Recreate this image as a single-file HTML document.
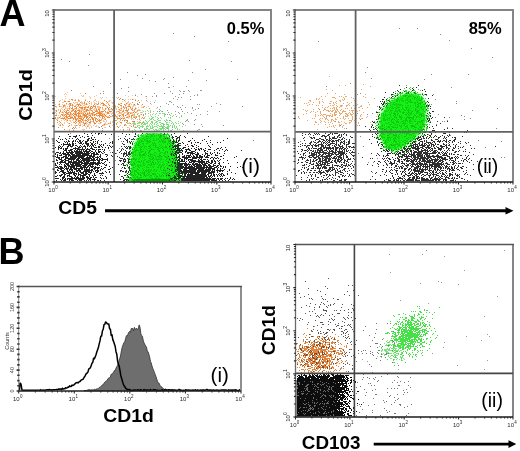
<!DOCTYPE html>
<html><head><meta charset="utf-8"><title>Figure</title><style>
html,body{margin:0;padding:0;background:#fff;}
body{width:520px;height:451px;overflow:hidden;position:relative;font-family:"Liberation Sans",sans-serif;}
svg{position:absolute;left:0;top:0;display:block;will-change:transform;}
</style></head><body>
<svg width="520" height="451" viewBox="0 0 520 451" font-family='"Liberation Sans",sans-serif'><defs>
<filter id="soft" x="0" y="0" width="100%" height="100%"><feGaussianBlur stdDeviation="0.4"/></filter>
<filter id="bl0" x="-30%" y="-30%" width="160%" height="160%"><feGaussianBlur stdDeviation="1.3"/></filter>
<filter id="bl1" x="-30%" y="-30%" width="160%" height="160%"><feGaussianBlur stdDeviation="3"/></filter>
<filter id="bl2" x="-30%" y="-30%" width="160%" height="160%"><feGaussianBlur stdDeviation="4"/></filter>
<clipPath id="cA1"><rect x="54" y="133" width="217" height="48.5"/></clipPath>
<clipPath id="cA2"><rect x="295" y="10" width="218" height="172"/></clipPath>
<clipPath id="cB2"><rect x="296" y="245" width="217" height="172"/></clipPath><clipPath id="cB2b"><rect x="296" y="374.5" width="217" height="42"/></clipPath>
</defs><g filter="url(#soft)"><path transform="translate(0 0.5)" stroke="#8a8a8a" stroke-width="1.0" fill="none" d="M130 146h1M143 140h1M117 93h1M89 122h1M109 126h1M85 93h1M132 132h1M190 99h1M107 154h1M102 130h1M152 127h1M146 107h1M134 121h1M88 65h1M128 91h1M161 135h1M69 61h1M109 150h1M71 147h1M119 148h1M72 128h1M142 78h1M137 162h1M121 168h1M105 116h1M127 120h1M135 95h1M61 157h1M108 108h1M85 123h1M93 101h1M177 106h1M93 86h1M128 162h1M169 120h1M103 153h1M124 125h1M134 104h1M132 115h1M74 108h1M133 125h1M191 113h1M60 116h1M168 83h1M135 100h1M101 174h1M220 104h1M164 93h1M76 135h1M133 167h1M155 81h1M121 118h1M160 106h1M127 72h1M160 147h1M194 124h1M99 127h1M139 102h1M109 138h1M135 108h1M76 120h1M103 91h1M121 88h1M170 165h1M181 109h1M70 133h1M94 123h1M159 111h1M109 143h1M125 115h1M186 120h1M161 125h1M115 160h1M113 145h1M118 136h1M198 108h1M110 83h1M116 153h1M145 153h1M124 120h1M121 141h1M79 148h1M129 149h1M110 152h1M182 111h1M159 170h1M128 87h1M160 150h1M114 139h1M177 151h1M156 169h1M71 90h1M145 74h1M116 124h1M89 150h1M137 75h1M231 61h1M92 132h1M101 126h1M139 117h1M152 126h1M122 99h1M120 79h1M189 60h1M183 93h1M76 125h1M194 36h1M188 80h1M228 41h1M223 125h1M124 152h1M206 80h1M237 79h1M242 106h1M89 54h1M61 59h1M192 72h1M100 93h1M173 33h1M253 140h1M135 112h1"/><path transform="translate(0 0.5)" stroke="#f5c49a" stroke-width="1.0" fill="none" d="M66 114h1M86 106h1M84 112h1M82 112h1M84 116h1M99 121h1M94 109h1M88 107h1M64 100h1M93 106h1M70 117h1M104 113h1M59 105h1M81 110h1M83 113h1M58 117h1M116 108h1M111 111h1M75 99h1M98 104h1M91 126h1M88 110h1M82 115h1M85 110h1M63 107h1M78 113h1M80 113h1M106 112h1M90 98h1M83 112h1M113 106h1M73 109h1M76 115h1M113 120h1M102 109h1M101 120h1M96 122h1M86 122h1M88 124h1M79 112h1M80 112h1M85 119h1M112 102h1M94 115h1M82 109h1M72 110h1M71 99h1M114 106h1M93 113h1M85 120h1M77 121h1M62 112h1M82 112h1M100 107h1M76 116h1M79 111h1M79 118h1M86 127h1M79 101h1M67 106h1M100 102h1M69 104h1M94 123h1M112 115h1M78 101h1M72 118h1M87 123h1M83 110h1M65 108h1M92 110h1M122 115h1M79 118h1M80 122h1M64 122h1M90 122h1M60 124h1M62 118h1M108 101h1M66 112h1M104 115h1M112 110h1M88 120h1M94 110h1M121 106h1M80 124h1M72 118h1M58 115h1M84 120h1M112 121h1M102 116h1M66 94h1M67 108h1M74 109h1M89 105h1M80 115h1M88 122h1M89 109h1M78 104h1M83 129h1M87 109h1M82 103h1M93 115h1M119 116h1M95 108h1M85 119h1M91 106h1M57 119h1M100 108h1M97 116h1M81 112h1M76 107h1M71 124h1M96 113h1M126 112h1M88 119h1M69 120h1M61 123h1M82 116h1M80 108h1M62 109h1M86 117h1M62 118h1M105 124h1M104 116h1M104 121h1M74 125h1M93 114h1M81 101h1M76 104h1M77 102h1M59 125h1M56 106h1M99 123h1M80 118h1M88 126h1M103 121h1M69 111h1M87 114h1M91 114h1M76 109h1M103 113h1M87 126h1M60 100h1M66 115h1M99 106h1M92 114h1M109 113h1M95 119h1M109 101h1M76 122h1M78 108h1M62 118h1M132 114h1M80 93h1M114 107h1M71 115h1M87 125h1M76 115h1M102 102h1M60 124h1M104 127h1M90 113h1M64 111h1M74 100h1M75 120h1M73 119h1M68 123h1M78 117h1M64 105h1M59 123h1M83 103h1M100 111h1M84 120h1M71 116h1M65 116h1M100 107h1M74 103h1M112 113h1M69 107h1M91 103h1M79 103h1M69 109h1M95 99h1M81 102h1M95 100h1M83 114h1M63 116h1M82 129h1M84 101h1M102 108h1M66 120h1M83 111h1M96 126h1M63 110h1M82 103h1M105 116h1M55 115h1M63 102h1M69 105h1M62 117h1M91 118h1M68 108h1M70 118h1M95 117h1M69 99h1M92 111h1M65 116h1M60 109h1M119 111h1M77 119h1M88 125h1M83 96h1M84 104h1M120 120h1M64 123h1M64 114h1M58 104h1M98 118h1M99 107h1M65 93h1M77 119h1M110 127h1M94 124h1M63 125h1M103 125h1M63 113h1M78 104h1M55 112h1M65 96h1M110 100h1M99 114h1M76 105h1M67 112h1M76 128h1M83 123h1M82 113h1M82 122h1M62 107h1M82 110h1M83 120h1M108 103h1M119 111h1M81 103h1M69 114h1M82 126h1M72 107h1M69 115h1M82 106h1M64 104h1M95 103h1M82 124h1M80 117h1M70 107h1M65 118h1M79 110h1M73 119h1M88 115h1M83 115h1M58 118h1M85 108h1M58 110h1M72 100h1M78 110h1M85 112h1M86 106h1M80 114h1M75 117h1M76 102h1M65 107h1M78 106h1M73 119h1M85 126h1M61 120h1M88 110h1M86 124h1M81 101h1M75 125h1M94 108h1M88 125h1M89 105h1M91 114h1M71 111h1M79 114h1M96 101h1M92 108h1M87 117h1M55 115h1M94 122h1M106 114h1M88 107h1M101 98h1M81 103h1M91 106h1M55 117h1M59 113h1M71 105h1M108 110h1M76 109h1M89 109h1M117 119h1M114 118h1M82 108h1M79 106h1M60 115h1M70 112h1M92 121h1M86 120h1M102 113h1M69 112h1M82 106h1M97 106h1M95 105h1M104 110h1M91 110h1M78 119h1M90 110h1M64 111h1M95 126h1M82 117h1M89 127h1M77 125h1M72 111h1M67 119h1M77 103h1M101 122h1M91 126h1M72 116h1M83 119h1M98 123h1M81 116h1M94 106h1M96 108h1M116 108h1M105 112h1M89 114h1M89 117h1M98 102h1M73 129h1M83 122h1M101 119h1M121 110h1M80 112h1M83 117h1M87 116h1M109 100h1M83 119h1M65 98h1M80 121h1M80 116h1M98 112h1M103 124h1M55 104h1M66 114h1M90 125h1M71 111h1M55 110h1M103 114h1M93 109h1M93 125h1M74 106h1M103 120h1M79 103h1M104 118h1M66 112h1M67 92h1M87 113h1M70 104h1M96 109h1M88 125h1M66 104h1M85 104h1M77 125h1M101 114h1M71 125h1M75 116h1M107 106h1M126 112h1M121 123h1M85 121h1M88 113h1M113 113h1M81 112h1M65 108h1M86 128h1M92 113h1M68 104h1M56 119h1M96 118h1M69 112h1M81 108h1M88 113h1M95 100h1M77 103h1M93 119h1M67 109h1M77 116h1M64 123h1M105 118h1M83 113h1M69 130h1M77 118h1M79 110h1M97 119h1M64 106h1M76 114h1M132 112h1M102 97h1M81 112h1M97 111h1M123 109h1M79 100h1M77 110h1M107 113h1M93 114h1M96 104h1M74 118h1M120 103h1M116 111h1M94 123h1M97 107h1M96 122h1M80 110h1M92 111h1M96 115h1M77 121h1M90 106h1M69 105h1M77 104h1M72 106h1M77 106h1M107 106h1M88 114h1M105 116h1M121 107h1M84 114h1M67 116h1M61 108h1M74 112h1M85 106h1M90 120h1M55 106h1M89 111h1M81 122h1M78 109h1M82 114h1M73 105h1M72 106h1M83 130h1M119 110h1M121 109h1M109 109h1M97 112h1M71 118h1M111 114h1M82 129h1M82 115h1M78 124h1M85 115h1M75 118h1M82 102h1M63 112h1M76 112h1M127 111h1M82 96h1M79 120h1M94 110h1M97 110h1M62 111h1M80 111h1M101 116h1M89 103h1M86 106h1M113 115h1M71 114h1M85 110h1M74 109h1M112 106h1M71 122h1M73 105h1M96 125h1M95 120h1M110 109h1M98 102h1M78 99h1M71 103h1M94 110h1M66 110h1M76 114h1M55 96h1M71 117h1M91 102h1M89 108h1M114 110h1M80 104h1M69 105h1M66 113h1M60 118h1M92 117h1M71 105h1M97 106h1M81 117h1M90 97h1M86 123h1M96 109h1M84 107h1M107 116h1M92 121h1M91 116h1M91 121h1M56 114h1M80 123h1M79 123h1M87 112h1M58 124h1M115 114h1M85 114h1M60 106h1M78 119h1M82 103h1M70 118h1M85 116h1M71 115h1M94 96h1M70 112h1M83 118h1M102 107h1M132 114h1M64 94h1M75 118h1M68 108h1M98 120h1M62 99h1M74 118h1M83 111h1M65 119h1M65 106h1M74 108h1M56 107h1M76 107h1M86 111h1M80 105h1M75 126h1M99 108h1M94 100h1M82 122h1M67 122h1M95 119h1M73 122h1M61 106h1M68 112h1M111 102h1M88 102h1M106 121h1M74 108h1M72 114h1M81 108h1M131 119h1M98 127h1M74 117h1M82 104h1M90 116h1M106 124h1M74 109h1M78 121h1M84 114h1M86 104h1M109 110h1M90 107h1M99 115h1M63 114h1M100 122h1M123 119h1M98 101h1M88 116h1M86 120h1M117 117h1M66 121h1M81 109h1M92 106h1M98 120h1M75 105h1M89 96h1M78 121h1M86 107h1M81 111h1M62 102h1M83 103h1M100 104h1M65 110h1M79 116h1M96 95h1M63 119h1M87 104h1M63 105h1M105 118h1M127 112h1M122 101h1M79 127h1M98 106h1M86 115h1M85 115h1M113 124h1M58 109h1M104 121h1M83 107h1M110 122h1M87 107h1M71 110h1M89 128h1M97 115h1M84 114h1M93 130h1M74 116h1M101 119h1M97 104h1M86 122h1M85 122h1M103 109h1M75 108h1M70 114h1M80 113h1M106 105h1M57 117h1M106 97h1M71 110h1M63 110h1M107 111h1M82 115h1M59 103h1M77 118h1M101 112h1M106 108h1M75 102h1M91 104h1M97 116h1M71 105h1M90 114h1M83 121h1M73 121h1M74 125h1M85 111h1M84 105h1M73 121h1M75 115h1M105 122h1M88 113h1M100 122h1M106 120h1M95 119h1M127 117h1M68 116h1M99 115h1M77 115h1M119 121h1M116 109h1M65 112h1M96 121h1M99 112h1M97 111h1M82 129h1M92 111h1M96 103h1M82 107h1M103 111h1M96 115h1M64 120h1M102 105h1M79 116h1M67 118h1M91 127h1M66 108h1M66 118h1M83 105h1M93 113h1M103 111h1M81 95h1M103 118h1M84 117h1M82 110h1M94 103h1M104 125h1M77 115h1M79 121h1M80 124h1M85 109h1M66 119h1M103 111h1M76 113h1M92 112h1M68 113h1M90 122h1M91 114h1M76 112h1M122 111h1M91 116h1M117 106h1M102 109h1M71 113h1M76 109h1M92 112h1M85 108h1M84 129h1M78 123h1M79 113h1M91 116h1M70 112h1M70 115h1M79 115h1M89 124h1M56 113h1M63 106h1M65 105h1M114 127h1M63 110h1M96 113h1M57 120h1M89 123h1M77 104h1M82 110h1M94 102h1M117 114h1M87 112h1M86 110h1M65 108h1M95 110h1M79 107h1M99 117h1M83 125h1M117 98h1M78 110h1M100 117h1M77 106h1M68 112h1M78 105h1M57 118h1M86 114h1M130 112h1M105 116h1M62 111h1M67 101h1M76 118h1M103 115h1M68 112h1M70 121h1M100 123h1M100 104h1M76 107h1M62 125h1M70 107h1M98 108h1M72 109h1M93 101h1M119 113h1M106 103h1M62 104h1M100 120h1M105 108h1M69 112h1M65 118h1M81 119h1M111 113h1M62 127h1M78 118h1M79 104h1M87 113h1M89 119h1M79 117h1M105 127h1M83 109h1M70 112h1M86 103h1M88 115h1M66 114h1M99 114h1M90 97h1M71 108h1M122 114h1M127 103h1M56 106h1M89 110h1M131 116h1M98 112h1M88 106h1M80 119h1M73 109h1M79 109h1M73 102h1M98 107h1M76 118h1M75 100h1M61 112h1M83 119h1M67 110h1M80 115h1M103 104h1M90 123h1M93 122h1M90 115h1M85 99h1M81 105h1M78 121h1M98 126h1M63 115h1M109 123h1M84 108h1M69 112h1M74 113h1M71 116h1M87 101h1M70 120h1M105 123h1M69 104h1M70 116h1M83 95h1M104 119h1M96 114h1M58 109h1M69 129h1M117 114h1M90 107h1M84 114h1M104 105h1M130 107h1M108 116h1M86 109h1M90 109h1M95 126h1M72 120h1M63 119h1M84 117h1M66 117h1M82 124h1M142 107h1M130 103h1M125 104h1M132 113h1M127 121h1M144 122h1M138 115h1M118 103h1M120 108h1M143 106h1M131 112h1M125 99h1M141 114h1M123 118h1M124 112h1M122 117h1M106 106h1M137 101h1M114 108h1M121 122h1M119 121h1M135 109h1M127 123h1M128 110h1M109 125h1M127 117h1M111 109h1M131 119h1M132 107h1M127 106h1M150 101h1M133 115h1M134 113h1M129 112h1M125 110h1M138 125h1M140 110h1M113 107h1M139 123h1M133 124h1M138 116h1M133 99h1M114 108h1M115 118h1M148 113h1M130 125h1M112 102h1M131 118h1M124 108h1M107 124h1M102 112h1M110 121h1M130 108h1M127 102h1M125 104h1M131 108h1M134 105h1M104 123h1M124 124h1M118 115h1M114 105h1M121 112h1M126 108h1M125 125h1M111 116h1M122 117h1M150 110h1M116 97h1M109 107h1M131 104h1M134 116h1M133 114h1M115 107h1M138 110h1M119 126h1M115 105h1M121 106h1M126 111h1M135 107h1M134 110h1M127 117h1M138 127h1M128 99h1M137 113h1M112 113h1M110 112h1M136 112h1M112 110h1M124 121h1M126 109h1M122 112h1M123 113h1M143 114h1M100 112h1M137 121h1M153 113h1M128 114h1M127 113h1M135 105h1M148 106h1M114 105h1M128 115h1M125 107h1M134 105h1M129 115h1M135 117h1M123 99h1M128 127h1M120 113h1M120 112h1M126 122h1M126 114h1M115 108h1M126 104h1M112 112h1M140 120h1M119 104h1M133 112h1M127 116h1M129 106h1M121 113h1M128 118h1M150 114h1M103 103h1M128 116h1M132 114h1M116 117h1M112 122h1M151 121h1M123 116h1M150 115h1M133 104h1M128 112h1M133 115h1M134 110h1M140 114h1M132 106h1M129 125h1M129 130h1M142 110h1M136 116h1M116 111h1M121 123h1M131 116h1M121 114h1M123 111h1M117 114h1M125 105h1M132 118h1M138 107h1M128 117h1M150 114h1M127 122h1M163 113h1M139 121h1M133 106h1M122 118h1M96 111h1M126 115h1M129 114h1M149 120h1M112 97h1M148 116h1M125 101h1M135 123h1M100 97h1M129 105h1M124 100h1M135 126h1M129 103h1M115 114h1M138 109h1M135 99h1M134 110h1M139 118h1M140 112h1M127 121h1M113 110h1M112 113h1M142 110h1M135 116h1M129 128h1M123 116h1M128 115h1M128 108h1M124 107h1M120 125h1M151 104h1M130 106h1M121 112h1M113 110h1M120 129h1M135 94h1M136 116h1M125 119h1M128 104h1M124 108h1M115 116h1M142 126h1M132 106h1M155 100h1M119 121h1M126 125h1M137 110h1M125 95h1M112 125h1M117 111h1M129 122h1M131 113h1M126 110h1M139 109h1M138 125h1M131 124h1M128 96h1M125 106h1M134 127h1M138 110h1M128 102h1M132 113h1M124 112h1M112 112h1M116 109h1M136 111h1M132 109h1M145 116h1M128 106h1M137 111h1M142 112h1M138 123h1M121 116h1M125 112h1M129 117h1M117 116h1M133 122h1M139 117h1M122 127h1M149 124h1M124 113h1M125 110h1M125 120h1M120 117h1M132 112h1M128 101h1M146 98h1M134 116h1M133 119h1M125 119h1M112 103h1M127 121h1M118 109h1M138 116h1M127 116h1M146 107h1M136 108h1M137 96h1M130 106h1M130 99h1M135 116h1M138 113h1M120 120h1M133 116h1M156 108h1M127 116h1M125 110h1M120 118h1M112 116h1M141 105h1M128 113h1M131 113h1M148 111h1M155 120h1M118 127h1M139 110h1M134 110h1M132 95h1M133 112h1M127 110h1M145 96h1M134 115h1M131 118h1M141 107h1M137 110h1M133 105h1M131 119h1M147 101h1M133 110h1M127 129h1M118 113h1M124 117h1M116 112h1M129 104h1M130 113h1M105 116h1M128 105h1M135 116h1M129 123h1M117 122h1M141 100h1"/><path transform="translate(0 0.5)" stroke="#e98a3e" stroke-width="1.0" fill="none" d="M67 117h1M56 111h1M102 114h1M94 104h1M95 114h1M69 108h1M64 111h1M85 113h1M85 115h1M69 103h1M86 103h1M94 112h1M87 117h1M66 116h1M79 122h1M86 117h1M79 113h1M76 107h1M72 107h1M96 110h1M83 115h1M86 115h1M67 114h1M73 113h1M86 118h1M66 115h1M62 115h1M78 116h1M104 110h1M87 107h1M108 117h1M81 116h1M78 112h1M60 111h1M74 128h1M108 109h1M89 112h1M96 115h1M95 106h1M83 114h1M80 125h1M86 120h1M95 118h1M91 117h1M92 114h1M86 120h1M70 112h1M79 111h1M67 114h1M101 119h1M80 118h1M124 100h1M78 121h1M64 129h1M83 122h1M105 111h1M81 108h1M94 115h1M85 107h1M77 118h1M137 110h1M85 120h1M74 122h1M75 100h1M90 115h1M90 109h1M97 104h1M86 109h1M59 112h1M93 120h1M78 104h1M79 120h1M58 127h1M74 117h1M71 117h1M83 113h1M59 106h1M84 117h1M86 116h1M64 118h1M73 130h1M69 118h1M99 116h1M78 105h1M55 106h1M76 111h1M98 109h1M73 118h1M86 111h1M69 125h1M116 123h1M99 119h1M103 111h1M61 118h1M65 119h1M102 107h1M80 116h1M79 118h1M89 115h1M62 124h1M97 121h1M84 108h1M92 114h1M72 108h1M92 117h1M72 108h1M100 120h1M103 116h1M99 120h1M92 113h1M94 104h1M98 112h1M79 122h1M85 116h1M79 118h1M60 125h1M74 116h1M95 123h1M108 104h1M73 119h1M68 112h1M108 113h1M68 114h1M119 116h1M84 124h1M68 101h1M100 114h1M112 109h1M59 121h1M110 111h1M79 116h1M109 111h1M77 118h1M57 120h1M92 111h1M99 114h1M119 104h1M113 115h1M95 119h1M79 110h1M75 121h1M78 100h1M69 101h1M79 104h1M87 114h1M83 113h1M127 113h1M96 118h1M75 110h1M93 105h1M63 105h1M73 127h1M108 112h1M94 123h1M64 117h1M82 108h1M100 114h1M92 119h1M90 121h1M69 108h1M73 118h1M85 115h1M99 121h1M69 123h1M64 111h1M103 104h1M68 116h1M102 125h1M88 118h1M98 115h1M113 129h1M95 107h1M97 119h1M68 110h1M72 114h1M94 114h1M110 123h1M107 107h1M123 110h1M89 103h1M87 117h1M101 111h1M84 116h1M82 107h1M66 111h1M100 120h1M65 112h1M92 118h1M59 117h1M102 111h1M66 103h1M98 120h1M56 115h1M76 120h1M104 100h1M70 103h1M85 100h1M75 108h1M89 117h1M91 113h1M65 114h1M93 118h1M70 112h1M66 116h1M84 114h1M72 99h1M122 111h1M57 122h1M96 111h1M100 113h1M93 121h1M75 112h1M90 107h1M103 93h1M77 110h1M65 101h1M87 119h1M68 118h1M89 101h1M87 119h1M60 116h1M113 108h1M102 118h1M98 103h1M63 106h1M77 104h1M74 106h1M76 119h1M64 105h1M91 106h1M87 107h1M90 115h1M75 111h1M105 119h1M87 109h1M73 110h1M83 114h1M100 107h1M78 115h1M79 125h1M72 110h1M95 114h1M76 122h1M73 109h1M71 108h1M93 106h1M74 116h1M55 117h1M94 112h1M72 114h1M90 122h1M90 119h1M104 104h1M101 113h1M74 114h1M81 118h1M62 112h1M112 109h1M91 110h1M107 102h1M78 113h1M110 116h1M85 107h1M86 110h1M84 107h1M94 106h1M93 118h1M56 110h1M102 116h1M75 106h1M76 114h1M113 102h1M99 110h1M78 110h1M86 114h1M93 112h1M82 119h1M62 114h1M70 117h1M62 118h1M87 113h1M97 111h1M101 115h1M71 111h1M87 116h1M93 120h1M75 119h1M81 111h1M120 105h1M87 113h1M99 112h1M76 120h1M84 111h1M83 118h1M104 110h1M119 112h1M104 124h1M95 123h1M84 117h1M73 115h1M81 107h1M94 117h1M70 114h1M99 115h1M67 110h1M66 112h1M55 115h1M60 122h1M103 116h1M80 102h1M87 107h1M103 103h1M105 108h1M75 117h1M106 116h1M90 109h1M84 115h1M91 108h1M59 104h1M70 104h1M82 108h1M94 122h1M77 104h1M81 121h1M100 122h1M107 112h1M97 113h1M105 109h1M77 113h1M78 117h1M89 113h1M78 120h1M75 121h1M112 115h1M80 115h1M67 113h1M92 115h1M115 106h1M85 116h1M104 114h1M76 108h1M75 127h1M72 107h1M81 108h1M115 115h1M64 101h1M111 108h1M66 103h1M80 107h1M98 112h1M94 115h1M88 120h1M55 118h1M90 121h1M66 117h1M127 110h1M80 120h1M87 110h1M64 109h1M75 123h1M62 118h1M100 115h1M79 118h1M93 119h1M72 104h1M75 113h1M105 105h1M67 114h1M90 122h1M64 117h1M76 108h1M99 113h1M70 105h1M98 113h1M72 117h1M109 115h1M106 101h1M75 111h1M80 116h1M69 115h1M87 121h1M103 105h1M59 117h1M99 109h1M61 114h1M69 116h1M119 109h1M84 114h1M88 106h1M72 104h1M102 117h1M84 103h1M121 108h1M77 113h1M84 123h1M95 120h1M70 118h1M84 102h1M100 112h1M87 116h1M90 116h1M78 116h1M89 112h1M84 125h1M108 123h1M96 113h1M79 107h1M96 110h1M96 121h1M68 126h1M64 115h1M99 111h1M65 116h1M76 115h1M87 126h1M104 117h1M83 113h1M82 120h1M74 111h1M111 111h1M102 128h1M82 108h1M60 110h1M70 113h1M93 106h1M71 99h1M99 120h1M90 108h1M88 110h1M95 111h1M92 107h1M69 106h1M78 114h1M123 129h1M63 118h1M75 118h1M102 103h1M81 113h1M70 105h1M61 118h1M93 112h1M101 113h1M107 113h1M84 109h1M101 103h1M66 117h1M86 104h1M72 105h1M86 111h1M96 109h1M102 115h1M67 120h1M105 115h1M75 114h1M66 113h1M81 119h1M59 101h1M84 116h1M88 107h1M80 105h1M143 114h1M124 108h1M102 107h1M134 111h1M122 120h1M123 111h1M141 112h1M123 110h1M137 104h1M125 124h1M118 97h1M131 109h1M119 118h1M138 104h1M135 118h1M126 122h1M132 108h1M131 115h1M123 106h1M134 117h1M123 114h1M132 115h1M116 123h1M127 117h1M130 123h1M118 118h1M121 105h1M120 115h1M133 117h1M118 104h1M130 123h1M141 114h1M129 116h1M109 107h1M127 114h1M136 116h1M123 111h1M137 114h1M132 99h1M130 123h1M123 106h1M120 98h1M123 107h1M126 108h1M131 117h1M130 107h1M123 116h1M126 107h1M129 129h1M109 117h1M118 127h1M118 107h1M124 118h1M123 107h1M123 118h1M117 118h1M132 102h1M128 106h1M109 105h1M126 103h1M114 108h1M143 107h1M121 103h1M122 114h1M126 117h1M124 104h1M125 110h1M141 114h1M128 112h1M134 109h1M137 119h1M116 120h1M143 118h1M133 112h1M135 127h1M117 126h1M134 111h1M130 113h1M120 122h1M149 108h1M131 116h1M123 114h1M128 109h1M135 112h1M137 103h1M132 110h1M138 100h1M140 130h1M113 124h1M121 122h1M116 116h1M127 121h1M140 122h1M132 121h1M115 120h1M123 107h1M136 117h1M120 110h1M125 105h1M129 106h1M107 117h1M133 121h1M129 104h1M131 126h1M116 124h1M118 111h1M120 110h1M128 113h1M126 120h1M127 111h1M144 106h1M139 116h1M119 99h1M119 115h1M143 122h1M123 116h1M139 119h1M142 117h1M120 119h1M123 115h1"/><path transform="translate(0 0.5)" stroke="#7ee07e" stroke-width="1.0" fill="none" d="M146 123h1M154 126h1M178 123h1M162 123h1M147 126h1M154 130h1M175 122h1M161 111h1M168 127h1M160 128h1M156 122h1M158 118h1M178 123h1M154 124h1M178 121h1M173 115h1M157 123h1M168 130h1M155 122h1M146 126h1M153 111h1M145 124h1M163 125h1M157 117h1M164 113h1M167 128h1M116 120h1M161 129h1M133 123h1M159 130h1M145 123h1M158 115h1M174 125h1M134 123h1M159 130h1M155 122h1M132 123h1M198 129h1M144 128h1M152 126h1M152 126h1M143 126h1M164 124h1M150 123h1M139 125h1M146 127h1M151 118h1M168 112h1M163 128h1M152 114h1M157 127h1M159 126h1M163 128h1M166 122h1M144 117h1M159 120h1M159 126h1M150 111h1M164 126h1M170 125h1M171 130h1M154 123h1M159 126h1M187 120h1M142 122h1M159 113h1M168 126h1M165 127h1M159 128h1M166 119h1M154 120h1M156 126h1M151 119h1M142 126h1M166 127h1M179 129h1M179 125h1M173 123h1M144 129h1M176 123h1M147 126h1M156 121h1M181 115h1M143 121h1M167 122h1M160 126h1M145 114h1M162 126h1M150 110h1M170 118h1M172 122h1M139 110h1M150 112h1M152 127h1M141 126h1M142 125h1M158 120h1M135 124h1M150 119h1M141 130h1M144 123h1M174 127h1M135 130h1M139 127h1M161 118h1M153 127h1M151 118h1M164 120h1M128 123h1M141 126h1M170 130h1M154 126h1M134 115h1M163 130h1M162 128h1M163 123h1M153 119h1M163 128h1M168 128h1M136 127h1M149 129h1M146 121h1M145 129h1M167 120h1M147 122h1M142 123h1M157 121h1M151 128h1M166 123h1M183 130h1M152 128h1M149 125h1M134 122h1M160 122h1M168 124h1M153 117h1M172 129h1M157 125h1M176 126h1M161 128h1M148 121h1M137 125h1M134 114h1M160 110h1M168 112h1M156 113h1M153 129h1M169 122h1M132 130h1M166 120h1M158 129h1M151 122h1M151 116h1M179 117h1M180 122h1M142 125h1M148 121h1M168 127h1M141 124h1M147 123h1M133 117h1M181 116h1M170 120h1M162 128h1M165 129h1M147 125h1M172 116h1M150 126h1M145 111h1M173 124h1M164 128h1M127 123h1M164 116h1M139 122h1M171 123h1M160 120h1M162 123h1M158 125h1M141 123h1M168 117h1M137 126h1M150 128h1M146 128h1M152 117h1M168 125h1M148 113h1M166 119h1M134 124h1M141 123h1M152 122h1M149 118h1M160 113h1M166 127h1M166 128h1M139 125h1M157 130h1M150 126h1M155 129h1M166 128h1M151 124h1M175 128h1M143 111h1M163 125h1M137 123h1M166 124h1M141 112h1M145 120h1M151 124h1M159 122h1M155 114h1M152 123h1M184 113h1M157 119h1M144 124h1M169 126h1M167 126h1M172 125h1M144 129h1M170 117h1M171 121h1M157 121h1M160 124h1M117 122h1M149 120h1M133 126h1M150 123h1M160 124h1M164 124h1M134 129h1M168 104h1M139 128h1M174 126h1M164 114h1M123 130h1M155 122h1M162 113h1M152 121h1M144 118h1M152 118h1M152 125h1M155 116h1M160 129h1M155 126h1M163 125h1M150 127h1M171 113h1M161 123h1M182 126h1M177 128h1M168 129h1M148 126h1M138 122h1M164 115h1M160 122h1M163 126h1M156 124h1M161 126h1M163 129h1M167 128h1M156 130h1M167 127h1M133 126h1M146 129h1M175 114h1M160 117h1M140 126h1M167 126h1M137 119h1M163 127h1M162 127h1M142 126h1M176 127h1M158 115h1M141 123h1M174 127h1M148 129h1M185 125h1M161 125h1M172 126h1M127 127h1M170 115h1M156 129h1M143 124h1M161 118h1M142 127h1M151 121h1M141 118h1M177 129h1M139 115h1M147 110h1"/><path transform="translate(0 0.5)" stroke="#9a9a9a" stroke-width="1.0" fill="none" d="M167 114h1M162 127h1M170 91h1M165 114h1M182 123h1M171 102h1M164 78h1M166 103h1M188 90h1M195 119h1M194 95h1M110 111h1M156 96h1M169 101h1M180 91h1M143 115h1M182 105h1M163 124h1M179 94h1M169 114h1M186 86h1M167 128h1M147 128h1M163 79h1M173 86h1M154 93h1M201 124h1M154 102h1M211 106h1M194 120h1M157 111h1M178 112h1M199 104h1M172 127h1M152 96h1M216 103h1M146 96h1M187 119h1M176 116h1M173 77h1M168 112h1M169 87h1M197 95h1M188 121h1M156 95h1M207 114h1M150 103h1M180 107h1M200 90h1M183 91h1M197 94h1M175 111h1M195 109h1M183 124h1M219 111h1M162 111h1M200 114h1M185 107h1M179 113h1M165 121h1M185 121h1M146 100h1M149 80h1M190 96h1M145 113h1M205 69h1M170 101h1M181 116h1M177 99h1M184 91h1M173 104h1M197 130h1M199 129h1M201 90h1M172 93h1M142 104h1M189 91h1M193 110h1M168 87h1M192 108h1M202 126h1M178 112h1M197 104h1M141 94h1M167 124h1M168 104h1M187 112h1M159 109h1M167 110h1M157 107h1M175 96h1M177 99h1M196 115h1M192 107h1M179 90h1M181 97h1M178 97h1M178 107h1M207 111h1M126 110h1M173 98h1"/><path transform="translate(0 0.5)" stroke="#222" stroke-width="1.0" fill="none" d="M80 156h1M60 162h1M79 160h1M56 160h1M66 154h1M63 156h1M89 164h1M62 167h1M84 168h1M73 172h1M62 174h1M57 141h1M87 155h1M86 159h1M91 154h1M106 172h1M84 169h1M84 160h1M78 162h1M81 175h1M75 157h1M67 157h1M109 171h1M83 176h1M86 165h1M82 169h1M66 155h1M77 150h1M73 161h1M79 165h1M74 171h1M72 162h1M90 158h1M64 173h1M86 160h1M71 172h1M86 180h1M81 169h1M83 171h1M65 166h1M68 164h1M67 164h1M82 162h1M90 173h1M95 143h1M72 158h1M81 168h1M56 152h1M67 153h1M70 166h1M57 170h1M87 166h1M68 153h1M55 164h1M82 176h1M75 137h1M89 165h1M68 141h1M102 169h1M57 166h1M60 166h1M77 171h1M68 165h1M100 154h1M56 165h1M69 174h1M83 160h1M87 161h1M94 147h1M84 174h1M111 155h1M72 153h1M82 156h1M91 151h1M74 158h1M75 175h1M72 170h1M70 176h1M63 177h1M71 151h1M57 166h1M84 177h1M56 178h1M109 145h1M103 145h1M95 166h1M76 157h1M70 150h1M97 165h1M81 152h1M87 136h1M68 161h1M94 162h1M67 168h1M80 171h1M69 158h1M86 153h1M72 143h1M72 156h1M90 172h1M78 168h1M97 180h1M87 141h1M86 170h1M56 172h1M60 148h1M91 143h1M63 162h1M70 169h1M87 148h1M74 157h1M86 152h1M66 148h1M83 146h1M94 162h1M83 157h1M80 180h1M66 150h1M99 159h1M106 165h1M70 144h1M101 162h1M78 159h1M60 171h1M80 149h1M84 154h1M87 158h1M94 178h1M66 144h1M86 164h1M89 153h1M75 164h1M65 168h1M65 162h1M90 164h1M90 164h1M67 154h1M59 158h1M97 142h1M56 157h1M81 152h1M67 158h1M80 165h1M76 166h1M99 173h1M111 134h1M76 165h1M93 160h1M94 160h1M71 146h1M66 167h1M102 173h1M73 172h1M78 160h1M74 168h1M77 171h1M70 178h1M89 174h1M97 162h1M73 162h1M59 162h1M79 163h1M57 155h1M69 169h1M96 153h1M112 152h1M84 164h1M63 154h1M90 158h1M69 169h1M101 160h1M89 159h1M59 166h1M55 163h1M91 153h1M78 178h1M70 156h1M85 171h1M70 179h1M90 162h1M69 152h1M64 172h1M59 157h1M82 148h1M67 175h1M88 171h1M75 151h1M94 174h1M73 163h1M69 178h1M63 154h1M89 158h1M61 162h1M64 161h1M84 169h1M86 161h1M69 144h1M80 152h1M56 176h1M74 173h1M92 159h1M102 159h1M76 159h1M75 161h1M85 142h1M95 170h1M86 153h1M68 162h1M84 133h1M93 163h1M68 175h1M59 136h1M86 177h1M84 166h1M93 152h1M80 143h1M69 173h1M72 163h1M64 167h1M65 158h1M71 152h1M72 170h1M95 150h1M61 170h1M78 142h1M70 150h1M100 145h1M83 175h1M73 141h1M91 148h1M80 168h1M72 163h1M101 178h1M89 178h1M104 167h1M95 168h1M90 140h1M81 151h1M63 157h1M89 159h1M80 145h1M89 150h1M79 151h1M69 172h1M64 165h1M89 157h1M97 157h1M75 164h1M85 153h1M99 158h1M67 142h1M74 168h1M63 171h1M96 164h1M83 166h1M72 165h1M55 178h1M76 163h1M93 146h1M75 149h1M73 168h1M88 172h1M61 169h1M80 170h1M88 163h1M68 144h1M67 153h1M82 141h1M77 156h1M76 145h1M82 162h1M82 159h1M66 139h1M69 169h1M85 169h1M95 145h1M98 162h1M67 168h1M95 157h1M90 170h1M79 163h1M86 172h1M91 162h1M105 159h1M64 166h1M88 169h1M77 163h1M76 155h1M96 152h1M91 156h1M64 154h1M75 163h1M82 162h1M59 159h1M91 160h1M78 162h1M81 178h1M84 174h1M105 154h1M80 165h1M74 157h1M104 159h1M72 158h1M72 153h1M59 145h1M95 133h1M83 163h1M86 173h1M81 150h1M77 166h1M68 156h1M68 163h1M85 151h1M81 158h1M102 159h1M68 134h1M72 163h1M64 159h1M99 133h1M61 167h1M90 160h1M100 163h1M77 164h1M89 156h1M74 155h1M55 156h1M82 179h1M79 180h1M68 155h1M93 156h1M84 164h1M72 167h1M72 153h1M58 149h1M76 178h1M109 172h1M69 143h1M85 141h1M71 151h1M91 163h1M85 166h1M76 156h1M72 163h1M96 167h1M76 160h1M88 155h1M72 167h1M85 148h1M84 161h1M71 146h1M74 171h1M83 165h1M71 149h1M84 163h1M76 174h1M77 159h1M71 179h1M67 143h1M85 158h1M72 144h1M87 159h1M95 133h1M81 142h1M57 154h1M69 162h1M92 164h1M75 165h1M68 173h1M78 168h1M86 168h1M83 149h1M88 158h1M67 179h1M75 178h1M76 169h1M79 168h1M76 156h1M60 179h1M99 156h1M102 159h1M103 178h1M91 137h1M72 164h1M93 141h1M76 153h1M88 159h1M66 156h1M71 162h1M86 151h1M105 159h1M79 147h1M112 156h1M61 168h1M79 146h1M66 168h1M77 155h1M72 157h1M78 174h1M93 161h1M93 139h1M83 166h1M81 163h1M81 156h1M87 144h1M79 161h1M86 157h1M61 180h1M91 155h1M104 180h1M82 176h1M59 153h1M99 151h1M75 175h1M76 162h1M88 157h1M85 146h1M97 156h1M88 149h1M81 143h1M63 180h1M82 179h1M89 159h1M65 162h1M71 166h1M86 176h1M76 156h1M83 173h1M72 180h1M80 137h1M60 169h1M89 159h1M78 162h1M83 174h1M89 161h1M72 145h1M91 138h1M97 160h1M85 147h1M98 163h1M70 146h1M92 156h1M83 143h1M65 156h1M78 155h1M72 167h1M71 176h1M81 158h1M95 150h1M75 178h1M81 164h1M58 167h1M81 167h1M96 177h1M91 172h1M86 168h1M72 169h1M65 150h1M78 153h1M60 159h1M62 161h1M93 160h1M66 164h1M105 161h1M59 155h1M86 142h1M63 170h1M82 167h1M64 150h1M80 166h1M77 165h1M73 161h1M87 139h1M101 146h1M71 153h1M92 179h1M81 150h1M79 156h1M111 147h1M70 164h1M76 168h1M84 153h1M105 171h1M98 171h1M73 136h1M86 158h1M103 173h1M82 153h1M82 157h1M87 171h1M58 157h1M68 146h1M84 152h1M87 145h1M66 167h1M75 140h1M78 172h1M77 141h1M89 161h1M81 143h1M82 157h1M59 172h1M64 173h1M84 175h1M56 159h1M83 161h1M70 163h1M68 167h1M89 156h1M70 173h1M67 164h1M70 173h1M80 166h1M79 155h1M76 145h1M93 157h1M74 158h1M98 146h1M64 179h1M78 159h1M60 175h1M63 172h1M92 157h1M91 177h1M86 169h1M74 150h1M81 155h1M81 163h1M88 139h1M70 162h1M77 153h1M82 152h1M80 168h1M68 178h1M104 164h1M72 167h1M90 160h1M82 152h1M97 163h1M109 162h1M76 170h1M61 158h1M81 180h1M112 141h1M86 167h1M61 166h1M72 163h1M98 147h1M59 147h1M76 157h1M75 161h1M110 146h1M75 148h1M98 167h1M69 172h1M67 154h1M94 152h1M88 152h1M88 166h1M88 159h1M70 172h1M82 178h1M83 174h1M72 144h1M71 159h1M69 155h1M75 156h1M60 146h1M78 156h1M58 148h1M80 164h1M78 161h1M64 144h1M91 140h1M107 155h1M98 168h1M59 166h1M97 159h1M78 154h1M70 152h1M79 156h1M99 146h1M87 155h1M73 152h1M69 179h1M73 168h1M87 158h1M106 159h1M64 159h1M79 162h1M73 155h1M68 160h1M85 172h1M87 170h1M59 164h1M64 175h1M96 163h1M84 149h1M87 140h1M72 152h1M74 159h1M86 165h1M72 172h1M63 153h1M79 151h1M92 169h1M64 174h1M94 155h1M89 164h1M67 176h1M79 164h1M78 159h1M88 136h1M89 175h1M60 167h1M60 161h1M94 155h1M81 146h1M85 159h1M84 159h1M101 173h1M62 146h1M95 177h1M67 160h1M89 174h1M98 149h1M59 164h1M85 174h1M75 161h1M75 143h1M80 156h1M64 166h1M65 144h1M88 143h1M91 163h1M71 149h1M58 168h1M112 146h1M95 139h1M84 151h1M64 177h1M71 150h1M82 160h1M65 163h1M102 149h1M81 173h1M85 162h1M64 165h1M66 141h1M68 140h1M75 158h1M75 157h1M84 168h1M82 177h1M100 157h1M76 157h1M65 165h1M79 178h1M100 151h1M71 167h1M80 157h1M74 156h1M85 169h1M83 151h1M67 148h1M76 168h1M92 160h1M95 157h1M92 159h1M91 166h1M74 156h1M74 169h1M92 165h1M62 177h1M78 175h1M74 158h1M69 161h1M62 153h1M87 178h1M69 158h1M74 166h1M75 176h1M69 144h1M99 151h1M72 156h1M82 149h1M60 146h1M72 154h1M74 175h1M75 168h1M71 161h1M81 160h1M101 141h1M77 168h1M77 165h1M73 148h1M102 158h1M87 154h1M89 149h1M69 152h1M77 149h1M82 165h1M81 164h1M67 164h1M68 158h1M86 155h1M83 178h1M80 174h1M97 164h1M70 161h1M82 154h1M58 158h1M91 147h1M63 144h1M61 159h1M75 141h1M70 173h1M86 142h1M82 163h1M103 163h1M61 161h1M56 165h1M75 169h1M84 170h1M84 180h1M94 160h1M58 170h1M67 142h1M77 159h1M91 146h1M86 176h1M73 180h1M65 166h1M92 145h1M93 159h1M77 162h1M102 173h1M62 171h1M69 176h1M72 155h1M67 154h1M71 177h1M78 157h1M73 144h1M88 145h1M78 161h1M79 171h1M100 177h1M84 158h1M81 155h1M79 179h1M80 155h1M87 177h1M68 163h1M95 163h1M101 158h1M95 164h1M72 155h1M56 152h1M73 159h1M81 153h1M91 164h1M76 161h1M75 157h1M101 158h1M70 158h1M94 180h1M92 160h1M60 153h1M83 157h1M71 168h1M66 158h1M57 157h1M85 162h1M74 165h1M83 165h1M64 141h1M75 148h1M57 169h1M55 173h1M85 175h1M81 162h1M66 173h1M78 160h1M88 159h1M105 143h1M66 151h1M88 153h1M109 171h1M80 179h1M100 155h1M100 163h1M79 151h1M90 152h1M94 144h1M96 157h1M96 159h1M79 158h1M68 158h1M73 166h1M79 150h1M85 170h1M72 141h1M80 161h1M92 165h1M84 151h1M112 142h1M110 168h1M63 152h1M71 169h1M60 169h1M63 160h1M87 160h1M65 172h1M64 165h1M75 149h1M90 162h1M74 167h1M74 163h1M92 162h1M86 158h1M86 159h1M93 149h1M65 144h1M82 173h1M70 153h1M94 163h1M91 143h1M64 162h1M98 151h1M62 179h1M96 149h1M82 149h1M67 171h1M63 173h1M75 136h1M79 163h1M69 170h1M87 146h1M59 168h1M79 154h1M79 149h1M83 155h1M61 144h1M70 155h1M76 152h1M92 170h1M72 159h1M100 175h1M100 157h1M95 164h1M98 161h1M84 162h1M71 158h1M88 159h1M93 179h1M82 152h1M76 154h1M57 156h1M89 167h1M84 165h1M60 171h1M80 145h1M89 163h1M78 158h1M90 157h1M90 162h1M58 138h1M75 163h1M86 162h1M92 144h1M99 159h1M78 156h1M89 167h1M97 158h1M103 151h1M66 150h1M74 156h1M64 175h1M91 169h1M60 152h1M96 172h1M92 159h1M86 152h1M69 150h1M90 142h1M59 175h1M76 139h1M78 166h1M92 143h1M83 160h1M83 158h1M73 155h1M79 135h1M77 159h1M89 160h1M76 150h1M94 159h1M55 171h1M96 152h1M77 163h1M95 147h1M80 165h1M91 167h1M100 180h1M71 170h1M80 165h1M77 176h1M82 149h1M56 172h1M77 154h1M75 153h1M68 173h1M76 163h1M57 175h1M99 144h1M85 163h1M106 154h1M67 157h1M62 139h1M83 171h1M55 163h1M82 149h1M69 145h1M74 150h1M83 176h1M80 159h1M106 156h1M88 166h1M61 160h1M93 163h1M60 169h1M80 164h1M61 170h1M67 147h1M98 161h1M71 156h1M70 162h1M71 160h1M75 153h1M100 156h1M62 171h1M61 154h1M87 146h1M56 167h1M74 171h1M95 157h1M79 162h1M72 151h1M69 158h1M66 173h1M70 169h1M81 162h1M97 157h1M93 142h1M71 164h1M68 166h1M89 172h1M73 165h1M74 171h1M63 148h1M65 174h1M84 170h1M55 176h1M66 168h1M69 166h1M80 177h1M59 153h1M94 168h1M74 173h1M75 152h1M74 148h1M69 165h1M65 162h1M95 167h1M82 168h1M77 152h1M93 164h1M68 173h1M88 157h1M79 157h1M66 148h1M89 170h1M57 178h1M88 145h1M66 169h1M84 171h1M98 154h1M87 156h1M70 149h1M78 152h1M73 163h1M62 168h1M63 162h1M79 170h1M86 163h1M77 177h1M86 174h1M80 153h1M64 180h1M93 166h1M61 162h1M88 180h1M101 133h1M82 169h1M83 158h1M81 150h1M67 178h1M74 166h1M58 146h1M80 153h1M86 170h1M69 180h1M65 138h1M71 164h1M78 157h1M79 141h1M77 159h1M79 143h1M60 155h1M87 167h1M98 170h1M58 168h1M69 165h1M82 172h1M92 148h1M87 157h1M96 170h1M77 153h1M84 156h1M84 174h1M72 178h1M95 154h1M87 152h1M92 167h1M73 164h1M93 153h1M63 168h1M84 167h1M64 179h1M89 176h1M72 170h1M81 172h1M55 178h1M100 173h1M87 153h1M78 165h1M84 162h1M83 155h1M98 164h1M81 164h1M57 160h1M74 156h1M96 170h1M86 143h1M72 170h1M87 161h1M80 164h1M87 134h1M56 180h1M65 142h1M88 151h1M75 168h1M83 154h1M106 156h1M74 136h1M81 156h1M70 163h1M69 169h1M77 158h1M57 163h1M97 153h1M77 153h1M94 179h1M80 151h1M80 175h1M88 162h1M88 178h1M61 154h1M95 167h1M64 165h1M81 158h1M79 152h1M102 160h1M73 157h1M87 170h1M79 160h1M84 145h1M66 157h1M65 160h1M83 151h1M56 176h1M66 166h1M87 171h1M69 152h1M65 157h1M62 172h1M80 145h1M73 165h1M80 162h1M75 155h1M104 162h1M72 149h1M80 147h1M78 147h1M80 177h1M55 153h1M94 137h1M78 172h1M77 152h1M85 160h1M77 171h1M97 165h1M72 180h1M61 160h1M80 168h1M65 150h1M84 163h1M63 178h1M76 167h1M75 163h1M78 139h1M71 157h1M67 146h1M77 170h1M70 153h1M80 165h1M74 150h1M77 148h1M98 163h1M82 179h1M87 163h1M84 151h1M71 168h1M59 172h1M89 171h1M93 139h1M86 163h1M84 137h1M84 178h1M78 162h1M82 156h1M78 169h1M83 167h1M65 148h1M69 179h1M86 158h1M73 141h1M80 178h1M105 167h1M88 151h1M88 172h1M69 179h1M62 170h1M75 179h1M78 152h1M67 173h1M80 172h1M88 144h1M87 143h1M64 153h1M78 166h1M69 159h1M84 160h1M101 160h1M101 162h1M82 168h1M94 167h1M101 160h1M79 164h1M82 156h1M90 170h1M78 155h1M71 180h1M68 161h1M78 164h1M70 152h1M89 157h1M74 163h1M99 161h1M95 154h1M61 148h1M93 162h1M73 163h1M97 167h1M85 175h1M78 158h1M88 138h1M71 159h1M83 140h1M84 146h1M76 173h1M84 168h1M65 154h1M86 154h1M62 160h1M87 141h1M85 167h1M88 157h1M71 178h1M75 173h1M81 153h1M68 173h1M98 150h1M72 170h1M92 156h1M66 152h1M83 159h1M73 167h1M91 166h1M75 179h1M67 171h1M62 157h1M65 138h1M89 157h1M89 146h1M73 148h1M66 163h1M82 158h1M87 179h1M71 165h1M76 167h1M90 180h1M89 155h1M78 161h1M68 150h1M66 164h1M71 173h1M88 177h1M87 161h1M83 153h1M98 152h1M75 145h1M74 163h1M74 177h1M105 134h1M83 177h1M85 143h1M80 165h1M111 147h1M95 170h1M90 170h1M67 163h1M86 171h1M74 162h1M80 168h1M82 178h1M73 174h1M88 154h1M101 152h1M93 158h1M82 159h1M94 154h1M94 169h1M77 162h1M73 165h1M88 161h1M68 168h1M90 148h1M65 179h1M67 165h1M79 166h1M59 168h1M79 174h1M87 170h1M61 164h1M92 159h1M72 142h1M87 164h1M82 158h1M73 158h1M72 180h1M56 140h1M70 162h1M69 175h1M102 172h1M93 176h1M61 147h1M90 150h1M82 168h1M74 158h1M86 180h1M90 164h1M72 164h1M76 166h1M82 158h1M66 163h1M82 154h1M78 161h1M70 156h1M68 164h1M84 145h1M91 144h1M84 167h1M68 164h1M90 150h1M82 159h1M87 149h1M95 179h1M67 144h1M78 179h1M71 152h1M68 166h1M107 158h1M92 157h1M55 172h1M85 171h1M72 158h1M95 151h1M81 179h1M77 178h1M81 163h1M85 158h1M80 165h1M76 162h1M78 175h1M86 150h1M64 162h1M79 153h1M78 177h1M73 178h1M89 160h1M62 168h1M75 178h1M68 158h1M87 151h1M73 173h1M80 167h1M85 159h1M58 178h1M86 164h1M69 141h1M76 166h1M78 161h1M90 180h1M89 161h1M103 159h1M82 167h1M73 164h1M73 145h1M88 163h1M101 158h1M84 178h1M72 179h1M83 149h1M83 150h1M80 152h1M69 154h1M72 162h1M94 174h1M82 147h1M80 140h1M106 177h1M82 144h1M63 143h1M90 163h1M69 174h1M87 173h1M80 164h1M64 169h1M89 165h1M61 155h1M98 180h1M80 162h1M66 149h1M55 156h1M101 144h1M99 162h1M62 174h1M102 147h1M82 175h1M77 180h1M78 166h1M76 148h1M99 152h1M82 158h1M55 147h1M108 147h1M91 159h1M65 160h1M75 169h1M67 148h1M80 180h1M85 174h1M83 172h1M71 154h1M69 178h1M91 158h1M78 178h1M110 174h1M69 151h1M90 156h1M80 178h1M69 173h1M98 160h1M81 164h1M67 164h1M75 153h1M93 159h1M63 154h1M98 157h1M89 167h1M76 151h1M98 170h1M103 163h1M88 170h1M82 172h1M105 176h1M100 169h1M67 170h1M77 160h1M77 168h1M74 151h1M59 159h1M92 170h1M81 161h1M81 167h1M99 149h1M72 177h1M79 155h1M83 166h1M74 161h1M78 172h1M90 157h1M79 150h1M98 140h1M69 158h1M82 148h1M60 168h1M78 178h1M70 136h1M98 147h1M90 165h1M86 176h1M105 165h1M99 165h1M89 167h1M70 168h1M60 179h1M79 169h1M75 147h1M71 156h1M76 164h1M57 152h1M100 159h1M64 156h1M70 153h1M87 170h1M57 157h1M92 149h1M92 153h1M75 162h1M65 178h1M73 165h1M98 167h1M80 137h1M69 166h1M67 152h1M87 146h1M100 149h1M62 178h1M72 143h1M55 154h1M89 175h1M82 169h1M110 142h1M78 160h1M74 156h1M70 159h1M91 170h1M57 155h1M90 158h1M83 178h1M73 140h1M67 157h1M94 167h1M105 147h1M73 154h1M87 146h1M103 163h1M71 154h1M76 171h1M63 173h1M77 162h1M78 157h1M74 165h1M69 162h1M58 147h1M61 174h1M66 164h1M88 171h1M72 146h1M68 172h1M89 179h1M87 169h1M69 145h1M71 162h1M89 161h1M85 164h1M68 159h1M83 167h1M79 156h1M95 164h1M68 154h1M92 163h1M85 173h1M66 156h1M94 169h1M92 151h1M61 157h1M107 159h1M64 176h1M67 153h1M75 176h1M90 145h1M88 160h1M78 172h1M98 170h1M85 150h1M99 147h1M82 147h1M73 155h1M65 161h1M81 178h1M81 179h1M62 171h1M63 145h1M76 165h1M77 162h1M93 177h1M80 141h1M79 165h1M84 163h1M65 153h1M79 180h1M94 147h1M95 162h1M86 162h1M76 136h1M68 145h1M98 150h1M87 171h1M74 172h1M67 164h1M97 164h1M82 155h1M69 175h1M76 177h1M97 170h1M61 171h1M78 149h1M62 162h1M55 147h1M82 172h1M102 159h1M80 152h1M74 156h1M82 167h1M94 155h1M59 164h1M106 178h1M83 154h1M102 173h1M83 179h1M101 133h1M71 150h1M87 159h1M102 175h1M94 156h1M73 166h1M92 153h1M70 168h1M59 147h1M87 171h1M92 139h1M61 180h1M92 163h1M89 151h1M73 178h1M94 175h1M92 156h1M87 169h1M55 167h1M58 142h1M94 168h1M91 159h1M87 176h1M76 177h1M85 154h1M72 154h1M75 164h1M67 169h1M83 156h1M73 160h1M93 168h1M90 166h1M68 175h1M106 164h1M63 151h1M86 141h1M95 171h1M98 157h1M94 158h1M97 143h1M100 157h1M70 157h1M78 151h1M73 178h1M99 167h1M70 159h1M97 163h1M88 170h1M58 152h1M65 159h1M73 157h1M81 178h1M94 162h1M77 138h1M93 171h1M57 178h1M75 178h1M86 161h1M74 173h1M65 155h1M86 158h1M108 147h1M78 149h1M69 136h1M67 175h1M108 148h1M79 166h1M88 165h1M97 154h1M95 162h1M66 160h1M93 155h1M92 162h1M87 162h1M94 149h1M71 146h1M78 151h1M72 163h1M90 178h1M70 179h1M85 165h1M64 172h1M78 163h1M74 174h1M78 163h1M81 166h1M77 158h1M76 161h1M96 147h1M70 161h1M76 154h1M68 173h1M94 179h1M66 157h1M97 168h1M103 168h1M97 141h1M88 158h1M62 160h1M98 134h1M97 169h1M92 166h1M91 164h1M81 149h1M72 153h1M95 154h1M98 167h1M65 149h1M93 179h1M83 166h1M92 135h1M84 180h1M96 163h1M94 155h1M92 162h1M60 139h1M92 163h1M63 149h1M90 177h1M60 176h1M93 157h1M104 150h1M72 172h1M93 160h1M86 164h1M89 169h1M60 148h1M89 171h1M82 136h1M90 179h1M80 142h1M96 154h1M84 153h1M90 170h1M100 170h1M82 165h1M94 168h1M83 167h1M87 160h1M72 138h1M91 133h1M98 133h1M79 160h1M91 158h1M86 159h1M64 164h1M85 158h1M99 149h1M73 143h1M83 176h1M71 172h1M107 145h1M79 158h1M80 166h1M71 180h1M84 154h1M72 163h1M67 175h1M79 140h1M68 152h1M99 160h1M63 152h1M79 179h1M70 171h1M60 163h1M104 149h1M101 168h1M60 155h1M81 156h1M112 143h1M60 171h1M99 173h1M82 168h1M72 171h1M80 154h1M66 155h1M82 175h1M101 166h1M75 151h1M82 167h1M97 171h1M108 169h1M72 162h1M84 155h1M72 166h1M71 178h1M74 163h1M71 153h1M55 165h1M70 164h1M82 157h1M97 172h1M72 162h1M78 173h1M89 178h1M91 158h1M78 151h1M79 166h1M107 160h1M75 162h1M73 154h1M57 167h1M86 162h1M76 135h1M107 158h1M75 165h1M92 175h1M93 154h1M103 151h1M61 175h1M102 153h1M80 162h1M79 166h1M76 170h1M74 161h1M75 147h1M87 156h1M81 155h1M67 179h1M79 171h1M85 155h1M75 158h1M104 152h1M69 138h1M78 170h1M72 170h1M77 164h1M90 156h1M88 163h1M70 168h1M78 148h1M81 157h1M74 154h1M79 169h1M70 164h1M70 145h1M81 153h1M65 180h1M86 149h1M77 163h1M67 153h1M71 176h1M73 160h1M78 155h1M82 147h1M77 158h1M68 171h1M100 169h1M93 145h1M82 179h1M93 158h1M85 148h1M76 162h1M81 153h1M94 153h1M95 160h1M74 155h1M88 140h1M112 167h1M86 154h1M95 175h1M98 167h1M89 168h1M102 163h1M83 176h1M87 157h1M71 149h1M81 156h1M99 163h1M73 156h1M80 176h1M69 169h1M80 162h1M74 156h1M88 174h1M78 153h1M72 156h1M76 169h1M78 168h1M73 180h1M93 158h1M89 138h1M82 168h1M63 176h1M87 159h1M62 179h1M82 178h1M81 153h1M72 155h1M68 146h1M70 167h1M109 169h1M76 168h1M77 146h1M93 152h1M86 144h1M95 141h1M63 145h1M65 142h1M79 166h1M76 168h1M82 160h1M94 153h1M63 160h1M84 167h1M79 157h1M89 161h1M82 157h1M72 154h1M68 161h1M94 173h1M59 142h1M74 166h1M103 144h1M74 178h1M88 171h1M77 151h1M90 155h1M80 147h1M73 160h1M99 165h1M76 179h1M61 144h1M75 175h1M87 154h1M64 164h1M91 171h1M91 167h1M109 166h1M71 158h1M89 160h1M57 162h1"/><path transform="translate(0 0.5)" stroke="#222" stroke-width="1.0" fill="none" d="M184 178h1M196 179h1M194 175h1M197 179h1M201 168h1M175 171h1M174 157h1M173 172h1M171 164h1M190 175h1M196 155h1M230 166h1M200 174h1M192 177h1M213 159h1M180 170h1M197 180h1M206 178h1M204 175h1M198 149h1M186 166h1M172 178h1M189 176h1M182 178h1M202 179h1M189 175h1M200 179h1M167 158h1M206 180h1M178 171h1M167 168h1M170 178h1M182 179h1M209 178h1M202 168h1M173 176h1M193 180h1M190 164h1M167 172h1M176 171h1M160 171h1M178 167h1M151 163h1M179 177h1M177 176h1M179 178h1M179 173h1M209 168h1M186 161h1M195 174h1M203 171h1M205 179h1M202 179h1M183 178h1M175 166h1M180 161h1M184 172h1M192 166h1M190 179h1M208 175h1M190 170h1M219 173h1M207 178h1M184 165h1M205 178h1M147 162h1M213 172h1M198 168h1M198 176h1M166 175h1M230 178h1M188 180h1M189 168h1M209 162h1M189 166h1M178 170h1M202 172h1M176 167h1M203 179h1M194 178h1M209 171h1M173 169h1M211 171h1M196 173h1M222 173h1M182 159h1M220 170h1M202 157h1M204 174h1M180 180h1M200 164h1M202 175h1M179 168h1M174 167h1M180 178h1M214 178h1M194 178h1M206 170h1M196 177h1M193 172h1M195 178h1M185 166h1M210 173h1M194 170h1M195 161h1M170 179h1M196 178h1M181 167h1M184 161h1M207 167h1M175 166h1M188 168h1M201 160h1M209 166h1M184 174h1M196 177h1M196 156h1M174 174h1M159 165h1M162 164h1M201 171h1M193 167h1M171 180h1M182 180h1M185 171h1M186 168h1M191 180h1M225 180h1M180 177h1M194 172h1M180 178h1M182 179h1M178 169h1M188 178h1M183 172h1M197 180h1M195 169h1M178 174h1M221 170h1M174 174h1M197 178h1M225 166h1M181 171h1M212 178h1M213 169h1M197 180h1M163 161h1M213 178h1M193 168h1M183 180h1M211 180h1M180 178h1M208 161h1M183 171h1M200 174h1M175 179h1M185 178h1M177 180h1M181 178h1M194 165h1M189 180h1M194 158h1M211 175h1M190 164h1M163 158h1M187 180h1M193 173h1M207 179h1M207 159h1M206 163h1M188 173h1M201 168h1M169 174h1M211 168h1M198 170h1M199 163h1M186 180h1M192 171h1M181 163h1M200 180h1M171 178h1M206 175h1M200 176h1M223 170h1M191 172h1M190 154h1M194 160h1M192 163h1M190 176h1M175 178h1M175 172h1M183 171h1M187 178h1M173 170h1M174 179h1M187 177h1M203 162h1M189 176h1M202 175h1M206 163h1M203 164h1M185 162h1M185 180h1M163 179h1M181 180h1M199 179h1M175 161h1M212 180h1M213 179h1M186 179h1M206 165h1M170 178h1M175 172h1M186 179h1M192 168h1M189 174h1M178 168h1M222 178h1M196 173h1M196 179h1M202 180h1M194 177h1M188 173h1M183 171h1M166 174h1M214 180h1M177 175h1M166 176h1M179 173h1M167 173h1M222 168h1M197 157h1M213 179h1M214 179h1M200 165h1M200 179h1M180 163h1M190 179h1M182 176h1M192 176h1M181 180h1M211 179h1M203 174h1M190 164h1M166 163h1M202 175h1M205 178h1M190 178h1M172 173h1M198 177h1M208 180h1M162 180h1M200 167h1M164 180h1M193 176h1M218 167h1M193 164h1M199 180h1M187 177h1M191 172h1M227 174h1M212 178h1M187 174h1M186 178h1M192 171h1M225 167h1M195 173h1M209 165h1M186 170h1M172 178h1M212 179h1M190 179h1M180 175h1M181 165h1M181 165h1M182 177h1M168 175h1M210 168h1M197 170h1M206 179h1M186 179h1M197 174h1M194 176h1M209 180h1M204 177h1M197 176h1M182 159h1M173 158h1M179 156h1M182 153h1M183 173h1M173 177h1M217 166h1M196 178h1M161 178h1M175 173h1M171 160h1M195 178h1M208 179h1M176 168h1M201 180h1M187 174h1M209 166h1M212 170h1M196 157h1M202 170h1M191 159h1M186 179h1M174 176h1M196 161h1M190 179h1M186 158h1M190 175h1M189 178h1M176 174h1M183 163h1M209 173h1M188 172h1M213 174h1M174 180h1M171 180h1M193 179h1M203 168h1M182 167h1M201 174h1M206 177h1M208 155h1M190 168h1M191 179h1M166 162h1M192 167h1M196 167h1M213 178h1M172 173h1M179 171h1M176 160h1M205 179h1M153 174h1M175 168h1M223 174h1M201 179h1M171 160h1M191 160h1M204 164h1M200 166h1M188 146h1M179 168h1M204 180h1M191 171h1M204 178h1M198 148h1M184 172h1M213 179h1M184 179h1M198 169h1M182 166h1M188 177h1M188 163h1M181 170h1M195 158h1M211 174h1M220 174h1M213 178h1M189 177h1M214 168h1M198 173h1M219 162h1M172 174h1M214 172h1M182 177h1M209 179h1M184 155h1M205 176h1M187 180h1M163 163h1M177 180h1M188 167h1M192 180h1M158 180h1M173 178h1M180 176h1M188 179h1M195 164h1M179 166h1M169 156h1M196 178h1M186 167h1M205 180h1M184 179h1M201 161h1M178 180h1M196 176h1M193 175h1M198 178h1M177 173h1M190 174h1M179 178h1M189 165h1M201 163h1M237 167h1M192 179h1M202 171h1M193 178h1M209 146h1M198 167h1M207 169h1M197 176h1M228 180h1M212 172h1M166 164h1M196 178h1M193 179h1M158 150h1M179 179h1M185 176h1M180 166h1M193 169h1M164 176h1M203 174h1M203 171h1M197 163h1M187 176h1M192 168h1M185 174h1M209 168h1M199 175h1M222 180h1M186 176h1M213 179h1M183 161h1M189 178h1M176 176h1M199 168h1M191 172h1M201 148h1M214 174h1M191 170h1M197 153h1M205 178h1M191 168h1M183 176h1M197 171h1M199 178h1M203 174h1M204 171h1M182 178h1M198 180h1M210 153h1M185 174h1M197 168h1M182 163h1M194 178h1M218 179h1M194 164h1M177 163h1M197 178h1M195 168h1M208 171h1M171 156h1M178 172h1M190 180h1M168 169h1M209 172h1M161 180h1M179 179h1M169 180h1M182 179h1M204 180h1M201 158h1M206 166h1M201 159h1M161 178h1M196 175h1M164 172h1M184 167h1M186 164h1M183 148h1M199 180h1M179 173h1M218 174h1M201 161h1M209 173h1M203 177h1M205 173h1M191 179h1M221 166h1M176 176h1M199 178h1M192 178h1M188 177h1M196 172h1M180 165h1M205 178h1M203 170h1M193 165h1M203 180h1M176 159h1M164 168h1M183 180h1M188 180h1M229 170h1M188 174h1M207 178h1M204 173h1M223 166h1M193 177h1M201 175h1M189 174h1M179 179h1M177 176h1M180 169h1M213 175h1M196 180h1M189 167h1M192 171h1M183 166h1M191 177h1M191 162h1M201 177h1M205 180h1M167 166h1M195 166h1M212 160h1M176 174h1M188 163h1M194 168h1M208 170h1M201 167h1M188 180h1M199 179h1M207 154h1M198 166h1M220 176h1M198 164h1M176 169h1M180 175h1M190 178h1M189 179h1M201 171h1M197 175h1M217 170h1M204 172h1M214 163h1M180 158h1M185 170h1M202 180h1M193 180h1M201 157h1M195 172h1M182 168h1M217 176h1M209 164h1M168 180h1M182 172h1M192 179h1M202 179h1M191 156h1M171 171h1M204 180h1M189 174h1M210 179h1M196 177h1M207 169h1M204 176h1M205 179h1M184 179h1M207 178h1M195 163h1M173 179h1M186 161h1M187 172h1M199 172h1M202 179h1M175 176h1M203 179h1M191 168h1M176 180h1M204 177h1M180 173h1M174 163h1M203 179h1M205 176h1M182 180h1M208 173h1M207 171h1M184 177h1M222 178h1M191 180h1M195 180h1M156 168h1M201 180h1M183 147h1M198 178h1M166 166h1M209 179h1M214 165h1M220 178h1M148 165h1M201 163h1M197 178h1M147 178h1M181 167h1M191 178h1M213 171h1M179 178h1M195 164h1M191 165h1M197 174h1M186 164h1M205 178h1M207 154h1M172 175h1M209 168h1M181 165h1M188 175h1M209 171h1M194 169h1M201 180h1M204 176h1M201 177h1M184 180h1M178 173h1M202 178h1M204 170h1M198 179h1M189 178h1M205 169h1M192 160h1M172 162h1M196 165h1M200 178h1M204 172h1M179 171h1M181 178h1M197 180h1M186 178h1M191 168h1M206 178h1M198 180h1M220 165h1M197 175h1M218 165h1M208 171h1M230 177h1M193 158h1M191 166h1M212 166h1M185 174h1M186 167h1M196 177h1M198 166h1M172 169h1M196 179h1M188 176h1M192 175h1M195 173h1M190 179h1M209 180h1M200 170h1M190 167h1M194 164h1M208 180h1M205 165h1M212 162h1M191 176h1M195 179h1M223 162h1M192 172h1M218 161h1M206 167h1M187 179h1M172 175h1M202 171h1M182 174h1M182 176h1M167 173h1M211 163h1M195 163h1M193 179h1M199 167h1M197 179h1M194 167h1M201 180h1M189 180h1M155 172h1M204 178h1M199 165h1M193 171h1M217 166h1M172 167h1M150 170h1M215 165h1M199 171h1M169 178h1M187 158h1M202 162h1M175 165h1M201 169h1M225 178h1M214 180h1M193 178h1M198 175h1M179 180h1M195 163h1M188 163h1M178 173h1M173 175h1M222 171h1M194 166h1M178 162h1M187 171h1M215 167h1M217 169h1M184 164h1M196 178h1M206 178h1M188 180h1M176 169h1M179 174h1M193 171h1M182 174h1M174 171h1M190 172h1M207 156h1M203 171h1M190 180h1M221 156h1M181 170h1M192 179h1M173 180h1M205 173h1M191 178h1M168 178h1M181 179h1M220 169h1M204 168h1M195 180h1M206 175h1M169 169h1M181 171h1M173 176h1M181 172h1M187 171h1M201 171h1M208 160h1M208 178h1M233 178h1M186 178h1M193 172h1M201 175h1M181 179h1M189 178h1M199 157h1M180 177h1M200 165h1M211 173h1M176 168h1M159 178h1M194 178h1M177 173h1M195 180h1M186 173h1M197 167h1M210 172h1M205 170h1M188 174h1M175 179h1M156 172h1M160 173h1M181 180h1M194 176h1M183 179h1M184 175h1M169 162h1M168 163h1M167 159h1M202 179h1M163 177h1M203 169h1M179 165h1M200 177h1M196 172h1M203 176h1M210 166h1M180 164h1M178 180h1M186 165h1M180 173h1M202 180h1M190 157h1M192 180h1M198 174h1M185 172h1M208 176h1M164 163h1M195 154h1M199 178h1M180 171h1M181 179h1M205 178h1M187 176h1M163 178h1M171 180h1M207 180h1M178 178h1M211 179h1M212 171h1M189 170h1M200 174h1M179 177h1M186 178h1M181 179h1M200 179h1M172 174h1M190 179h1M192 176h1M199 177h1M160 178h1M165 171h1M178 164h1M188 175h1M194 171h1M194 166h1M221 175h1M201 172h1M200 168h1M184 158h1M203 172h1M202 180h1M201 178h1M190 179h1M201 173h1M214 179h1M179 168h1M159 169h1M204 178h1M202 161h1M188 174h1M185 176h1M232 179h1M184 167h1M173 177h1M184 168h1M199 169h1M182 150h1M185 165h1M196 178h1M185 178h1M193 175h1M191 180h1M175 178h1M192 163h1M174 172h1M205 173h1M177 179h1M188 166h1M164 177h1M185 178h1M173 166h1M213 174h1M189 156h1M199 174h1M165 154h1M173 170h1M189 179h1M171 177h1M208 174h1M185 175h1M193 179h1M196 178h1M189 180h1M203 170h1M181 170h1M197 164h1M209 172h1M194 167h1M193 180h1M186 179h1M192 173h1M201 169h1M188 148h1M166 168h1M194 176h1M189 179h1M198 146h1M192 152h1M214 175h1M173 164h1M177 172h1M201 169h1M176 179h1M196 157h1M191 168h1M162 179h1M201 175h1M211 166h1M194 178h1M170 176h1M203 166h1M176 180h1M189 180h1M197 172h1M180 179h1M166 163h1M189 180h1M190 172h1M178 165h1M180 168h1M202 178h1M190 169h1M184 170h1M182 168h1M194 167h1M192 179h1M188 180h1M171 180h1M186 178h1M182 180h1M192 170h1M208 169h1M205 163h1M200 179h1M193 171h1M186 167h1M196 168h1M184 175h1M186 169h1M179 174h1M190 175h1M190 180h1M218 163h1M199 176h1M185 167h1M202 170h1M184 180h1M206 179h1M202 170h1M233 178h1M175 173h1M190 179h1M189 169h1M195 178h1M201 172h1M177 174h1M180 172h1M195 168h1M205 175h1M175 179h1M168 168h1M208 170h1M203 177h1M207 167h1M177 178h1M188 180h1M194 153h1M197 168h1M189 164h1M190 178h1M206 178h1M185 163h1M183 167h1M185 173h1M184 170h1M193 180h1M188 180h1M185 179h1M212 179h1M195 180h1M186 173h1M209 170h1M183 167h1M191 178h1M190 178h1M183 179h1M185 171h1M192 170h1M170 176h1M185 180h1M195 177h1M195 176h1M195 166h1M225 178h1M201 178h1M189 165h1M189 180h1M191 165h1M197 180h1M187 172h1M213 175h1M175 167h1M200 169h1M198 180h1M175 172h1M200 171h1M199 179h1M182 180h1M224 175h1M201 176h1M186 179h1M184 172h1M180 177h1M195 177h1M192 161h1M171 156h1M176 175h1M181 179h1M185 175h1M186 169h1M181 168h1M200 180h1M204 171h1M192 159h1M160 180h1M189 176h1M199 177h1M190 180h1M195 178h1M192 179h1M170 172h1M155 155h1M200 176h1M183 172h1M197 180h1M187 180h1M189 178h1M210 179h1M174 173h1M191 173h1M175 166h1M192 171h1M198 175h1M200 178h1M193 167h1M171 179h1M194 178h1M204 162h1M205 171h1M221 174h1M199 179h1M176 178h1M184 180h1M192 173h1M206 166h1M175 173h1M204 173h1M200 176h1M179 166h1M200 178h1M180 167h1M191 180h1M187 176h1M194 164h1M174 174h1M198 174h1M160 172h1M185 179h1M183 169h1M213 180h1M199 180h1M184 165h1M178 152h1M191 179h1M182 176h1M223 174h1M151 165h1M192 161h1M156 157h1M206 179h1M179 179h1M214 169h1M183 180h1M206 157h1M194 180h1M208 180h1M191 166h1M149 170h1M181 164h1M169 174h1M204 178h1M199 178h1M191 177h1M197 180h1M194 158h1M183 180h1M219 173h1M194 162h1M188 170h1M170 168h1M182 174h1M191 176h1M188 153h1M184 179h1M190 178h1M175 164h1M191 178h1M169 179h1M179 178h1M180 178h1M203 161h1M198 180h1M192 164h1M175 178h1M185 165h1M202 163h1M209 180h1M170 179h1M185 174h1M192 175h1M196 179h1M191 178h1M200 167h1M170 169h1M213 168h1M175 173h1M192 174h1M198 162h1M208 176h1M204 162h1M203 171h1M209 171h1M189 171h1M202 179h1M213 178h1M180 179h1M171 180h1M177 171h1M211 180h1M209 173h1M186 176h1M195 176h1M198 162h1M206 168h1M164 172h1M183 177h1M187 172h1M196 166h1M192 163h1M187 174h1M195 163h1M154 163h1M235 173h1M203 175h1M204 166h1M182 157h1M197 176h1M221 178h1M217 170h1M192 170h1M173 153h1M194 180h1M187 164h1M203 180h1M173 168h1M189 172h1M195 172h1M185 157h1M206 178h1M175 159h1M174 174h1M186 166h1M203 171h1M187 179h1M183 157h1M203 172h1M194 178h1M184 175h1M193 177h1M188 167h1M200 159h1M193 162h1M180 170h1M184 180h1M185 174h1M197 180h1M197 174h1M179 175h1M189 175h1M196 158h1M207 179h1M195 164h1M219 170h1M192 179h1M202 162h1M187 175h1M177 176h1M193 175h1M198 174h1M196 168h1M193 178h1M186 155h1M179 164h1M187 178h1M198 178h1M205 167h1M144 165h1M200 171h1M207 179h1M209 178h1M197 164h1M201 176h1M185 168h1M190 179h1M199 176h1M175 178h1M180 175h1M194 180h1M172 177h1M192 176h1M170 164h1M194 170h1M192 177h1M183 169h1M178 179h1M184 173h1M159 167h1M186 178h1M193 169h1M209 177h1M184 173h1M189 167h1M211 179h1M216 174h1M184 178h1M206 170h1M208 161h1M199 162h1M177 169h1M178 172h1M200 174h1M225 178h1M189 162h1M214 176h1M218 163h1M173 167h1M183 180h1M213 180h1M205 170h1M199 178h1M191 178h1M200 180h1M182 178h1M227 171h1M175 172h1M165 166h1M193 179h1M212 162h1M184 169h1M190 178h1M177 169h1M190 177h1M177 179h1M177 165h1M170 178h1M183 167h1M218 165h1M190 176h1M194 178h1M223 167h1M182 167h1M177 170h1M199 167h1M173 175h1M196 167h1M208 171h1M176 177h1M184 170h1M216 179h1M176 167h1M181 167h1M195 178h1M187 180h1M179 174h1M214 180h1M183 177h1M196 169h1M185 180h1M188 176h1M171 180h1M205 157h1M185 180h1M210 175h1M174 167h1M184 170h1M198 170h1M193 162h1M182 168h1M189 179h1M172 160h1M192 170h1M153 152h1M194 168h1M211 177h1M204 173h1M203 174h1M185 163h1M198 179h1M185 165h1M190 178h1M190 175h1M143 170h1M205 179h1M198 170h1M203 180h1M177 174h1M201 174h1M198 178h1M159 177h1M166 173h1M192 172h1M182 175h1M191 174h1M182 171h1M213 164h1M164 150h1M172 173h1M177 171h1M171 179h1M183 178h1M191 180h1M172 179h1M196 173h1M210 166h1M207 178h1M220 168h1M208 171h1M191 178h1M217 178h1M201 179h1M218 161h1M188 174h1M161 180h1M174 162h1M194 175h1M199 177h1M188 153h1M206 180h1M175 167h1M181 172h1M206 179h1M192 157h1M193 178h1M212 169h1M207 174h1M180 166h1M194 179h1M167 163h1M191 177h1M197 178h1M166 173h1M214 171h1M220 171h1M199 180h1M205 178h1M213 173h1M189 164h1M206 175h1M197 178h1M169 173h1M178 180h1M183 156h1M207 178h1M193 172h1M206 163h1M185 158h1M173 179h1M221 179h1M231 172h1M197 173h1M189 175h1M209 170h1M176 178h1M189 179h1M171 172h1M198 159h1M195 178h1M186 169h1M182 164h1M170 180h1M180 178h1M209 155h1M186 159h1M210 170h1M179 162h1M190 172h1M185 179h1M188 180h1M203 173h1M162 178h1M202 180h1M202 172h1M192 160h1M193 179h1M188 172h1M202 178h1M192 180h1M179 166h1M194 180h1M205 174h1M197 176h1M192 170h1M194 180h1M184 178h1M185 169h1M164 179h1M189 170h1M206 162h1M186 171h1M178 179h1M204 179h1M194 178h1M194 168h1M198 171h1M202 174h1M191 179h1M180 173h1M217 165h1M192 160h1M180 178h1M194 180h1M209 168h1M171 179h1M210 173h1M190 178h1M220 179h1M201 169h1M190 167h1M210 158h1M210 176h1M187 178h1M195 179h1M184 179h1M205 175h1M171 178h1M189 164h1M161 177h1M200 178h1M160 173h1M176 180h1M195 178h1M187 179h1M185 180h1M178 172h1M185 179h1M166 178h1M196 174h1M203 173h1M202 164h1M191 172h1M209 172h1M198 176h1M205 170h1M197 179h1M192 173h1M181 159h1M154 169h1M201 166h1M190 162h1M220 171h1M163 178h1M204 164h1M178 156h1M192 172h1M179 179h1M197 168h1M191 176h1M204 170h1M194 180h1M198 178h1M210 172h1M199 180h1M190 164h1M209 176h1M190 162h1M197 175h1M187 168h1M182 176h1M149 164h1M202 176h1M175 175h1M202 169h1M217 166h1M173 163h1M204 170h1M190 177h1M198 172h1M175 175h1M192 180h1M194 171h1M212 176h1M222 180h1M196 178h1M186 177h1M223 174h1M190 179h1M191 173h1M193 170h1M198 179h1M202 179h1M183 179h1M190 174h1M218 179h1M215 178h1M198 174h1M196 180h1M188 179h1M206 175h1M184 178h1M193 170h1M185 180h1M183 179h1M192 180h1M192 176h1M183 172h1M191 159h1M193 173h1M185 180h1M182 160h1M190 160h1M202 180h1M208 179h1M194 157h1M188 173h1M191 177h1M219 160h1M205 178h1M178 162h1M191 178h1M184 176h1M187 167h1M168 159h1M192 171h1M172 173h1M183 173h1M213 168h1M206 172h1M179 178h1M177 166h1M179 172h1M165 178h1M178 174h1M188 180h1M177 178h1M203 171h1M191 176h1M184 147h1M217 171h1M202 180h1M193 164h1M218 178h1M211 157h1M182 178h1M196 169h1M186 164h1M171 169h1M219 171h1M213 165h1M174 161h1M199 169h1M168 180h1M207 177h1M191 178h1M188 168h1M210 170h1M192 171h1M188 175h1M205 178h1M187 178h1M204 180h1M192 175h1M204 179h1M201 167h1M203 162h1M177 180h1M219 175h1M189 175h1M217 178h1M183 171h1M188 173h1M188 177h1M208 180h1M186 178h1M198 175h1M169 176h1M185 152h1M195 180h1M190 159h1M165 173h1M199 178h1M178 171h1M220 159h1M189 179h1M224 169h1M201 172h1M198 172h1M185 180h1M190 180h1M198 172h1M164 180h1M206 165h1M175 180h1M188 168h1M152 180h1M198 168h1M203 170h1M196 180h1M196 163h1M186 163h1M194 179h1M209 171h1M186 170h1M199 172h1M202 180h1M188 164h1M195 171h1M195 175h1M185 165h1M227 173h1M186 178h1M217 165h1M207 180h1M162 163h1M195 172h1M207 177h1M204 180h1M179 158h1M196 176h1M174 178h1M177 168h1M188 178h1M195 175h1M215 161h1M197 177h1M207 166h1M174 174h1M175 160h1M185 180h1M217 152h1M172 172h1M169 180h1M191 178h1M209 170h1M168 171h1M188 170h1M172 179h1M213 173h1M202 173h1M196 167h1M191 169h1M188 179h1M194 168h1M182 166h1M179 169h1M176 170h1M192 175h1M180 169h1M204 172h1M161 167h1M200 179h1M199 174h1M209 171h1M188 176h1M170 173h1M178 159h1M208 172h1M187 178h1M186 178h1M183 179h1M191 167h1M188 160h1M169 167h1M183 178h1M206 165h1M213 166h1M190 180h1M184 171h1M211 172h1M189 177h1M174 174h1M190 171h1M202 176h1M214 167h1M185 173h1M200 179h1M187 164h1M208 172h1M195 163h1M195 180h1M177 179h1M187 179h1M187 178h1M139 178h1M204 180h1M191 166h1M189 178h1M186 165h1M192 180h1M195 176h1M173 179h1M193 162h1M193 178h1M192 179h1M170 159h1M190 168h1M173 169h1M197 168h1M211 180h1M204 179h1M187 164h1M184 180h1M183 171h1M197 179h1M182 151h1M184 170h1M155 179h1M179 167h1M180 180h1M184 169h1M209 180h1M172 179h1M172 170h1M200 167h1M177 172h1M189 179h1M194 173h1M192 167h1M180 179h1M205 159h1M213 171h1M177 178h1M188 164h1M205 173h1M189 170h1M177 160h1M185 178h1M204 163h1M177 167h1M195 180h1M197 163h1M182 179h1M200 180h1M201 178h1M206 178h1M205 171h1M170 161h1M205 175h1M200 177h1M206 169h1M179 165h1M205 179h1M197 164h1M175 177h1M210 169h1M180 158h1M177 178h1M197 179h1M183 178h1M197 161h1M188 172h1M196 176h1M203 167h1M191 178h1M204 155h1M204 180h1M179 156h1M204 159h1M201 162h1M194 178h1M208 167h1M216 167h1M203 165h1M170 160h1M198 165h1M190 164h1M188 170h1M197 170h1M187 152h1M215 167h1M196 179h1M192 169h1M203 172h1M203 167h1M209 167h1M201 172h1M191 161h1M194 171h1M160 158h1M170 176h1M207 159h1M187 179h1M218 179h1M218 158h1M174 179h1M196 169h1M234 179h1M180 168h1M197 170h1M188 170h1M188 179h1M188 155h1M191 180h1M203 173h1M180 168h1M199 170h1M181 179h1M199 180h1M196 180h1M180 167h1M194 156h1M181 168h1M179 171h1M209 169h1M165 179h1M200 180h1M202 176h1M183 157h1M208 178h1M205 167h1M173 173h1M199 180h1M199 176h1M181 172h1M200 175h1M203 179h1M181 178h1M163 179h1M198 146h1M181 166h1M167 167h1M186 180h1M157 175h1M187 180h1M214 160h1M150 171h1M198 178h1M178 172h1M186 169h1M178 175h1M201 179h1M192 154h1M180 179h1M173 175h1M186 165h1M209 178h1M174 173h1M198 179h1M197 165h1M163 180h1M208 164h1M191 175h1M224 179h1M217 172h1M188 178h1M190 167h1M177 179h1M172 168h1M203 166h1M188 171h1M186 172h1M189 165h1M202 180h1M206 171h1M192 178h1M189 159h1M193 161h1M222 170h1M161 164h1M175 171h1M199 178h1M194 178h1M210 178h1M211 180h1M221 166h1M180 177h1M201 168h1M188 177h1M206 163h1M195 178h1M205 176h1M181 170h1M194 160h1M184 175h1M188 168h1M185 175h1M177 166h1M208 168h1M196 178h1M208 179h1M177 161h1M163 171h1M182 176h1M190 171h1M203 169h1M207 180h1M210 165h1M214 176h1M203 168h1M194 172h1M181 152h1M202 179h1M185 171h1M180 164h1M201 180h1M195 170h1M204 167h1M181 165h1M209 180h1M197 173h1M189 170h1M181 161h1M176 164h1M172 176h1M212 172h1M171 154h1M201 165h1M188 175h1M183 179h1M185 166h1M190 153h1M205 179h1M200 168h1M192 161h1M172 178h1M166 170h1M219 164h1M177 161h1M169 171h1M208 173h1M170 157h1M203 178h1M206 161h1M196 178h1M206 176h1M171 171h1M174 176h1M189 167h1M192 172h1M191 179h1M199 167h1M181 180h1M160 165h1M198 172h1M188 179h1M204 162h1M222 176h1M193 153h1M200 162h1M179 169h1M205 178h1M197 179h1M196 164h1M205 171h1M175 174h1M200 159h1M199 176h1M215 180h1M165 178h1M191 167h1M224 169h1M186 164h1M185 168h1M218 170h1M229 179h1M194 173h1M181 164h1M183 180h1M186 179h1M179 167h1M180 170h1M194 172h1M192 158h1M199 174h1M192 179h1M174 178h1M203 174h1M195 170h1M183 171h1M188 178h1M197 180h1M193 165h1M190 174h1M203 178h1M207 155h1M187 178h1M191 171h1M175 180h1M189 172h1M199 170h1M205 172h1M194 175h1M190 180h1M181 170h1M195 163h1M176 166h1M194 164h1M192 179h1M178 164h1M197 180h1M189 174h1M201 172h1M185 180h1M220 156h1M236 156h1M207 143h1M208 157h1M221 166h1M182 154h1M189 165h1M200 168h1M202 168h1M167 139h1M204 177h1M172 170h1M210 169h1M211 160h1M161 159h1M205 153h1M200 164h1M187 170h1M212 153h1M229 169h1M205 154h1M180 166h1M174 158h1M179 170h1M181 180h1M215 162h1M202 154h1M197 154h1M211 167h1M198 154h1M198 171h1M184 163h1M187 170h1M198 153h1M179 148h1M224 151h1M199 164h1M189 150h1M213 168h1M180 135h1M214 152h1M199 158h1M227 138h1M188 152h1M191 142h1M184 159h1M177 157h1M201 168h1M180 150h1M202 140h1M187 153h1M214 161h1M157 161h1M204 162h1M198 174h1M197 155h1M187 157h1M225 150h1M191 153h1M204 172h1M193 164h1M199 174h1M208 136h1M179 155h1M190 171h1M175 161h1M204 166h1M184 170h1M185 163h1M208 145h1M197 164h1M204 151h1M204 156h1M199 166h1M179 161h1M201 160h1M192 180h1M193 163h1M202 170h1M188 163h1M180 179h1M216 155h1M227 174h1M192 180h1M215 155h1M203 172h1M187 144h1M184 163h1M193 168h1M190 150h1M192 138h1M195 160h1M179 156h1M211 162h1M179 163h1M180 170h1M212 178h1M209 165h1M220 142h1M199 168h1M187 164h1M215 161h1M196 178h1M195 163h1M184 156h1M204 165h1M159 141h1M206 171h1M165 160h1M211 180h1M172 168h1M208 164h1M237 162h1M193 146h1M179 159h1M228 163h1M190 171h1M179 165h1M217 168h1M152 168h1M173 154h1M176 163h1M186 157h1M165 145h1M210 142h1M214 170h1M196 177h1M191 177h1M172 150h1M205 178h1M186 178h1M207 151h1M213 166h1M198 180h1M163 161h1M182 174h1M219 153h1M202 156h1M220 170h1M161 158h1M195 161h1M194 161h1M171 148h1M187 178h1M213 158h1M206 156h1M189 155h1M202 161h1M216 149h1M180 170h1M202 156h1M214 169h1M186 150h1M218 148h1M196 149h1M215 163h1M212 144h1M201 170h1M193 156h1M187 171h1M200 155h1M201 170h1M220 148h1M196 147h1M203 167h1M224 153h1M202 172h1M205 152h1M223 166h1M199 150h1M204 139h1M209 177h1M195 157h1M179 171h1M174 162h1M194 140h1M215 165h1M213 173h1M223 175h1M212 179h1M187 164h1M174 159h1M189 161h1M193 146h1M185 169h1M212 168h1M185 164h1M207 151h1M210 167h1M169 153h1M190 175h1M217 153h1M211 154h1M199 156h1M180 148h1M186 149h1M199 156h1M205 178h1M196 164h1M201 163h1M210 149h1M169 162h1M181 160h1M198 161h1M217 142h1M215 158h1M185 137h1M198 157h1M185 149h1M191 152h1M200 156h1M191 170h1M188 174h1M179 160h1M172 147h1M194 177h1M200 143h1M207 153h1M184 157h1M186 151h1M217 175h1M204 164h1M211 172h1M188 156h1M186 170h1M179 158h1M213 158h1M179 163h1M170 164h1M185 166h1M217 157h1M198 142h1M201 156h1M196 156h1M195 150h1M175 169h1M195 178h1M217 155h1M172 141h1M206 165h1M178 165h1M177 165h1M201 178h1M214 150h1M219 163h1M218 161h1M193 151h1M210 163h1M188 174h1M189 149h1M201 165h1M195 171h1M211 167h1M168 140h1M215 163h1M188 155h1M221 174h1M215 158h1M179 180h1M196 145h1M208 165h1M185 149h1M185 179h1M192 178h1M209 149h1M212 168h1M190 159h1M210 140h1M221 147h1M212 161h1M186 166h1M184 155h1M202 163h1M210 163h1M204 163h1M191 145h1M182 161h1M217 166h1M195 142h1M227 178h1M179 177h1M192 161h1M187 178h1M227 150h1M217 148h1M189 152h1M167 151h1M216 180h1M199 160h1M179 159h1M173 164h1M204 178h1M194 162h1M200 155h1M204 163h1M191 175h1M193 157h1M208 176h1M196 163h1M193 157h1M208 165h1M166 178h1M217 157h1M204 176h1M185 166h1M195 161h1M217 160h1M206 169h1M169 167h1M181 164h1M200 167h1M226 149h1M210 152h1M194 148h1M207 155h1M198 157h1M193 155h1M204 166h1M164 148h1M214 157h1M206 170h1M190 180h1M184 160h1M178 174h1M202 176h1M200 148h1M200 162h1M225 147h1M163 155h1M186 164h1M185 145h1M213 166h1M194 158h1M183 157h1M201 166h1M204 150h1M223 140h1M202 160h1M191 151h1M190 157h1M185 147h1M205 148h1M210 147h1M194 144h1M195 150h1M219 150h1M199 160h1M205 180h1M180 152h1M188 141h1M164 166h1M176 145h1M203 149h1M217 155h1M193 160h1M179 160h1M199 162h1M216 158h1M195 172h1M212 169h1M197 153h1M178 157h1M183 143h1M193 167h1M234 157h1M207 180h1M194 151h1M202 177h1M201 149h1M190 140h1M196 149h1M193 163h1M209 171h1M222 149h1M219 171h1M192 153h1M206 153h1M186 156h1M180 179h1M199 161h1M207 163h1M197 142h1M211 161h1M211 163h1M210 178h1M195 149h1M176 151h1M226 149h1M190 152h1M209 167h1M205 150h1M192 174h1M227 160h1M208 149h1M197 152h1M191 143h1M182 142h1M177 173h1M207 170h1M191 148h1M190 154h1M206 178h1M192 151h1M208 162h1M187 165h1M189 157h1M212 157h1M187 155h1M207 161h1M206 141h1M198 160h1M171 161h1M177 144h1M180 164h1M177 148h1M184 136h1M178 160h1M190 166h1M196 154h1M171 142h1M207 157h1M209 170h1M188 159h1M210 142h1M173 165h1M189 157h1M195 157h1M199 160h1M216 166h1M192 158h1M182 148h1M201 158h1M200 161h1M205 173h1M192 145h1M200 157h1M188 149h1M206 162h1M187 153h1M216 170h1M185 151h1M198 146h1M206 141h1M192 146h1M212 144h1M188 157h1M214 161h1M173 158h1M176 163h1M199 149h1M220 166h1M223 158h1M184 164h1M197 166h1M190 155h1M164 174h1M209 168h1M192 154h1M219 180h1M202 179h1M189 141h1M187 133h1M195 152h1M205 164h1M190 170h1M242 167h1M201 159h1M180 170h1M199 167h1M215 154h1M204 161h1M192 172h1M187 152h1M185 152h1M179 149h1M189 176h1M202 167h1M189 169h1M223 155h1M203 159h1M190 173h1M197 156h1M221 173h1M171 159h1M201 159h1M240 166h1M213 169h1M183 180h1M199 155h1M194 179h1M241 150h1M187 149h1"/><path transform="translate(0 0.5)" stroke="#333" stroke-width="1.0" fill="none" d="M123 163h1M127 165h1M135 161h1M129 159h1M122 163h1M124 161h1M120 161h1M126 179h1M126 172h1M126 171h1M128 152h1M132 153h1M130 173h1M121 146h1M131 172h1M122 143h1M128 179h1M127 175h1M135 153h1M126 154h1M126 134h1M125 159h1M131 174h1M128 167h1M125 156h1M131 180h1M137 166h1M135 165h1M134 156h1M124 167h1M126 180h1M127 165h1M118 139h1M135 162h1M120 179h1M129 174h1M121 153h1M127 164h1M131 141h1M129 168h1M122 148h1M123 153h1M131 152h1M126 151h1M127 180h1M131 178h1M128 161h1M133 179h1M135 156h1M130 154h1M123 149h1M131 179h1M136 162h1M123 160h1M123 154h1M126 148h1M125 171h1M117 150h1M115 153h1M120 138h1M124 146h1M129 153h1M124 153h1M127 140h1M133 152h1M141 158h1M122 167h1M132 156h1M127 142h1M128 156h1M131 165h1M130 159h1M120 160h1M121 160h1M128 168h1M130 142h1M137 152h1M130 164h1M125 160h1M124 146h1M123 156h1M120 151h1M120 160h1M124 138h1M127 139h1M123 141h1M127 158h1M125 179h1M125 172h1M124 175h1M128 159h1M127 179h1M128 160h1M127 173h1M124 144h1M123 144h1M127 177h1M122 171h1M130 162h1M128 156h1M119 157h1M123 164h1M130 148h1M129 169h1M127 147h1M121 176h1M123 155h1M127 148h1M128 156h1M126 148h1M122 158h1M125 136h1M124 153h1M121 160h1M121 164h1M123 154h1M119 174h1M129 138h1M130 156h1M131 153h1M123 159h1M123 156h1M128 177h1M124 159h1M125 147h1M125 179h1M119 160h1M133 157h1M120 170h1M119 152h1M130 156h1M121 170h1M132 144h1M128 153h1M128 171h1M125 179h1M120 158h1M121 158h1M127 173h1M126 140h1M121 150h1M121 149h1M122 133h1M129 154h1M131 171h1M125 168h1M133 175h1M134 157h1M122 176h1M129 148h1M132 143h1M118 164h1M131 159h1M129 167h1M131 159h1M127 175h1M132 168h1M124 162h1M124 154h1M130 168h1M130 151h1M120 171h1M132 174h1M132 171h1M132 143h1M123 165h1M133 164h1M129 170h1M131 139h1M126 152h1M124 158h1M123 177h1M124 152h1M131 171h1M123 161h1M124 180h1M128 163h1M125 139h1M117 156h1M123 163h1M125 175h1M134 168h1M130 156h1M122 143h1M121 160h1M124 158h1M128 176h1M123 171h1M129 141h1M128 154h1M132 163h1M126 153h1"/><path transform="translate(0 0.5)" stroke="#2a2a2a" stroke-width="1.0" fill="none" d="M134 139h1M182 171h1M155 179h1M130 179h1M158 179h1M124 159h1M177 179h1M179 179h1M177 180h1M175 141h1M125 165h1M186 179h1M180 179h1M169 180h1M135 134h1M166 180h1M181 150h1M135 179h1M140 180h1M182 173h1M171 180h1M164 133h1M133 180h1M167 180h1M126 180h1M125 161h1M179 157h1M132 180h1M143 179h1M161 179h1M135 133h1M148 179h1M165 180h1M178 179h1M176 180h1M164 133h1M126 177h1M124 165h1M130 150h1M180 143h1M130 179h1M129 166h1M183 170h1M178 169h1M130 147h1M128 172h1M181 175h1M129 180h1M145 179h1M128 179h1M157 179h1M180 169h1M157 179h1M134 136h1M178 177h1M129 179h1M183 170h1M131 180h1M184 179h1M138 135h1M175 141h1M180 180h1M130 146h1M181 179h1M132 149h1M169 136h1M178 160h1M129 179h1M140 180h1M182 157h1M139 180h1M174 146h1M124 179h1M181 176h1M129 151h1M179 177h1M179 169h1M137 179h1M125 179h1M125 153h1M130 177h1M179 164h1M176 180h1M182 175h1M124 180h1M126 180h1M130 156h1M175 151h1M174 180h1M128 179h1M129 180h1M135 180h1M155 180h1M130 174h1M134 180h1M129 152h1M128 180h1M174 133h1M172 137h1M128 162h1M176 145h1M126 170h1M133 180h1M127 155h1M178 137h1M129 162h1M164 134h1M135 180h1M138 138h1M128 158h1M133 138h1M123 180h1M175 179h1M184 175h1M178 180h1M181 180h1M127 179h1M133 179h1M130 143h1M177 162h1M130 179h1M134 179h1M128 146h1M127 166h1M179 180h1M134 180h1M129 162h1M132 139h1M177 157h1M137 180h1M125 179h1M174 145h1M177 161h1M171 134h1M180 179h1M126 155h1M141 179h1M130 151h1M127 141h1M130 180h1M179 139h1M168 134h1M183 179h1M175 148h1M177 138h1M139 180h1M130 179h1M177 142h1M144 180h1M132 179h1M123 178h1M129 174h1M132 180h1M177 148h1M172 137h1M179 179h1M183 180h1M176 180h1M176 179h1M161 179h1M166 180h1M146 179h1M128 179h1M125 150h1M178 179h1M137 135h1M129 154h1M178 172h1M173 144h1M165 180h1M130 171h1M124 168h1M177 180h1M176 179h1M177 180h1M176 155h1M177 150h1M180 145h1M154 179h1M129 180h1M131 162h1M180 179h1M174 180h1M130 177h1M178 180h1M126 180h1M124 165h1M178 178h1M129 180h1M130 177h1M129 134h1M174 145h1M175 180h1M171 179h1M132 143h1M175 148h1M161 180h1M129 178h1M176 180h1M181 173h1M178 156h1M142 133h1M183 180h1M135 179h1M166 134h1M178 171h1M154 180h1M177 179h1M144 179h1M138 135h1M181 149h1M179 159h1M126 146h1M162 180h1M137 179h1M163 180h1M131 155h1M179 180h1M129 138h1M163 134h1M135 136h1M136 179h1M176 152h1M175 180h1M157 179h1M179 180h1M138 136h1M128 180h1M157 179h1M176 180h1M178 169h1M177 162h1M177 180h1M129 147h1M142 180h1M133 180h1M177 162h1M176 180h1M179 150h1M130 173h1M119 160h1M130 170h1M167 179h1M157 179h1M175 179h1M129 179h1M180 180h1M189 165h1M126 179h1M130 180h1M182 156h1M176 141h1M160 180h1M178 179h1M132 179h1M171 135h1M131 180h1M143 179h1M123 180h1M179 180h1M171 180h1M172 179h1M141 180h1"/><path transform="translate(0 0.5)" stroke="#22e022" stroke-width="1.0" fill="none" d="M154 180h1M173 180h1M162 180h1M133 147h1M133 153h1M173 180h1M135 163h1M174 156h1M173 180h1M133 180h1M176 179h1M137 139h1M180 180h1M133 180h1M168 180h1M156 134h1M165 179h1M146 179h1M142 140h1M180 180h1M130 162h1M171 180h1M170 180h1M178 171h1M180 180h1M153 180h1M134 180h1M164 180h1M176 179h1M149 179h1M134 151h1M172 165h1M127 154h1M170 175h1M133 179h1M127 162h1M175 168h1M172 179h1M166 137h1M135 142h1M134 161h1M139 143h1M137 179h1M173 180h1M152 179h1M182 177h1M160 135h1M150 179h1M173 154h1M129 157h1M143 136h1M131 169h1M168 146h1M156 134h1M173 179h1M140 135h1M171 135h1M164 143h1M143 139h1M133 179h1M175 179h1M156 180h1M146 180h1M156 138h1M167 134h1M174 170h1M169 151h1M174 167h1M155 180h1M172 179h1M167 141h1M137 180h1M172 149h1M177 168h1M162 179h1M146 179h1M142 139h1M183 173h1M141 138h1M131 161h1M130 174h1M179 179h1M175 180h1M143 135h1M152 179h1M172 144h1M157 179h1M132 180h1M165 134h1M172 149h1M173 156h1M169 176h1M170 141h1M174 143h1M171 153h1M134 179h1M176 180h1M165 137h1M148 179h1M132 179h1M173 150h1M166 179h1M147 180h1M135 180h1M166 135h1M177 161h1M169 179h1M147 179h1M161 180h1M134 152h1M129 179h1M166 142h1M151 180h1M132 167h1M132 153h1M173 180h1M174 180h1M163 179h1M178 180h1M133 180h1M131 158h1M133 174h1M134 143h1M138 156h1M174 140h1M176 176h1M174 179h1M180 178h1M132 160h1M174 179h1M131 174h1M148 179h1M132 179h1M133 179h1M132 152h1M178 177h1M131 171h1M143 180h1M131 160h1M131 179h1M176 176h1M129 179h1M129 161h1M173 143h1M129 177h1M147 179h1M179 177h1M171 180h1M178 160h1M131 162h1M172 154h1M173 180h1M170 179h1M175 146h1M176 179h1M127 176h1M139 142h1M135 165h1M137 139h1M175 180h1M131 161h1M129 164h1M134 175h1M141 180h1M131 179h1M167 179h1M159 135h1M127 164h1M150 180h1M142 135h1M139 180h1M135 170h1M177 169h1M176 157h1M130 180h1M151 179h1M152 134h1M176 165h1M174 142h1M134 152h1M171 171h1M144 179h1M177 180h1M154 135h1M175 155h1M131 155h1M142 179h1M130 179h1M177 173h1M153 133h1M176 167h1M173 179h1M130 153h1M130 180h1M135 144h1M176 165h1M167 138h1M136 146h1M175 179h1M138 180h1M137 180h1M148 136h1M173 179h1M156 180h1M176 180h1M141 134h1M180 172h1M132 180h1M138 179h1M175 149h1M175 179h1M151 134h1M133 180h1M140 179h1M177 178h1M132 180h1M182 165h1M171 180h1M173 179h1M131 163h1M136 143h1M176 157h1M176 160h1M175 144h1M174 179h1M133 180h1M160 179h1M132 148h1M153 180h1M132 180h1M174 149h1M151 179h1M174 146h1M134 149h1M151 179h1M138 134h1M138 141h1M131 180h1M170 140h1M130 151h1M139 137h1M167 137h1M135 156h1M149 134h1M126 174h1M130 180h1M135 180h1M134 179h1M168 137h1M136 179h1M131 158h1M132 180h1M135 153h1M173 179h1M170 178h1M138 180h1M151 179h1M175 141h1M170 144h1M131 175h1M137 141h1M139 180h1M175 180h1M178 165h1M175 158h1M178 179h1M168 180h1M171 137h1M136 139h1M133 175h1M159 179h1M165 180h1M177 152h1M136 163h1M127 166h1M133 149h1M142 138h1M148 180h1M173 179h1M176 155h1M167 179h1M129 179h1M137 180h1M175 156h1M145 180h1M134 179h1M155 136h1M175 144h1M172 179h1M166 134h1M136 179h1M177 179h1M144 136h1M167 133h1M156 179h1M138 135h1M137 142h1M132 160h1M175 149h1M134 162h1M175 166h1M175 177h1M136 142h1M139 138h1M137 135h1M130 172h1M174 179h1M132 142h1M174 180h1M170 142h1M179 180h1M147 139h1M161 179h1M174 180h1M179 176h1M132 179h1M134 180h1M133 180h1M177 173h1M174 172h1M129 178h1M140 135h1M176 163h1M139 179h1M130 178h1M151 135h1M134 179h1M133 151h1M129 180h1M131 179h1M174 179h1M130 180h1M131 179h1M130 159h1M144 180h1M142 180h1M180 180h1M126 172h1M158 136h1M174 179h1M129 180h1M167 180h1M130 162h1M132 180h1M138 146h1M129 142h1M174 180h1M132 180h1M177 179h1M174 162h1M178 180h1M167 180h1M174 180h1M174 180h1M129 161h1M155 179h1M174 167h1M167 139h1M143 179h1M153 180h1M169 179h1M147 133h1M174 179h1M174 169h1M168 134h1M178 160h1M176 173h1M171 179h1M133 172h1M137 138h1M171 179h1M133 164h1M178 180h1M131 180h1M172 179h1M161 136h1M166 138h1M132 179h1M168 179h1M128 179h1M172 179h1M174 175h1M144 180h1M131 147h1M128 174h1M132 179h1M174 174h1M130 163h1M177 171h1M165 179h1M160 133h1M175 180h1M155 135h1M131 180h1M133 141h1M138 180h1M169 140h1M129 180h1M176 168h1M158 134h1M182 175h1M155 139h1M133 154h1M173 152h1M132 151h1M129 146h1M133 149h1M159 179h1M130 175h1M173 146h1M171 180h1M127 180h1M160 135h1M173 147h1M168 179h1M150 180h1M148 180h1M173 180h1M176 179h1M174 155h1M179 163h1M175 175h1M136 180h1M146 179h1M131 179h1M130 164h1M134 176h1M134 158h1M133 166h1M131 164h1M175 151h1M147 180h1M167 180h1M172 142h1M131 173h1M180 179h1M129 158h1M147 134h1M150 180h1M174 148h1M166 180h1M166 134h1M144 180h1M172 143h1M169 137h1M146 138h1M148 134h1M177 179h1M132 179h1M175 145h1M175 176h1M168 180h1M168 138h1M171 146h1M141 139h1M133 159h1M152 179h1M132 180h1M152 180h1M133 180h1M130 150h1M132 174h1M177 171h1M170 139h1M130 156h1M173 179h1M150 180h1M177 180h1M166 180h1M137 180h1M173 179h1M164 179h1M177 169h1M127 177h1M175 179h1M175 142h1M126 177h1M179 159h1M138 140h1M139 142h1M167 134h1M172 179h1M131 164h1M166 136h1M175 177h1M130 168h1M161 180h1M163 180h1M176 169h1M178 151h1M180 151h1M175 179h1M141 135h1M128 168h1M171 180h1M161 136h1M172 180h1M160 137h1M171 180h1M177 158h1M146 133h1M131 175h1M130 179h1M128 158h1M179 180h1M173 146h1M173 137h1M176 153h1M133 139h1M133 151h1M135 180h1M174 149h1M156 179h1M134 148h1M126 164h1M164 138h1M177 153h1M140 179h1M130 172h1M135 179h1M140 180h1M176 158h1M137 143h1M155 135h1M168 179h1M172 141h1M158 180h1M155 180h1M130 161h1M134 148h1M137 179h1M176 152h1M169 135h1M130 180h1M175 179h1M156 180h1M151 180h1M134 145h1M129 155h1M174 167h1M133 158h1M129 179h1M131 168h1M159 137h1M175 141h1M134 180h1M135 154h1M161 133h1M176 179h1M132 177h1M139 140h1M168 135h1"/><path d="M177.0 172.0 L177.0 173.3 L177.0 174.7 L177.0 176.1 L176.9 177.4 L176.9 178.8 L176.9 180.0 L176.8 181.3 L176.8 182.4 L176.7 183.4 L176.7 184.3 L176.6 185.1 L176.5 185.9 L176.5 186.7 L176.4 187.4 L176.3 188.1 L176.2 188.9 L176.1 189.6 L176.0 190.3 L175.9 191.0 L175.7 191.6 L175.6 192.3 L175.5 192.9 L175.3 193.6 L175.2 194.2 L175.0 194.8 L174.9 195.4 L174.7 196.0 L174.5 196.5 L174.3 197.1 L174.2 197.6 L174.0 198.2 L173.8 198.7 L173.6 199.2 L173.4 199.7 L173.1 200.2 L172.9 200.7 L172.7 201.1 L172.4 201.6 L172.2 202.0 L172.0 202.4 L171.7 202.9 L171.4 203.3 L171.2 203.7 L170.9 204.1 L170.6 204.4 L170.3 204.8 L170.0 205.2 L169.7 205.5 L169.4 205.9 L169.1 206.2 L168.8 206.5 L168.5 206.8 L168.1 207.1 L167.8 207.4 L167.4 207.7 L167.1 207.9 L166.7 208.2 L166.3 208.4 L166.0 208.6 L165.6 208.9 L165.2 209.1 L164.8 209.3 L164.4 209.5 L163.9 209.6 L163.5 209.8 L163.1 209.9 L162.7 210.1 L162.2 210.2 L161.7 210.4 L161.2 210.5 L160.7 210.6 L160.1 210.7 L159.5 210.7 L158.7 210.8 L158.0 210.9 L157.2 210.9 L156.4 211.0 L155.6 211.0 L154.8 211.0 L154.0 211.0 L153.2 211.0 L152.4 211.0 L151.6 211.0 L150.8 210.9 L150.0 210.9 L149.3 210.8 L148.5 210.7 L147.9 210.7 L147.3 210.6 L146.8 210.5 L146.3 210.4 L145.8 210.2 L145.3 210.1 L144.9 209.9 L144.5 209.8 L144.1 209.6 L143.6 209.5 L143.2 209.3 L142.8 209.1 L142.4 208.9 L142.0 208.6 L141.7 208.4 L141.3 208.2 L140.9 207.9 L140.6 207.7 L140.2 207.4 L139.9 207.1 L139.5 206.8 L139.2 206.5 L138.9 206.2 L138.6 205.9 L138.3 205.5 L138.0 205.2 L137.7 204.8 L137.4 204.4 L137.1 204.1 L136.8 203.7 L136.6 203.3 L136.3 202.9 L136.0 202.4 L135.8 202.0 L135.6 201.6 L135.3 201.1 L135.1 200.7 L134.9 200.2 L134.6 199.7 L134.4 199.2 L134.2 198.7 L134.0 198.2 L133.8 197.6 L133.7 197.1 L133.5 196.5 L133.3 196.0 L133.1 195.4 L133.0 194.8 L132.8 194.2 L132.7 193.6 L132.5 192.9 L132.4 192.3 L132.3 191.6 L132.1 191.0 L132.0 190.3 L131.9 189.6 L131.8 188.9 L131.7 188.1 L131.6 187.4 L131.5 186.7 L131.5 185.9 L131.4 185.1 L131.3 184.3 L131.3 183.4 L131.2 182.4 L131.2 181.3 L131.1 180.0 L131.1 178.8 L131.1 177.4 L131.0 176.1 L131.0 174.7 L131.0 173.3 L131.0 172.0 L131.0 170.7 L131.0 169.3 L131.0 167.9 L131.1 166.6 L131.1 165.2 L131.1 164.0 L131.2 162.7 L131.2 161.6 L131.3 160.6 L131.3 159.7 L131.4 158.9 L131.5 158.1 L131.5 157.3 L131.6 156.6 L131.7 155.9 L131.8 155.1 L131.9 154.4 L132.0 153.7 L132.1 153.0 L132.3 152.4 L132.4 151.7 L132.5 151.1 L132.7 150.4 L132.8 149.8 L133.0 149.2 L133.1 148.6 L133.3 148.0 L133.5 147.5 L133.7 146.9 L133.8 146.4 L134.0 145.8 L134.2 145.3 L134.4 144.8 L134.6 144.3 L134.9 143.8 L135.1 143.3 L135.3 142.9 L135.6 142.4 L135.8 142.0 L136.0 141.6 L136.3 141.1 L136.6 140.7 L136.8 140.3 L137.1 139.9 L137.4 139.6 L137.7 139.2 L138.0 138.8 L138.3 138.5 L138.6 138.1 L138.9 137.8 L139.2 137.5 L139.5 137.2 L139.9 136.9 L140.2 136.6 L140.6 136.3 L140.9 136.1 L141.3 135.8 L141.7 135.6 L142.0 135.4 L142.4 135.1 L142.8 134.9 L143.2 134.7 L143.6 134.5 L144.1 134.4 L144.5 134.2 L144.9 134.1 L145.3 133.9 L145.8 133.8 L146.3 133.6 L146.8 133.5 L147.3 133.4 L147.9 133.3 L148.5 133.3 L149.3 133.2 L150.0 133.1 L150.8 133.1 L151.6 133.0 L152.4 133.0 L153.2 133.0 L154.0 133.0 L154.8 133.0 L155.6 133.0 L156.4 133.0 L157.2 133.1 L158.0 133.1 L158.7 133.2 L159.5 133.3 L160.1 133.3 L160.7 133.4 L161.2 133.5 L161.7 133.6 L162.2 133.8 L162.7 133.9 L163.1 134.1 L163.5 134.2 L163.9 134.4 L164.4 134.5 L164.8 134.7 L165.2 134.9 L165.6 135.1 L166.0 135.4 L166.3 135.6 L166.7 135.8 L167.1 136.1 L167.4 136.3 L167.8 136.6 L168.1 136.9 L168.5 137.2 L168.8 137.5 L169.1 137.8 L169.4 138.1 L169.7 138.5 L170.0 138.8 L170.3 139.2 L170.6 139.6 L170.9 139.9 L171.2 140.3 L171.4 140.7 L171.7 141.1 L172.0 141.6 L172.2 142.0 L172.4 142.4 L172.7 142.9 L172.9 143.3 L173.1 143.8 L173.4 144.3 L173.6 144.8 L173.8 145.3 L174.0 145.8 L174.2 146.4 L174.3 146.9 L174.5 147.5 L174.7 148.0 L174.9 148.6 L175.0 149.2 L175.2 149.8 L175.3 150.4 L175.5 151.1 L175.6 151.7 L175.7 152.4 L175.9 153.0 L176.0 153.7 L176.1 154.4 L176.2 155.1 L176.3 155.9 L176.4 156.6 L176.5 157.3 L176.5 158.1 L176.6 158.9 L176.7 159.7 L176.7 160.6 L176.8 161.6 L176.8 162.7 L176.9 164.0 L176.9 165.2 L176.9 166.6 L177.0 167.9 L177.0 169.3 L177.0 170.7Z" fill="#12f012" filter="url(#bl0)" clip-path="url(#cA1)"/><path transform="translate(0 0.5)" stroke="#049a04" stroke-width="1.0" stroke-opacity="0.35" fill="none" d="M171 179h1M131 164h1M168 142h1M139 179h1M145 164h1M157 179h1M172 172h1M156 176h1M156 180h1M166 157h1M163 149h1M170 176h1M145 140h1M174 179h1M175 176h1M164 180h1M148 152h1M167 152h1M141 180h1M153 171h1M145 180h1M138 174h1M157 149h1M147 138h1M168 180h1M172 169h1M148 179h1M164 164h1M133 167h1M143 160h1M160 167h1M159 146h1M172 161h1M159 176h1M156 179h1M143 180h1M132 165h1M159 179h1M138 179h1M162 148h1M151 148h1M135 146h1M149 146h1M173 162h1M151 180h1M144 171h1M173 180h1M145 179h1M137 180h1M173 146h1M173 179h1M166 180h1M166 180h1M152 173h1M170 141h1M149 151h1M153 170h1M138 159h1M155 163h1M163 153h1M143 169h1M137 179h1M152 179h1M135 145h1M150 180h1M159 150h1M133 153h1M167 179h1M136 176h1M161 180h1M174 153h1M163 159h1M152 156h1M140 157h1M157 180h1M150 147h1M148 162h1M170 177h1M156 180h1M168 176h1M132 179h1M174 171h1M141 180h1M154 136h1M134 164h1M140 149h1M153 160h1M165 156h1M166 180h1M152 180h1M142 180h1M158 167h1M148 146h1M138 150h1M166 175h1M167 152h1M138 167h1M165 156h1M168 141h1M149 179h1M162 141h1M146 180h1M167 179h1M156 180h1M140 166h1M163 179h1M163 138h1M151 179h1M163 136h1M169 171h1M161 139h1M132 164h1M171 158h1M138 180h1M148 179h1M147 161h1M166 179h1M134 151h1M170 141h1M138 145h1M163 155h1M136 147h1M149 173h1M161 179h1M149 179h1M156 180h1M168 139h1M140 180h1M150 165h1M157 147h1M146 139h1M133 156h1M147 167h1M143 134h1M140 164h1M138 145h1M135 179h1M169 180h1M151 149h1M164 142h1M166 180h1M170 179h1M158 180h1M169 143h1M137 176h1M139 180h1M160 167h1M148 152h1M139 142h1M148 155h1M149 161h1M171 179h1M150 139h1M172 179h1M140 142h1M171 153h1M168 168h1M166 159h1M167 179h1M167 179h1M172 179h1M151 156h1M153 174h1M142 179h1M173 165h1M159 174h1M168 180h1M170 151h1M159 159h1M156 180h1M140 139h1M157 179h1M159 178h1M131 178h1M175 164h1M168 179h1M159 179h1M169 179h1M156 159h1M156 179h1M141 179h1M158 150h1M172 152h1M141 180h1M142 180h1M160 179h1M168 180h1M145 179h1M156 180h1M167 174h1M164 167h1M154 179h1M159 144h1M142 179h1M149 179h1M147 180h1M175 180h1M174 180h1M150 145h1M175 154h1M160 180h1M140 174h1M153 179h1M135 180h1M155 173h1M174 166h1M150 180h1M148 162h1M134 179h1M153 140h1M162 179h1M173 180h1M146 179h1M142 172h1M174 180h1M135 150h1M147 134h1M153 179h1M158 150h1M171 154h1M165 151h1M167 164h1M140 146h1M168 179h1M167 137h1M145 155h1M140 149h1M143 174h1M169 139h1M163 175h1M153 145h1M135 179h1M172 163h1M131 161h1M140 179h1M172 145h1M154 173h1M146 180h1M154 170h1M159 180h1M156 139h1M138 180h1M143 141h1M152 179h1M157 159h1M167 153h1M140 174h1M169 180h1M158 180h1M148 155h1M139 179h1M167 167h1M154 169h1M131 180h1M153 138h1M151 149h1M166 176h1M135 160h1M149 172h1M173 146h1M164 180h1M160 166h1M149 151h1M142 136h1M135 178h1M144 165h1M147 180h1M151 179h1M150 141h1M160 168h1M138 166h1M147 165h1M173 174h1M139 167h1M136 180h1M134 179h1M137 164h1M135 151h1M138 177h1M149 180h1M163 180h1M168 180h1M157 180h1M135 179h1M168 179h1M161 180h1M165 180h1M140 180h1M167 155h1M145 146h1M150 150h1M135 147h1M160 155h1M161 147h1M140 151h1M154 164h1M144 179h1M137 178h1M132 172h1M155 171h1M150 179h1M140 179h1M173 179h1M144 160h1M141 179h1M162 179h1M175 171h1M150 147h1M165 170h1M133 158h1M169 138h1M155 179h1M160 180h1M152 178h1M148 179h1M138 165h1M139 158h1M169 158h1M146 167h1M168 174h1M166 179h1M163 179h1M152 135h1M134 167h1M168 180h1M132 161h1M148 136h1M165 173h1M157 147h1M159 180h1M166 138h1M155 143h1M148 148h1M136 179h1M169 180h1M167 161h1M160 179h1M172 154h1M132 158h1M135 175h1M158 179h1M173 162h1M160 155h1M135 159h1M156 180h1M159 157h1M166 146h1M166 163h1M154 179h1M165 170h1M147 179h1M152 179h1M155 178h1M147 180h1M144 165h1M160 141h1M141 141h1M176 171h1M147 179h1M158 139h1M162 180h1M157 167h1M150 180h1M151 175h1M162 180h1M153 179h1M143 143h1M155 145h1M148 180h1M168 158h1M152 178h1M151 175h1M163 149h1M155 156h1M150 141h1M134 173h1M152 180h1M170 152h1M135 174h1M153 158h1M162 140h1M159 178h1M153 158h1M140 179h1M147 143h1M147 175h1M166 179h1M137 155h1M161 139h1M156 175h1M137 165h1M136 170h1M161 179h1M138 180h1M170 153h1M138 178h1M159 179h1M141 151h1M145 148h1M145 176h1M132 164h1M150 155h1M170 180h1M153 180h1M139 152h1M154 142h1M174 168h1M152 174h1M153 180h1M166 180h1M134 174h1M145 179h1M149 176h1M156 177h1M166 180h1M149 160h1M167 180h1M151 165h1M146 170h1M151 176h1M162 146h1M171 169h1M151 144h1M148 172h1M136 149h1M135 160h1M152 154h1M168 172h1M158 177h1M172 180h1M176 173h1M154 180h1M139 180h1M141 160h1M156 140h1M140 180h1M166 151h1M155 178h1M170 142h1M162 180h1M159 153h1M162 141h1M172 142h1M149 165h1M163 170h1M147 180h1M161 140h1M155 146h1M165 157h1M156 138h1M153 139h1M135 159h1M133 162h1M170 179h1M151 180h1M151 179h1M165 147h1M145 137h1M159 137h1M172 175h1M139 179h1M147 180h1M150 180h1M155 157h1M170 178h1M148 180h1M148 179h1M165 152h1M146 179h1M141 161h1M165 171h1M149 177h1M140 177h1M153 179h1M150 180h1M144 175h1M157 180h1M138 179h1M143 176h1M156 178h1M149 180h1M149 151h1M161 180h1M134 163h1M165 179h1M172 166h1M171 179h1M133 165h1M145 152h1M135 145h1M135 179h1M133 180h1M173 159h1M158 179h1M145 170h1M142 171h1M160 179h1M153 166h1M145 180h1M152 159h1M148 146h1M163 179h1M156 180h1M150 163h1M156 180h1M170 145h1M142 180h1M146 162h1M157 179h1M159 175h1M167 170h1M172 143h1M169 177h1M139 179h1M166 179h1M158 162h1M149 146h1M133 169h1M158 135h1M150 177h1M163 180h1M137 180h1M163 161h1M137 179h1M137 180h1M161 179h1M163 180h1M174 167h1M137 180h1M135 179h1M152 161h1M143 180h1M143 143h1M144 147h1M164 180h1M149 180h1M153 164h1M138 143h1M160 179h1M146 138h1M156 180h1M142 173h1M134 179h1M138 161h1M172 179h1M138 179h1M168 166h1M157 176h1M166 180h1M158 179h1M154 180h1M147 170h1M148 180h1M171 165h1M144 167h1M138 180h1M176 179h1M144 180h1M135 178h1M143 172h1M168 180h1M167 158h1M171 180h1M172 180h1M146 180h1M141 179h1M174 150h1M173 161h1M154 174h1M145 151h1M140 180h1M160 169h1M159 136h1M139 158h1M139 179h1M150 180h1M172 172h1M168 180h1M143 179h1M134 171h1M159 154h1M164 179h1M173 146h1M160 145h1M142 180h1M155 152h1M163 180h1M140 154h1M172 169h1M137 161h1M144 153h1M166 179h1M157 149h1M143 179h1M146 171h1M154 154h1M168 180h1M175 152h1M162 179h1M137 177h1M171 179h1M163 170h1M168 180h1M162 180h1M153 140h1M174 179h1M152 179h1M169 159h1M164 141h1M165 142h1M147 179h1M164 154h1M132 152h1M141 177h1M141 179h1M167 148h1M166 137h1M168 165h1M173 159h1M137 141h1M153 180h1M148 160h1M148 179h1M161 157h1M147 150h1M173 159h1M137 180h1M139 162h1M171 180h1M142 168h1M147 180h1M151 163h1M164 179h1M172 172h1M161 179h1M141 180h1M170 166h1M145 180h1M134 158h1M132 179h1M169 149h1M155 180h1M142 179h1M134 148h1M167 174h1M165 180h1M149 158h1M140 180h1M147 141h1M161 176h1M159 165h1M170 179h1M158 179h1M157 180h1M160 147h1M156 158h1M175 159h1M141 140h1M162 179h1M159 179h1M162 134h1M148 180h1M172 143h1M135 154h1M166 179h1M154 169h1M169 179h1M139 179h1M146 146h1M154 169h1M145 180h1M169 147h1M173 180h1M153 179h1M167 172h1M145 134h1M152 133h1M154 159h1M150 179h1M139 165h1M172 179h1M160 180h1M147 162h1M145 179h1M136 179h1M152 178h1M146 154h1M172 180h1M136 180h1M140 162h1M160 156h1M143 145h1M146 135h1M174 168h1M141 179h1M138 174h1M146 179h1M148 155h1M153 180h1M164 139h1M137 150h1M139 145h1M173 154h1M162 180h1M135 170h1M158 179h1M169 179h1M142 166h1M153 157h1M167 138h1M143 170h1M163 179h1M149 179h1M158 180h1M159 174h1M161 156h1M167 157h1M134 180h1M155 180h1M154 179h1M151 135h1M171 179h1M133 162h1M160 155h1M169 179h1M167 180h1M164 179h1M140 179h1M140 150h1M150 167h1M166 179h1M133 175h1M148 167h1M158 159h1M173 179h1M135 166h1M149 150h1M169 143h1M139 179h1M163 176h1M148 174h1M168 140h1M150 161h1M170 180h1M158 139h1M161 180h1M140 165h1M138 179h1M149 142h1M144 175h1M152 180h1M139 161h1M161 166h1M155 179h1M139 153h1M134 162h1M157 178h1M175 179h1M150 180h1M172 154h1M135 171h1M136 159h1M136 150h1M153 180h1M169 179h1M164 179h1M155 180h1M133 167h1M160 180h1M159 164h1M168 174h1M156 180h1M146 136h1M144 173h1M153 173h1M143 180h1M175 170h1M161 180h1M149 179h1M149 174h1M155 179h1M145 179h1M164 136h1M159 180h1M153 163h1M151 178h1M157 180h1M164 142h1M137 168h1M138 179h1M149 180h1M154 179h1M150 179h1M166 177h1M161 179h1M161 159h1M155 177h1M175 180h1M152 157h1M147 136h1M176 162h1M145 175h1M149 140h1M165 147h1M150 146h1M141 136h1M154 136h1M148 164h1M157 163h1M142 180h1M146 140h1M148 153h1M159 179h1M169 160h1M170 180h1M156 170h1M170 179h1M161 135h1M146 174h1M153 180h1M146 180h1M167 179h1M157 161h1M155 180h1M146 180h1M164 180h1M143 180h1M145 176h1M146 149h1M145 180h1M150 134h1M160 135h1M143 179h1M159 155h1M163 169h1M154 133h1M146 180h1M162 146h1M149 138h1M137 172h1M142 179h1M136 180h1M153 155h1M142 179h1M154 180h1M164 136h1M144 180h1M148 180h1M159 156h1M155 179h1M146 136h1M137 166h1M170 176h1M152 166h1M167 152h1M143 138h1M133 164h1M171 148h1M157 180h1M136 180h1M161 167h1M155 175h1M146 180h1M157 180h1M140 179h1M151 180h1M151 135h1M176 163h1M151 164h1M133 175h1M161 165h1M154 145h1M142 179h1M154 164h1M144 139h1M163 179h1M165 141h1M163 175h1M156 176h1M148 156h1M137 144h1M163 147h1M136 180h1M142 179h1M158 138h1M155 146h1M151 179h1M134 172h1M154 179h1M162 148h1M146 179h1M143 179h1M150 161h1M143 180h1M148 180h1M157 176h1M132 170h1M144 179h1M141 141h1M168 174h1M148 164h1M151 154h1M144 173h1M174 170h1M170 165h1M142 143h1M150 179h1M165 179h1M145 152h1M139 178h1M137 179h1M169 176h1M149 145h1M146 161h1M150 175h1M163 169h1M141 180h1M139 179h1M136 179h1M172 180h1M151 169h1M163 180h1M171 145h1M133 177h1M140 146h1M149 142h1M166 174h1M151 178h1M144 180h1M134 180h1M150 180h1M139 170h1M175 166h1M171 180h1M149 179h1M134 151h1M148 142h1M175 157h1M160 164h1M153 179h1M149 179h1M140 179h1M150 180h1M174 151h1M170 180h1M146 180h1M158 162h1M142 146h1M148 179h1M133 159h1M170 139h1M140 155h1M146 179h1M141 180h1M162 162h1M176 160h1M173 180h1M133 150h1M152 180h1M145 179h1M154 155h1M148 167h1M158 148h1M134 179h1M159 179h1M146 179h1M170 180h1M158 162h1M140 172h1M157 169h1M148 170h1M157 176h1M137 180h1M142 155h1M141 175h1M150 158h1M148 179h1M149 179h1M149 133h1M148 137h1M168 156h1M152 180h1M158 179h1M157 179h1M156 133h1M171 148h1M132 169h1M149 179h1M176 170h1M140 175h1M154 140h1M147 179h1M158 165h1M166 175h1M160 158h1M141 149h1M160 152h1M164 167h1M136 144h1M159 180h1M132 153h1M149 180h1M146 179h1M161 180h1M162 178h1M160 160h1M161 135h1M163 180h1M156 179h1M175 157h1M158 178h1M155 180h1M166 146h1M142 140h1M174 166h1M159 151h1M146 179h1M143 179h1M147 142h1M176 159h1M146 179h1M136 171h1M138 180h1M146 133h1M146 179h1M138 142h1M139 147h1M170 179h1M174 180h1M149 179h1M170 170h1M144 180h1M170 180h1M166 179h1M132 159h1M165 172h1M150 136h1M158 180h1M138 145h1M146 180h1M151 170h1M148 180h1M170 145h1M158 149h1M153 167h1M133 179h1M163 135h1M143 165h1M145 152h1M142 151h1M149 152h1M171 180h1M156 179h1M167 148h1M174 149h1M163 180h1M141 173h1M169 179h1M139 154h1M141 147h1M171 180h1M166 161h1M152 180h1M145 172h1M158 159h1M174 179h1M161 179h1M150 180h1M171 179h1M137 180h1M166 165h1M155 179h1M159 171h1M153 180h1M149 156h1M140 180h1M161 180h1M152 162h1M173 180h1M134 180h1M162 164h1M168 161h1M160 137h1M152 161h1M135 159h1M134 158h1M151 164h1M172 152h1M139 180h1M162 172h1M166 179h1M168 141h1M163 180h1M159 151h1M162 156h1M153 180h1M155 179h1M171 180h1M168 175h1M135 152h1M146 143h1M143 154h1M132 175h1M150 180h1M141 180h1M144 174h1M144 180h1M132 176h1M162 148h1M166 156h1M170 179h1M133 179h1M135 146h1M144 140h1M150 156h1M154 176h1M149 171h1M139 180h1M141 177h1M138 139h1M131 174h1M160 179h1M163 139h1M175 153h1M148 180h1M136 180h1M153 143h1M166 173h1M134 176h1M168 178h1M140 144h1M133 180h1M161 158h1M155 174h1M174 179h1M150 179h1M142 180h1M163 172h1M175 151h1M143 155h1M172 146h1M149 180h1M132 154h1M143 161h1M149 148h1M145 180h1M162 180h1M160 162h1M140 180h1M152 142h1M170 180h1M160 153h1M165 180h1M169 140h1M155 162h1M164 180h1M156 147h1M140 180h1M134 180h1M155 179h1M170 144h1M166 147h1M151 159h1M162 174h1M152 180h1M167 179h1M145 180h1M150 154h1M163 172h1M168 175h1M137 179h1M137 180h1M141 149h1M144 180h1M136 158h1M174 172h1M154 180h1M133 158h1M148 179h1M152 180h1M167 144h1M138 172h1M145 179h1M171 179h1M151 163h1M157 167h1M149 141h1M134 177h1M155 180h1M140 156h1M140 179h1M145 179h1M149 151h1M138 180h1M167 179h1M173 152h1M159 141h1M141 146h1M141 165h1M173 146h1M146 180h1M147 141h1M136 150h1M161 180h1M144 163h1M144 139h1M134 147h1M137 169h1M138 169h1M156 179h1M174 162h1M145 179h1M152 162h1M172 153h1M164 138h1M157 173h1M160 180h1M133 180h1M175 180h1M174 180h1M163 179h1M148 178h1M143 180h1M138 144h1M132 165h1M151 149h1M152 179h1M142 179h1M152 179h1M144 179h1M143 179h1M154 152h1M159 179h1M137 173h1M170 180h1M138 179h1M146 179h1M155 155h1M170 179h1M146 180h1M159 157h1M142 157h1M148 171h1M146 179h1M155 147h1M149 179h1M176 162h1M146 179h1M170 154h1M174 179h1M171 180h1M150 180h1M157 180h1M167 158h1M152 149h1M165 180h1M165 146h1M159 151h1M140 180h1M147 140h1M170 142h1M147 179h1M156 171h1M139 143h1M154 178h1M172 180h1M161 170h1M171 143h1M169 148h1M150 179h1M137 145h1M161 152h1M143 154h1M153 180h1M148 179h1M163 173h1M156 157h1M156 145h1M140 180h1M152 180h1M140 179h1M158 158h1M155 179h1M133 180h1M153 164h1M139 140h1M173 179h1M159 179h1M160 138h1M138 180h1M140 175h1M135 164h1M170 180h1M160 142h1M162 142h1M159 161h1M172 180h1M167 143h1M154 149h1M153 153h1M166 173h1M140 179h1M159 180h1M148 175h1M161 175h1M148 179h1M142 179h1M168 168h1M155 180h1M163 180h1M157 160h1M170 162h1M165 141h1M162 180h1M168 180h1M171 166h1M161 175h1M175 179h1M137 169h1M137 179h1M153 144h1M165 145h1M160 179h1M173 180h1M160 134h1M147 173h1M142 180h1M160 180h1M131 168h1M146 141h1M152 180h1M150 180h1M144 154h1M144 157h1M163 180h1M150 159h1M159 180h1M140 172h1M139 179h1M168 179h1M174 171h1M171 172h1M141 179h1M141 147h1M153 162h1M154 179h1M169 179h1M168 179h1M159 179h1M164 180h1M176 170h1M144 174h1M142 157h1M153 162h1M139 179h1M161 136h1M159 155h1M146 178h1M158 147h1M159 180h1M132 179h1M164 147h1M143 170h1M144 172h1M135 179h1M165 180h1M140 179h1M149 180h1M165 160h1M153 179h1M160 178h1M151 154h1M167 164h1M167 180h1M164 156h1M136 171h1M153 160h1M158 179h1M134 163h1M159 180h1M167 144h1M158 156h1M143 179h1M165 180h1M164 168h1M165 138h1M152 136h1M158 180h1M176 170h1M148 179h1M145 159h1M139 179h1M143 154h1M143 162h1M147 179h1M144 172h1M138 173h1M158 135h1M158 156h1M145 153h1M163 166h1M144 146h1M152 180h1M136 179h1M134 179h1M157 164h1M168 180h1M176 159h1M135 155h1M149 179h1M162 179h1M172 179h1M150 179h1M155 180h1M131 177h1M142 154h1M172 149h1M144 180h1M171 149h1M140 137h1M140 177h1M147 140h1M148 169h1M151 157h1M152 159h1M159 180h1M144 159h1M156 180h1M156 180h1M165 179h1M155 159h1M170 154h1M171 164h1M157 155h1M175 164h1M135 179h1M144 179h1M165 180h1M135 180h1M138 162h1M171 164h1M150 150h1M142 163h1M170 154h1M162 152h1M142 141h1M140 179h1M164 152h1M140 180h1M173 160h1M161 135h1M137 179h1M139 180h1M144 179h1M139 174h1M168 180h1M176 158h1M150 137h1M142 151h1M144 179h1M173 179h1M161 144h1M173 159h1M165 169h1M143 179h1M141 180h1M167 151h1M172 153h1M143 180h1M145 179h1M163 163h1M141 179h1M153 147h1M154 135h1M153 134h1M154 180h1M148 170h1M149 169h1M164 180h1M176 168h1M175 174h1M173 153h1M134 170h1M172 169h1M142 180h1M169 141h1M165 154h1M169 141h1M153 134h1M150 153h1M158 142h1M170 148h1M160 176h1M153 174h1M139 155h1M156 135h1M166 159h1M167 180h1M168 179h1M159 148h1M153 173h1M150 180h1M159 179h1M141 155h1M146 179h1M171 155h1M134 180h1M173 152h1M164 179h1M153 149h1M151 179h1M160 136h1M150 180h1M176 158h1M152 179h1M132 155h1M144 179h1M143 173h1M135 179h1M133 155h1M134 154h1M134 180h1M160 159h1M152 158h1M149 154h1M166 179h1M152 145h1M150 179h1M163 170h1M146 175h1M142 179h1M132 180h1M160 179h1M133 152h1M141 179h1M142 179h1M158 179h1M158 178h1M174 164h1M166 179h1M149 148h1M176 159h1M150 170h1M133 175h1M136 143h1M165 152h1M166 159h1M157 156h1M160 135h1M168 179h1M155 180h1M143 154h1M160 134h1M136 180h1M163 169h1M150 141h1M150 180h1M159 180h1M163 180h1M148 141h1M172 165h1M174 180h1M175 165h1M173 180h1M154 179h1M142 180h1M170 161h1M155 163h1M144 175h1M154 143h1M150 180h1M152 179h1M153 179h1M147 179h1M165 179h1M170 144h1M163 180h1M134 149h1M146 166h1M158 179h1M134 163h1M163 179h1M163 142h1M142 143h1M164 179h1M141 161h1M174 179h1M160 136h1M138 139h1M156 170h1M170 165h1M138 179h1M170 175h1M170 166h1M132 179h1M159 137h1M157 179h1M174 180h1M158 166h1M151 180h1M139 153h1M164 170h1M170 146h1M146 136h1M169 180h1M149 158h1M141 180h1M147 180h1M155 144h1M135 179h1M174 167h1M148 179h1M141 179h1M159 179h1M165 179h1M138 145h1M148 180h1M149 179h1M142 180h1M147 179h1M140 177h1M153 179h1M148 179h1M163 140h1M147 161h1M139 141h1M137 172h1M138 180h1M163 165h1M165 179h1M133 159h1M136 162h1M143 151h1M146 180h1M154 180h1M138 179h1M173 179h1M138 165h1M143 180h1M157 179h1M151 149h1M139 179h1M136 179h1M151 136h1M150 175h1M132 180h1M147 179h1M132 174h1M164 173h1M140 174h1M151 180h1M145 180h1M138 161h1M163 140h1M142 180h1M153 157h1M144 179h1M149 158h1M140 148h1M148 134h1M171 168h1M162 179h1M145 176h1M131 168h1M140 152h1M144 155h1M171 154h1M172 170h1M142 138h1M142 180h1M150 179h1M143 163h1M168 180h1M163 180h1M174 180h1M150 171h1M149 164h1M141 152h1M168 138h1M162 141h1M151 172h1M160 180h1M156 153h1M155 179h1M170 180h1M134 148h1M144 179h1M146 169h1M156 179h1M168 180h1M159 179h1M141 180h1M152 180h1M164 137h1M148 172h1M153 179h1M139 155h1M172 146h1M150 134h1M174 156h1M149 180h1M167 172h1M164 135h1M143 164h1M134 170h1M138 179h1M148 180h1M172 151h1M154 179h1M173 177h1M169 138h1M172 180h1M157 179h1M160 179h1M161 180h1M174 180h1M170 160h1M158 179h1M159 134h1M157 179h1M169 177h1M131 175h1M159 140h1M162 165h1M135 150h1M137 180h1M164 164h1M147 173h1M165 141h1M176 179h1M164 153h1M156 179h1M135 179h1M169 138h1M163 150h1M141 141h1M169 180h1M168 180h1M149 179h1M164 180h1M158 134h1M143 149h1M140 149h1M143 144h1M134 180h1M163 143h1M173 179h1M172 168h1M169 143h1M145 170h1M141 180h1M149 180h1M162 180h1M172 177h1M152 143h1M172 145h1"/><path transform="translate(0 0.5)" stroke="#1e3a1e" stroke-width="1.0" fill="none" d="M178 168h1M175 163h1M175 171h1M179 165h1M175 170h1M172 151h1M178 167h1M176 171h1M171 155h1M173 141h1M169 173h1M175 165h1M172 162h1M177 147h1M178 166h1M179 145h1M179 176h1M179 140h1M178 176h1M172 136h1M169 175h1M172 145h1M173 140h1M178 144h1M179 171h1M178 170h1M170 140h1M179 154h1M173 146h1M177 170h1M171 164h1M170 178h1M179 167h1M179 162h1M178 179h1M177 146h1M179 140h1M177 152h1M172 166h1M172 147h1M179 174h1M177 149h1M176 142h1M174 176h1M174 146h1M178 143h1M176 169h1M178 171h1M177 160h1M175 152h1M178 179h1M167 138h1M178 165h1M178 145h1M173 155h1M177 153h1M179 152h1M175 147h1M169 169h1M178 162h1M174 176h1M178 170h1M177 157h1M175 162h1M176 173h1M178 141h1M175 136h1M176 159h1M175 157h1M174 162h1M175 160h1M177 146h1M179 178h1M176 179h1M173 147h1M178 153h1M175 178h1M179 162h1M179 162h1M174 176h1M178 144h1M176 142h1M175 166h1M171 154h1M178 147h1M178 143h1M175 145h1M171 178h1M176 154h1M174 141h1M174 149h1M179 143h1M172 178h1M178 147h1M177 152h1M173 154h1M179 136h1M178 163h1M176 150h1M178 175h1M177 153h1M178 150h1M176 145h1M176 157h1M178 178h1M179 180h1M179 158h1M179 173h1M169 146h1M175 176h1M177 162h1M179 151h1M177 169h1M177 161h1M179 155h1M177 161h1M169 180h1M176 150h1M176 146h1M178 164h1M177 164h1M175 146h1M179 151h1M176 154h1M178 149h1M175 136h1M177 137h1M173 149h1M172 178h1M177 162h1M175 177h1M176 159h1M178 162h1M176 154h1M177 169h1M179 165h1M176 139h1M177 152h1M178 160h1M179 159h1M165 138h1M179 150h1M177 168h1M176 155h1M173 172h1M176 148h1M176 167h1M172 138h1M176 171h1M179 161h1M179 180h1M168 162h1M172 161h1M178 143h1M173 177h1M173 143h1M174 155h1M176 179h1M178 140h1M166 175h1M179 167h1M173 142h1M177 166h1M174 163h1M178 179h1M174 178h1M177 142h1M175 180h1M177 142h1M179 172h1M179 155h1M179 177h1M176 156h1M179 138h1M178 177h1M176 151h1M167 168h1M177 176h1M176 152h1M177 168h1M175 151h1M178 174h1M178 179h1M178 146h1M179 173h1M178 179h1M171 153h1M174 141h1M175 162h1M178 168h1M171 149h1M176 136h1M179 163h1M172 143h1M177 153h1M178 170h1M175 142h1M169 159h1M177 145h1M178 166h1M168 156h1M175 165h1M179 148h1M178 166h1M172 141h1M175 163h1M173 137h1M176 167h1M178 175h1M179 163h1M174 158h1M171 178h1M171 170h1M178 177h1M175 165h1M174 176h1M174 180h1M175 153h1M171 179h1M174 177h1M178 148h1M178 144h1M176 159h1M168 175h1M176 138h1M179 168h1M178 156h1M179 173h1M179 137h1M179 166h1M175 149h1M178 166h1M173 139h1M174 180h1M178 178h1M174 153h1M176 156h1M176 178h1M179 170h1M172 158h1M173 141h1M177 148h1M169 165h1M178 176h1M178 144h1M177 166h1M175 154h1M174 175h1M176 140h1M179 137h1M175 169h1M173 140h1M176 174h1M175 178h1M177 167h1M172 178h1M178 166h1M177 178h1M178 179h1M177 138h1"/></g><path d="M271 10V182" stroke="#858585" stroke-width="2" fill="none"/><path d="M54 10H272" stroke="#858585" stroke-width="2" fill="none"/><path d="M114.1 10V182M54 131.6H271" stroke="#626262" stroke-width="1.8" fill="none"/><path d="M54 9V182" stroke="#6a6a6a" stroke-width="1.3" fill="none"/><path d="M53.3 182H271" stroke="#1a1a1a" stroke-width="1.7" fill="none"/><path d="M54.0 182v2.5M70.3 182v1.5M79.9 182v1.5M86.7 182v1.5M91.9 182v1.5M96.2 182v1.5M99.8 182v1.5M103.0 182v1.5M105.8 182v1.5M108.2 182v2.5M124.6 182v1.5M134.1 182v1.5M140.9 182v1.5M146.2 182v1.5M150.5 182v1.5M154.1 182v1.5M157.2 182v1.5M160.0 182v1.5M162.5 182v2.5M178.8 182v1.5M188.4 182v1.5M195.2 182v1.5M200.4 182v1.5M204.7 182v1.5M208.3 182v1.5M211.5 182v1.5M214.3 182v1.5M216.8 182v2.5M233.1 182v1.5M242.6 182v1.5M249.4 182v1.5M254.7 182v1.5M259.0 182v1.5M262.6 182v1.5M265.7 182v1.5M268.5 182v1.5M271 182v2.5" stroke="#2a2a2a" stroke-width="1.1" fill="none"/><path d="M54.4 182.0h-2.6M54.4 169.1h-2.0M54.4 161.5h-2.0M54.4 156.1h-2.0M54.4 151.9h-2.0M54.4 148.5h-2.0M54.4 145.7h-2.0M54.4 143.2h-2.0M54.4 141.0h-2.0M54.4 139.0h-2.6M54.4 126.1h-2.0M54.4 118.5h-2.0M54.4 113.1h-2.0M54.4 108.9h-2.0M54.4 105.5h-2.0M54.4 102.7h-2.0M54.4 100.2h-2.0M54.4 98.0h-2.0M54.4 96.0h-2.6M54.4 83.1h-2.0M54.4 75.5h-2.0M54.4 70.1h-2.0M54.4 65.9h-2.0M54.4 62.5h-2.0M54.4 59.7h-2.0M54.4 57.2h-2.0M54.4 55.0h-2.0M54.4 53.0h-2.6M54.4 40.1h-2.0M54.4 32.5h-2.0M54.4 27.1h-2.0M54.4 22.9h-2.0M54.4 19.5h-2.0M54.4 16.7h-2.0M54.4 14.2h-2.0M54.4 12.0h-2.0M54.4 10h-2.6" stroke="#2a2a2a" stroke-width="1.1" fill="none"/><text x="55.0" y="192" font-size="6" fill="#2a2a2a" text-anchor="end">10</text><text x="55.2" y="189" font-size="4.5" fill="#2a2a2a">0</text><text x="109.2" y="192" font-size="6" fill="#2a2a2a" text-anchor="end">10</text><text x="109.5" y="189" font-size="4.5" fill="#2a2a2a">1</text><text x="163.5" y="192" font-size="6" fill="#2a2a2a" text-anchor="end">10</text><text x="163.7" y="189" font-size="4.5" fill="#2a2a2a">2</text><text x="217.8" y="192" font-size="6" fill="#2a2a2a" text-anchor="end">10</text><text x="217.9" y="189" font-size="4.5" fill="#2a2a2a">3</text><text x="272.0" y="192" font-size="6" fill="#2a2a2a" text-anchor="end">10</text><text x="272.2" y="189" font-size="4.5" fill="#2a2a2a">4</text><g transform="translate(48.6 182.0) rotate(-90)"><text x="1.6" y="0" font-size="5.8" fill="#222" text-anchor="end">10</text><text x="2.0" y="-2.8" font-size="5" fill="#222">0</text></g><g transform="translate(48.6 139.0) rotate(-90)"><text x="1.6" y="0" font-size="5.8" fill="#222" text-anchor="end">10</text><text x="2.0" y="-2.8" font-size="5" fill="#222">1</text></g><g transform="translate(48.6 96.0) rotate(-90)"><text x="1.6" y="0" font-size="5.8" fill="#222" text-anchor="end">10</text><text x="2.0" y="-2.8" font-size="5" fill="#222">2</text></g><g transform="translate(48.6 53.0) rotate(-90)"><text x="1.6" y="0" font-size="5.8" fill="#222" text-anchor="end">10</text><text x="2.0" y="-2.8" font-size="5" fill="#222">3</text></g><g transform="translate(48.6 10.0) rotate(-90)"><text x="-0.3" y="0" font-size="5.8" fill="#222" text-anchor="end">10</text></g><g filter="url(#soft)"><path transform="translate(0 0.5)" stroke="#8a8a8a" stroke-width="1.0" fill="none" d="M372 172h1M380 126h1M404 102h1M408 151h1M448 143h1M492 57h1M346 128h1M404 102h1M418 114h1M385 129h1M430 175h1M429 104h1M386 108h1M305 132h1M384 139h1M391 95h1M497 108h1M504 157h1M411 115h1M382 131h1M431 74h1M468 74h1M485 147h1M414 93h1M355 150h1M472 110h1M309 136h1M387 164h1M401 100h1M422 101h1M368 162h1M405 126h1M442 121h1M400 154h1M357 94h1M436 124h1M406 85h1M350 83h1M363 146h1M489 164h1M389 131h1M424 79h1M374 121h1M390 136h1M396 124h1M373 162h1M435 99h1M450 135h1M438 114h1M378 123h1M367 114h1M300 141h1M451 87h1M383 116h1M338 136h1M342 153h1M437 159h1M384 131h1M435 162h1M407 166h1M444 121h1M464 116h1M335 121h1M472 110h1M405 122h1M360 136h1M372 134h1M357 113h1M416 141h1M423 164h1M333 154h1M307 146h1M461 115h1M416 116h1M333 178h1M447 127h1M456 101h1M421 154h1M423 178h1M371 78h1M433 94h1M358 153h1M496 128h1M377 106h1M426 95h1M360 93h1M326 86h1M372 113h1M501 157h1M398 117h1M449 117h1M456 103h1M357 125h1M403 177h1M397 102h1M359 125h1M402 157h1M319 109h1M415 141h1M447 120h1M355 119h1M430 121h1M435 117h1M425 149h1M501 141h1M495 146h1M417 28h1M470 118h1M367 67h1M318 41h1M377 158h1M340 125h1M360 119h1M411 173h1M365 72h1M399 28h1M449 40h1M478 140h1M417 117h1M471 48h1M440 34h1M464 119h1"/><path transform="translate(0 0.5)" stroke="#e8aa70" stroke-width="1.0" fill="none" d="M298 117h1M363 96h1M328 120h1M368 102h1M345 111h1M340 114h1M356 110h1M338 111h1M298 116h1M339 122h1M333 125h1M314 124h1M346 113h1M327 93h1M322 101h1M367 107h1M352 117h1M358 122h1M362 108h1M316 105h1M363 112h1M320 113h1M320 118h1M340 118h1M330 110h1M361 89h1M330 108h1M345 85h1M335 110h1M332 123h1M329 115h1M333 102h1M348 115h1M331 116h1M340 105h1M360 106h1M343 118h1M377 114h1M337 106h1M340 110h1M345 118h1M353 110h1M347 105h1M335 115h1M333 110h1M330 113h1M336 101h1M313 111h1M318 108h1M319 98h1M357 125h1M339 113h1M351 114h1M332 119h1M341 124h1M324 121h1M307 105h1M332 114h1M328 106h1M326 110h1M315 115h1M344 122h1M347 102h1M344 119h1M351 115h1M323 102h1M335 111h1M328 122h1M336 111h1M322 115h1M331 120h1M335 112h1M310 112h1M358 123h1M350 122h1M361 114h1M345 96h1M344 99h1M360 116h1M329 103h1M316 99h1M349 122h1M332 97h1M351 97h1M345 113h1M325 122h1M335 119h1M319 101h1M336 119h1M333 103h1M347 114h1M363 84h1M340 100h1M332 115h1M337 110h1M334 115h1M329 76h1M339 124h1M319 119h1M339 107h1M350 120h1M343 117h1M332 110h1M352 116h1M340 113h1M361 118h1M343 110h1M336 112h1M318 105h1M354 108h1M350 114h1M356 115h1M328 115h1M320 120h1M356 105h1M336 105h1M300 97h1M345 123h1M317 129h1M356 115h1M352 118h1M307 105h1M341 113h1M335 125h1M345 115h1M318 99h1M315 114h1M349 112h1M307 120h1M334 127h1M342 112h1M346 116h1M341 121h1M369 104h1M353 110h1M333 97h1M334 114h1M325 118h1M339 115h1M367 116h1M346 105h1M334 104h1M318 124h1M299 118h1M334 109h1M324 117h1M341 105h1M319 103h1M347 115h1M332 111h1M326 115h1M329 116h1M335 114h1M342 105h1M311 111h1M334 108h1M344 111h1M344 94h1M355 124h1M339 100h1M374 98h1M328 111h1M306 111h1M303 109h1M308 102h1M335 118h1M310 100h1M314 118h1M309 100h1M336 114h1M348 113h1M353 98h1M339 112h1M315 121h1M321 121h1M356 118h1M359 107h1M329 111h1M348 104h1M346 123h1M330 105h1M351 102h1M322 107h1M344 128h1M344 98h1M333 120h1M327 119h1M358 107h1M324 114h1M322 99h1M315 116h1M332 116h1M333 105h1M323 114h1M352 112h1M337 117h1M344 119h1M315 122h1M331 111h1M359 118h1M351 120h1M342 127h1M353 113h1M347 108h1M340 106h1M342 111h1M343 97h1M330 103h1M362 118h1M339 125h1M336 107h1M371 124h1M343 116h1M345 108h1M343 125h1M338 121h1M331 121h1M348 118h1M315 121h1M352 110h1M359 110h1M333 107h1M331 121h1M366 117h1M334 121h1M328 110h1M351 110h1M320 112h1M306 113h1M337 110h1M329 126h1M325 114h1M326 89h1M327 107h1M332 115h1M303 114h1M348 113h1M332 111h1M331 126h1M332 105h1M349 120h1M341 121h1M370 122h1M349 105h1M351 107h1M345 118h1M335 118h1M334 107h1M336 109h1M342 127h1M331 119h1M325 119h1M351 121h1M336 129h1M349 112h1M376 116h1M316 98h1M323 110h1M326 116h1M335 119h1M361 106h1M343 100h1M353 105h1M365 94h1M306 103h1M331 111h1M326 117h1M342 126h1M321 114h1M360 106h1M329 115h1M325 109h1M320 122h1M316 122h1M335 98h1M327 110h1M329 124h1M343 111h1M339 85h1M352 119h1M347 116h1M328 111h1M354 120h1M327 115h1M322 118h1M349 110h1M317 111h1M326 116h1M313 109h1M313 102h1M340 101h1M322 115h1M361 105h1M357 104h1M341 106h1M326 118h1M335 93h1M332 90h1M352 114h1M307 110h1M333 126h1M337 109h1M342 99h1M346 114h1M330 115h1M345 115h1M318 115h1M341 109h1M334 115h1M352 111h1M325 96h1M310 101h1M343 103h1M337 109h1M330 101h1M325 124h1M342 111h1M349 103h1M322 105h1M315 112h1M346 106h1M319 102h1M354 100h1M357 111h1M327 127h1M370 86h1M332 108h1M334 112h1M334 104h1M348 113h1M341 96h1M325 114h1M331 101h1M312 118h1M320 111h1M338 122h1M336 103h1M327 115h1M339 126h1M324 109h1M335 102h1M336 108h1M350 113h1M351 108h1M320 115h1M330 122h1M309 104h1M365 97h1M304 103h1M334 97h1M312 104h1M336 109h1M339 96h1M344 111h1M326 110h1M346 96h1M325 107h1M321 96h1M323 116h1M324 108h1M360 115h1M349 123h1M345 116h1M305 110h1M334 113h1"/><path transform="translate(0 0.5)" stroke="#333" stroke-width="1.0" fill="none" d="M320 164h1M327 164h1M353 147h1M318 155h1M326 165h1M331 139h1M332 152h1M338 159h1M310 163h1M319 163h1M326 136h1M331 153h1M336 147h1M333 157h1M328 160h1M313 153h1M310 157h1M309 179h1M339 177h1M350 166h1M314 155h1M306 180h1M321 146h1M319 152h1M323 142h1M332 140h1M320 149h1M308 148h1M324 159h1M343 162h1M302 162h1M349 140h1M329 163h1M349 174h1M317 151h1M315 151h1M307 160h1M330 162h1M329 154h1M324 159h1M328 142h1M315 146h1M341 149h1M303 153h1M320 147h1M332 142h1M323 156h1M329 160h1M304 150h1M322 149h1M326 155h1M306 147h1M335 160h1M308 147h1M307 177h1M329 159h1M315 165h1M335 151h1M339 152h1M321 155h1M334 156h1M353 152h1M302 143h1M301 162h1M353 155h1M313 178h1M339 149h1M325 143h1M339 146h1M318 156h1M322 156h1M329 167h1M301 157h1M323 167h1M331 161h1M329 156h1M327 135h1M298 162h1M314 170h1M298 171h1M332 158h1M341 154h1M329 137h1M297 163h1M322 157h1M339 151h1M334 138h1M339 137h1M340 148h1M311 164h1M331 154h1M332 143h1M312 164h1M319 168h1M326 157h1M343 157h1M328 152h1M329 161h1M304 140h1M328 170h1M343 155h1M322 180h1M348 143h1M323 135h1M305 155h1M326 159h1M326 147h1M327 157h1M326 144h1M343 154h1M317 139h1M323 148h1M326 147h1M325 145h1M333 140h1M330 158h1M344 176h1M338 153h1M329 155h1M337 161h1M347 157h1M325 179h1M321 144h1M334 133h1M326 161h1M354 143h1M325 156h1M319 150h1M318 142h1M340 174h1M319 159h1M338 156h1M352 155h1M349 141h1M322 154h1M337 156h1M346 149h1M330 138h1M352 151h1M354 152h1M329 136h1M335 156h1M311 168h1M316 152h1M337 172h1M318 157h1M330 148h1M313 141h1M318 139h1M311 145h1M333 152h1M318 141h1M331 151h1M338 176h1M329 157h1M337 159h1M353 158h1M351 154h1M342 150h1M337 151h1M305 143h1M336 145h1M314 155h1M309 155h1M328 156h1M346 145h1M338 139h1M340 180h1M341 160h1M341 165h1M313 157h1M313 163h1M330 167h1M345 171h1M329 153h1M318 161h1M321 165h1M322 135h1M319 154h1M313 159h1M353 143h1M332 147h1M304 168h1M332 160h1M337 154h1M342 148h1M314 157h1M301 179h1M310 142h1M308 134h1M332 168h1M346 161h1M344 143h1M317 172h1M329 170h1M318 145h1M329 145h1M319 160h1M347 161h1M326 168h1M327 147h1M350 158h1M319 138h1M325 162h1M322 168h1M319 159h1M310 134h1M312 155h1M320 162h1M308 156h1M310 163h1M316 153h1M336 168h1M333 151h1M324 148h1M334 143h1M330 132h1M327 153h1M316 155h1M341 152h1M328 142h1M326 149h1M323 166h1M331 157h1M328 169h1M310 160h1M320 149h1M311 178h1M309 133h1M302 157h1M327 164h1M340 158h1M326 147h1M327 172h1M313 159h1M318 157h1M318 148h1M311 176h1M327 170h1M338 144h1M342 170h1M338 151h1M332 147h1M312 156h1M307 170h1M333 157h1M342 138h1M343 147h1M330 158h1M349 146h1M330 155h1M324 163h1M327 148h1M331 139h1M339 159h1M311 176h1M314 153h1M347 160h1M324 162h1M347 159h1M339 139h1M334 161h1M348 162h1M327 145h1M340 160h1M342 145h1M346 142h1M315 144h1M329 169h1M353 166h1M341 157h1M350 176h1M353 146h1M321 166h1M330 149h1M338 165h1M317 159h1M337 137h1M336 150h1M322 161h1M324 150h1M344 165h1M341 136h1M313 178h1M316 153h1M325 146h1M330 148h1M329 146h1M317 134h1M335 140h1M299 157h1M317 165h1M330 140h1M330 159h1M328 149h1M335 178h1M332 162h1M325 164h1M354 159h1M328 161h1M304 145h1M343 175h1M310 172h1M304 168h1M315 142h1M322 163h1M328 156h1M314 133h1M322 154h1M336 138h1M320 141h1M344 161h1M329 141h1M309 148h1M340 152h1M333 149h1M307 151h1M323 156h1M338 141h1M319 155h1M319 151h1M337 169h1M346 147h1M316 179h1M351 173h1M348 162h1M313 151h1M310 174h1M349 159h1M311 153h1M330 153h1M337 166h1M343 158h1M330 147h1M342 164h1M337 156h1M346 165h1M314 158h1M353 167h1M338 161h1M325 154h1M339 152h1M302 135h1M320 180h1M335 144h1M334 146h1M333 180h1M318 158h1M332 133h1M328 149h1M335 165h1M319 160h1M321 148h1M320 165h1M325 137h1M320 150h1M329 168h1M322 179h1M350 146h1M319 141h1M315 157h1M336 158h1M327 162h1M311 175h1M341 179h1M313 163h1M328 142h1M325 152h1M311 157h1M342 152h1M335 170h1M327 163h1M334 158h1M311 155h1M325 167h1M334 145h1M340 140h1M301 149h1M336 142h1M313 148h1M342 154h1M346 146h1M313 164h1M342 167h1M330 162h1M341 135h1M348 158h1M332 141h1M312 161h1M318 144h1M324 136h1M320 160h1M335 148h1M339 180h1M347 148h1M310 157h1M329 153h1M323 143h1M302 145h1M332 174h1M329 175h1M338 145h1M336 165h1M346 155h1M319 172h1M317 156h1M340 155h1M345 148h1M320 158h1M336 162h1M345 166h1M335 152h1M323 154h1M340 157h1M328 140h1M310 155h1M323 148h1M330 148h1M315 154h1M346 139h1M311 155h1M324 175h1M318 177h1M325 170h1M338 160h1M346 179h1M313 155h1M340 166h1M323 162h1M309 157h1M312 145h1M348 159h1M309 179h1M320 160h1M330 151h1M353 158h1M297 151h1M332 154h1M332 145h1M304 165h1M323 151h1M324 153h1M338 154h1M324 135h1M321 173h1M332 177h1M346 147h1M309 180h1M330 156h1M326 150h1M328 159h1M344 161h1M320 148h1M306 160h1M326 139h1M309 165h1M354 147h1M351 137h1M313 154h1M329 139h1M304 167h1M326 174h1M322 141h1M337 140h1M333 140h1M347 144h1M323 153h1M340 137h1M319 165h1M320 180h1M339 148h1M317 177h1M332 154h1M308 175h1M346 156h1M318 166h1M307 169h1M301 172h1M340 172h1M309 152h1M309 156h1M329 140h1M326 175h1M331 143h1M324 156h1M311 150h1M318 167h1M325 157h1M337 170h1M352 155h1M330 169h1M342 142h1M335 146h1M319 170h1M351 168h1M329 138h1M333 143h1M340 154h1M349 142h1M319 171h1M327 177h1M315 158h1M332 138h1M328 135h1M316 146h1M325 153h1M335 170h1M348 146h1M334 160h1M331 179h1M312 179h1M319 168h1M329 167h1M321 149h1M330 158h1M354 155h1M302 165h1M308 168h1M341 162h1M332 143h1M343 169h1M338 160h1M303 171h1M338 157h1M314 142h1M326 153h1M329 142h1M332 137h1M341 134h1M330 167h1M347 151h1M334 141h1M321 147h1M336 154h1M322 152h1M342 151h1M323 147h1M324 164h1M344 150h1M301 177h1M336 143h1M340 143h1M339 161h1M314 158h1M336 163h1M354 164h1M323 177h1M341 148h1M300 157h1M326 152h1M327 174h1M327 135h1M313 167h1M341 139h1M339 146h1M349 152h1M338 153h1M313 168h1M299 170h1M333 138h1M335 144h1M337 160h1M321 172h1M326 171h1M344 170h1M322 141h1M318 173h1M322 144h1M339 176h1M317 168h1M324 163h1M334 165h1M316 163h1M320 154h1M332 138h1M333 167h1M317 163h1M320 163h1M343 152h1M322 168h1M329 148h1M327 139h1M319 169h1M340 152h1M324 147h1M302 150h1M354 175h1M325 160h1M331 150h1M334 143h1M322 144h1M312 154h1M314 137h1M320 151h1M339 151h1M324 140h1M336 150h1M313 156h1M330 175h1M311 178h1M340 142h1M325 153h1M324 162h1M313 150h1M326 136h1M306 146h1M343 143h1M333 141h1M324 157h1M312 154h1M335 144h1M315 174h1M344 152h1M339 176h1M317 150h1M325 158h1M338 151h1M344 142h1M320 138h1M340 142h1M309 163h1M338 165h1M343 165h1M325 138h1M335 173h1M323 160h1M324 142h1M332 151h1M335 153h1M331 157h1M313 135h1M306 162h1M335 161h1M303 153h1M308 166h1M340 155h1M339 150h1M324 140h1M323 160h1M327 155h1M307 159h1M344 141h1M316 146h1M331 148h1M321 150h1M336 172h1M340 171h1M340 158h1M328 155h1M315 158h1M328 152h1M312 168h1M305 134h1M304 164h1M344 159h1M307 151h1M346 135h1M327 158h1M323 140h1M329 139h1M353 152h1M307 151h1M335 154h1M321 145h1M312 153h1M296 175h1M314 154h1M314 142h1M329 144h1M342 146h1M335 172h1M324 160h1M319 159h1M329 175h1M339 134h1M336 157h1M328 160h1M338 140h1M333 149h1M319 148h1M343 162h1M321 143h1M319 140h1M340 146h1M321 143h1M329 155h1M342 164h1M321 147h1M321 149h1M344 143h1M334 180h1M315 144h1M339 162h1M305 161h1M349 141h1M348 164h1M354 159h1M309 145h1M339 135h1M336 148h1M327 141h1M349 143h1M308 160h1M328 144h1M336 140h1M322 155h1M330 171h1M343 141h1M342 139h1M328 171h1M306 150h1M315 170h1M321 152h1M318 146h1M326 162h1M327 145h1M339 153h1M309 148h1M320 159h1M338 157h1M318 145h1M344 153h1M320 156h1M333 169h1M351 154h1M346 144h1M331 155h1M331 179h1M340 170h1M323 172h1M313 137h1M344 179h1M347 161h1M334 158h1M326 155h1M312 161h1M324 167h1M333 137h1M342 175h1M330 158h1M335 146h1M310 142h1M331 151h1M347 173h1M319 154h1M301 156h1M340 144h1M352 174h1M340 151h1M322 146h1M338 159h1M298 146h1M330 151h1M318 133h1M346 134h1M314 161h1M344 163h1M318 162h1M325 168h1M344 152h1M335 150h1M320 167h1M326 140h1M317 142h1M335 138h1M328 144h1M349 170h1M340 171h1M324 148h1M350 136h1M308 156h1M320 174h1M337 151h1M341 164h1M334 136h1M329 169h1M303 171h1M320 161h1M346 153h1M334 169h1M321 161h1M329 157h1M320 160h1M301 173h1M326 142h1M320 152h1M311 148h1M326 158h1M325 156h1M332 150h1M330 158h1M332 153h1M326 170h1M318 168h1M328 154h1M329 156h1M344 151h1M330 144h1M319 160h1M341 167h1M341 142h1M341 172h1M310 143h1M315 140h1M337 136h1M304 167h1M322 156h1M332 153h1M322 144h1M316 163h1M328 149h1M323 171h1M321 152h1M337 165h1M319 161h1M325 156h1M348 150h1M342 176h1M329 170h1M326 142h1M333 175h1M332 138h1M310 161h1M317 163h1M346 155h1M315 142h1M354 143h1M339 166h1M329 145h1M322 155h1M331 157h1M341 146h1M336 141h1M349 139h1M336 149h1M320 167h1M338 153h1M341 151h1M328 176h1M316 172h1M318 165h1M338 160h1M316 162h1M341 158h1M302 167h1M313 157h1M331 167h1M311 138h1M327 141h1M343 173h1M339 171h1M313 144h1M341 141h1M344 168h1M319 152h1M339 156h1M320 171h1M310 162h1M347 156h1M347 171h1M315 134h1M345 180h1M320 164h1M335 174h1M310 144h1M337 179h1M346 139h1M331 162h1M341 159h1M334 143h1M344 162h1M321 164h1M300 154h1M323 146h1M325 136h1M312 138h1M344 140h1M325 141h1M338 135h1M317 145h1M340 180h1M345 160h1M322 162h1M344 180h1M329 158h1M344 160h1M327 161h1M329 178h1M334 180h1M320 158h1M335 153h1M302 133h1M322 136h1M322 167h1M344 152h1M332 150h1M329 161h1M318 165h1M336 144h1M325 173h1M344 143h1M325 163h1M329 151h1M338 152h1M336 150h1M306 167h1M332 165h1M329 155h1M301 169h1M311 137h1M344 160h1M334 137h1M343 134h1M303 165h1M350 153h1M321 156h1M352 143h1M323 145h1M322 139h1M334 153h1M326 156h1M345 154h1M341 153h1M324 152h1M327 155h1M329 163h1M329 161h1M345 168h1M329 137h1M317 145h1M305 150h1M333 141h1M337 148h1M333 147h1M349 175h1M340 158h1M339 152h1M316 154h1M346 153h1M314 152h1M327 179h1M310 170h1M343 156h1M309 149h1M316 166h1M319 158h1M301 151h1M327 165h1M325 158h1M308 145h1M306 164h1M332 164h1M305 152h1M328 147h1M332 154h1M339 162h1M327 158h1M332 169h1M350 150h1M319 154h1M329 152h1M347 159h1M311 141h1M338 171h1M304 172h1M304 173h1M325 137h1M328 158h1M348 144h1M326 167h1M336 158h1M318 152h1M317 165h1M333 137h1M321 172h1M322 168h1M324 136h1M338 160h1M335 171h1M322 158h1M323 158h1M346 157h1M321 176h1M339 161h1M323 139h1M324 172h1M351 168h1M303 154h1M318 153h1M320 173h1M335 162h1M319 152h1M331 170h1M339 150h1M344 133h1M308 150h1M329 134h1M314 138h1M332 167h1M314 145h1M323 166h1M315 176h1M322 150h1M348 168h1M330 162h1M341 174h1M335 152h1M327 161h1M349 147h1M348 141h1M323 142h1M341 142h1M323 175h1M321 166h1M335 156h1M330 153h1M327 153h1M298 170h1M316 154h1M330 133h1M339 153h1M320 148h1M336 144h1M335 133h1M325 161h1M313 160h1M344 143h1M327 143h1M329 156h1M337 166h1M324 167h1M339 155h1M318 142h1M317 163h1M333 158h1M335 147h1M332 141h1M339 148h1M328 169h1M319 171h1M336 150h1M305 157h1M329 174h1M343 137h1M337 148h1M346 151h1M325 159h1M325 133h1M322 160h1M321 136h1M332 166h1M343 153h1M328 148h1M352 165h1M336 155h1M298 142h1M339 166h1M322 151h1M330 158h1M318 171h1M321 136h1M345 165h1M324 179h1M323 164h1M320 180h1M338 159h1M346 155h1M306 150h1M336 133h1M328 171h1M325 138h1M318 164h1M317 167h1M328 165h1M318 165h1M321 142h1M342 153h1M310 150h1M348 143h1M350 159h1M325 141h1M339 152h1M314 172h1M326 153h1M323 152h1M317 164h1M344 138h1M335 158h1M344 169h1M307 162h1M328 145h1M324 165h1M307 149h1M346 164h1M331 141h1M336 140h1M353 174h1M322 152h1M354 152h1M303 138h1M351 147h1M342 172h1M313 160h1M311 154h1M322 164h1M349 159h1M337 169h1M333 148h1M328 161h1M312 146h1M313 135h1M344 163h1M302 149h1M314 153h1M337 133h1M329 175h1M323 146h1M304 137h1M318 146h1M313 166h1M322 159h1M315 160h1M307 145h1M350 164h1M298 153h1M342 167h1M323 143h1M321 145h1M311 142h1M315 145h1M323 143h1M298 160h1M344 148h1M332 134h1M329 148h1M328 145h1M329 155h1M341 155h1M319 153h1M319 134h1M313 161h1M319 157h1M343 141h1M353 170h1M335 138h1M314 161h1M318 149h1M322 145h1M349 165h1M315 168h1M329 147h1M311 170h1M332 158h1M316 139h1M341 152h1M321 148h1M342 159h1M328 158h1M319 144h1M337 147h1M307 162h1M351 163h1M348 176h1M312 153h1M327 156h1M300 144h1M337 179h1M334 157h1M332 160h1M321 170h1M328 163h1M319 144h1M325 150h1M319 169h1M319 158h1M318 148h1M317 168h1M342 139h1M351 152h1M320 168h1M330 167h1M348 141h1M304 153h1M335 159h1M303 157h1M335 151h1M325 147h1M327 151h1M325 156h1M307 159h1M332 164h1M332 162h1M317 150h1M334 165h1M329 147h1M330 168h1M346 163h1M315 148h1M332 165h1M343 149h1M320 164h1M348 142h1M316 157h1M303 171h1M312 147h1M344 144h1M323 160h1M328 153h1M328 134h1M338 147h1M313 148h1M314 148h1M336 152h1M341 148h1M332 170h1M326 136h1M340 147h1M317 168h1M329 156h1M310 137h1M341 159h1M332 148h1M352 161h1M352 137h1M325 162h1M330 155h1M331 153h1M345 179h1M318 164h1M340 156h1M316 133h1M339 134h1M328 149h1M303 155h1M323 162h1M336 142h1M326 148h1M332 160h1M309 153h1M318 166h1M317 149h1M329 156h1M321 155h1M325 160h1M316 159h1M317 152h1M326 161h1M330 143h1M303 171h1M340 161h1M335 175h1M326 156h1M326 178h1M313 166h1M338 173h1M342 147h1M316 155h1M328 149h1M346 150h1M335 146h1M316 156h1M343 143h1M316 165h1M353 156h1M329 163h1M300 146h1M316 160h1M341 180h1M335 162h1M325 166h1M309 172h1M345 148h1M305 150h1M302 159h1M312 174h1M342 166h1M333 149h1M326 162h1M335 162h1M318 150h1M352 147h1M331 132h1M337 137h1M309 143h1M328 176h1M310 157h1M339 168h1M304 158h1M340 153h1M345 175h1M338 153h1M348 165h1M353 158h1M324 147h1M322 149h1M322 162h1M329 150h1M326 171h1M325 150h1M330 156h1M322 154h1M352 161h1M312 151h1M328 147h1M337 147h1M339 157h1M310 157h1M308 169h1M310 159h1M316 165h1M347 166h1M327 153h1M334 168h1M316 148h1M334 152h1M324 168h1M344 149h1M320 172h1M322 172h1M320 144h1M341 160h1M306 172h1M335 146h1M300 146h1M302 158h1M329 165h1M333 154h1M326 160h1M298 159h1M347 160h1M345 160h1M316 143h1M319 148h1M329 145h1M313 172h1M305 145h1M324 166h1M339 145h1M323 158h1M338 158h1M342 159h1M352 152h1M344 151h1M329 154h1M333 180h1M327 171h1M316 145h1M311 152h1M315 175h1M337 165h1M351 152h1M332 140h1M321 142h1M335 149h1M353 149h1M315 150h1M315 152h1M321 139h1"/><path transform="translate(0 0.5)" stroke="#2e2e2e" stroke-width="1.0" fill="none" d="M457 175h1M382 171h1M454 141h1M420 137h1M399 177h1M435 151h1M439 164h1M438 144h1M433 170h1M453 148h1M422 145h1M435 174h1M473 169h1M427 157h1M395 174h1M452 141h1M427 174h1M402 179h1M457 169h1M445 155h1M422 147h1M430 161h1M390 144h1M427 162h1M383 155h1M401 157h1M454 163h1M428 146h1M390 159h1M411 161h1M439 137h1M419 180h1M426 156h1M420 157h1M401 173h1M449 170h1M390 132h1M418 180h1M397 180h1M419 152h1M423 167h1M420 167h1M427 145h1M437 162h1M386 164h1M424 178h1M447 128h1M454 154h1M441 145h1M398 178h1M410 145h1M440 145h1M446 147h1M415 161h1M418 163h1M437 165h1M444 154h1M415 158h1M404 147h1M391 149h1M410 150h1M393 143h1M409 178h1M445 159h1M431 159h1M414 154h1M442 155h1M396 179h1M433 179h1M413 153h1M431 158h1M446 180h1M402 143h1M435 160h1M421 169h1M418 150h1M392 173h1M421 139h1M421 169h1M425 180h1M419 143h1M402 167h1M451 178h1M419 153h1M445 160h1M417 158h1M407 140h1M447 159h1M445 179h1M415 158h1M426 178h1M432 117h1M397 157h1M414 126h1M384 143h1M441 163h1M386 179h1M419 153h1M398 180h1M421 158h1M418 156h1M413 138h1M432 142h1M416 149h1M439 157h1M428 180h1M402 179h1M417 174h1M424 161h1M438 166h1M446 177h1M419 139h1M429 157h1M422 171h1M429 145h1M404 180h1M411 166h1M438 164h1M447 163h1M428 153h1M418 166h1M432 153h1M411 152h1M455 158h1M397 178h1M428 145h1M445 170h1M416 174h1M406 157h1M413 154h1M427 167h1M444 150h1M423 136h1M432 180h1M437 139h1M429 150h1M435 148h1M433 157h1M436 171h1M408 152h1M412 155h1M410 163h1M459 150h1M420 166h1M416 177h1M446 166h1M433 180h1M417 168h1M445 168h1M407 121h1M403 151h1M408 173h1M449 142h1M424 156h1M446 171h1M403 175h1M390 162h1M429 159h1M418 165h1M388 130h1M428 162h1M462 147h1M428 155h1M398 139h1M411 132h1M409 156h1M387 165h1M404 164h1M403 139h1M415 147h1M414 144h1M426 164h1M432 172h1M431 166h1M424 166h1M407 179h1M426 158h1M427 157h1M487 172h1M417 139h1M430 142h1M437 160h1M438 180h1M386 146h1M420 160h1M396 149h1M440 169h1M395 165h1M387 160h1M406 150h1M458 154h1M442 135h1M443 144h1M412 166h1M430 122h1M406 180h1M420 145h1M444 165h1M444 179h1M421 120h1M407 138h1M414 147h1M393 159h1M392 175h1M416 178h1M431 153h1M446 179h1M455 156h1M422 154h1M437 173h1M388 147h1M434 141h1M470 175h1M437 163h1M453 160h1M440 163h1M440 131h1M446 167h1M402 179h1M416 159h1M451 168h1M411 162h1M448 177h1M410 168h1M419 128h1M410 171h1M442 173h1M430 132h1M383 156h1M402 172h1M403 180h1M434 151h1M431 178h1M389 167h1M434 161h1M446 167h1M427 168h1M435 172h1M495 146h1M423 169h1M417 167h1M434 178h1M422 166h1M402 157h1M418 151h1M402 163h1M456 157h1M402 140h1M458 142h1M411 156h1M398 154h1M418 180h1M455 173h1M427 161h1M455 174h1M440 156h1M431 145h1M412 135h1M440 161h1M427 167h1M414 174h1M422 123h1M437 147h1M430 160h1M448 156h1M467 130h1M437 158h1M440 154h1M438 173h1M435 143h1M422 179h1M413 144h1M416 179h1M407 159h1M438 173h1M400 156h1M422 143h1M408 178h1M409 154h1M438 175h1M428 147h1M442 147h1M407 158h1M414 178h1M427 153h1M437 178h1M435 160h1M450 180h1M400 140h1M421 155h1M412 173h1M456 178h1M395 155h1M407 179h1M444 146h1M407 164h1M390 180h1M451 174h1M439 165h1M413 176h1M406 151h1M420 173h1M409 141h1M411 147h1M438 175h1M409 173h1M419 158h1M410 145h1M438 157h1M421 151h1M445 180h1M400 180h1M412 148h1M419 166h1M426 166h1M415 169h1M463 166h1M413 173h1M417 129h1M398 153h1M416 151h1M465 155h1M429 142h1M407 153h1M443 154h1M417 167h1M434 165h1M401 145h1M412 143h1M452 137h1M425 152h1M428 151h1M432 152h1M442 170h1M412 162h1M404 172h1M421 164h1M442 166h1M417 174h1M444 174h1M393 178h1M411 160h1M404 153h1M386 135h1M464 174h1M422 178h1M463 161h1M434 156h1M403 147h1M449 160h1M436 125h1M463 171h1M439 149h1M420 167h1M433 179h1M420 136h1M404 155h1M417 146h1M444 146h1M405 173h1M443 173h1M449 168h1M427 167h1M417 154h1M439 163h1M414 172h1M439 172h1M436 155h1M423 166h1M415 151h1M406 140h1M421 179h1M402 161h1M422 160h1M427 150h1M417 162h1M433 153h1M443 170h1M399 178h1M423 153h1M407 148h1M411 159h1M419 162h1M444 154h1M446 140h1M412 164h1M423 161h1M420 159h1M419 151h1M455 160h1M441 157h1M389 148h1M432 161h1M437 157h1M402 165h1M452 157h1M440 166h1M455 138h1M399 160h1M418 137h1M409 180h1M410 159h1M411 167h1M398 156h1M425 163h1M394 163h1M443 155h1M438 138h1M380 148h1M408 164h1M429 169h1M473 154h1M417 149h1M451 158h1M465 151h1M426 166h1M401 131h1M400 142h1M390 172h1M427 162h1M427 180h1M410 145h1M452 177h1M412 163h1M427 180h1M442 178h1M441 146h1M435 150h1M435 153h1M430 179h1M447 169h1M444 144h1M406 136h1M434 167h1M425 164h1M419 154h1M452 164h1M427 136h1M430 162h1M446 165h1M406 166h1M414 151h1M419 163h1M405 154h1M429 127h1M406 126h1M430 172h1M425 145h1M425 170h1M434 148h1M418 167h1M438 179h1M418 180h1M425 157h1M423 180h1M439 166h1M429 115h1M408 125h1M461 168h1M448 178h1M427 156h1M437 159h1M408 150h1M440 149h1M414 176h1M438 157h1M427 151h1M404 168h1M433 151h1M423 164h1M416 154h1M423 165h1M441 157h1M429 135h1M416 174h1M416 171h1M421 161h1M394 153h1M409 177h1M415 147h1M387 165h1M460 167h1M422 169h1M451 157h1M420 154h1M424 179h1M423 148h1M392 134h1M403 138h1M434 160h1M417 148h1M430 170h1M429 175h1M399 134h1M402 134h1M406 155h1M391 162h1M401 141h1M424 152h1M445 133h1M449 168h1M436 178h1M412 162h1M405 165h1M454 168h1M429 177h1M409 175h1M404 170h1M466 172h1M437 141h1M429 167h1M427 150h1M420 167h1M442 161h1M437 162h1M452 169h1M391 164h1M437 156h1M429 180h1M441 162h1M435 168h1M387 157h1M424 153h1M453 150h1M438 162h1M407 161h1M390 170h1M447 155h1M426 178h1M433 174h1M408 127h1M444 140h1M420 154h1M420 162h1M401 167h1M427 165h1M431 156h1M406 180h1M414 142h1M433 153h1M400 150h1M431 162h1M441 165h1M424 160h1M398 166h1M422 159h1M445 177h1M425 152h1M399 152h1M439 167h1M431 165h1M451 166h1M452 160h1M438 141h1M420 164h1M385 149h1M386 170h1M421 164h1M412 161h1M423 153h1M405 173h1M405 159h1M443 140h1M429 173h1M425 179h1M455 173h1M410 165h1M432 149h1M406 156h1M416 170h1M425 172h1M420 162h1M410 174h1M418 178h1M442 161h1M408 169h1M399 168h1M453 169h1M398 178h1M418 152h1M399 145h1M406 154h1M443 152h1M437 151h1M417 170h1M452 172h1M414 148h1M444 129h1M431 133h1M443 158h1M424 158h1M431 144h1M422 160h1M376 172h1M466 160h1M434 167h1M425 132h1M422 166h1M411 151h1M412 161h1M424 138h1M441 149h1M429 147h1M427 145h1M439 161h1M410 156h1M443 158h1M416 175h1M435 166h1M412 165h1M441 168h1M402 162h1M458 175h1M415 167h1M415 155h1M409 156h1M404 169h1M418 149h1M395 160h1M442 159h1M421 156h1M384 158h1M424 166h1M433 174h1M427 180h1M413 166h1M420 169h1M375 173h1M398 138h1M381 142h1M397 170h1M436 165h1M446 153h1M451 170h1M411 150h1M431 144h1M417 165h1M430 165h1M426 169h1M407 180h1M444 154h1M414 171h1M411 152h1M418 158h1M411 160h1M390 178h1M421 157h1M431 137h1M437 121h1M417 177h1M454 161h1M412 175h1M412 155h1M378 144h1M454 148h1M445 175h1M449 148h1M394 167h1M437 175h1M392 136h1M446 179h1M421 164h1M416 163h1M424 160h1M419 173h1M453 154h1M445 172h1M396 163h1M440 167h1M377 153h1M459 177h1M414 169h1M418 151h1M422 161h1M467 156h1M437 166h1M423 171h1M435 135h1M416 167h1M442 174h1M412 166h1M416 159h1M417 171h1M446 147h1M427 152h1M419 151h1M395 145h1M441 164h1M416 164h1M429 165h1M418 172h1M429 154h1M428 160h1M392 143h1M390 146h1M419 140h1M391 173h1M436 164h1M424 145h1M444 154h1M437 144h1M435 132h1M411 173h1M429 164h1M440 179h1M442 158h1M428 158h1M421 151h1M410 150h1M417 153h1M414 148h1M444 155h1M446 163h1M420 152h1M412 179h1M438 155h1M447 175h1M435 178h1M400 153h1M393 177h1M454 167h1M441 146h1M415 155h1M423 120h1M422 150h1M424 164h1M405 150h1M440 159h1M411 155h1M402 154h1M445 158h1M425 154h1M446 155h1M429 168h1M441 178h1M455 151h1M429 160h1M444 155h1M413 152h1M432 165h1M378 161h1M421 179h1M408 175h1M391 152h1M436 139h1M424 164h1M432 172h1M397 168h1M429 161h1M464 159h1M436 159h1M400 156h1M437 162h1M427 167h1M411 155h1M408 142h1M427 164h1M384 150h1M443 163h1M437 154h1M434 136h1M438 156h1M447 159h1M397 170h1M427 167h1M435 164h1M437 164h1M416 176h1M422 146h1M437 179h1M435 178h1M458 163h1M391 150h1M425 180h1M419 156h1M429 163h1M425 160h1M412 164h1M429 155h1M399 167h1M404 163h1M404 156h1M428 170h1M438 167h1M446 154h1M399 156h1M419 169h1M445 141h1M424 164h1M450 162h1M452 142h1M414 154h1M415 180h1M425 170h1M410 148h1M423 157h1M419 155h1M458 151h1M424 150h1M413 159h1M424 155h1M428 179h1M384 180h1M403 163h1M397 158h1M420 141h1M433 151h1M407 151h1M393 163h1M436 180h1M415 155h1M422 180h1M433 163h1M441 165h1M414 160h1M405 126h1M401 150h1M406 157h1M426 167h1M474 148h1M432 155h1M412 145h1M420 156h1M417 150h1M396 171h1M423 148h1M430 147h1M427 158h1M409 175h1M423 160h1M410 159h1M417 169h1M390 161h1M437 170h1M418 171h1M374 161h1M419 137h1M436 164h1M479 169h1M407 175h1M453 150h1M405 148h1M443 163h1M437 160h1M420 162h1M403 152h1M404 159h1M444 159h1M452 128h1M419 174h1M420 153h1M411 136h1M426 137h1M415 159h1M444 137h1M440 154h1M433 144h1M406 154h1M397 152h1M414 178h1M449 164h1M438 177h1M421 141h1M441 156h1M435 144h1M407 167h1M452 180h1M445 160h1M402 136h1M418 157h1M440 173h1M455 180h1M449 154h1M406 158h1M414 144h1M448 136h1M411 153h1M429 176h1M418 149h1M435 166h1M399 162h1M399 153h1M406 149h1M462 136h1M461 155h1M458 166h1M413 169h1M406 161h1M432 160h1M418 138h1M403 141h1M434 150h1M404 153h1M446 139h1M429 150h1M417 155h1M399 161h1M423 159h1M424 141h1M436 146h1M426 172h1M423 146h1M399 162h1M412 179h1M424 180h1M432 140h1M419 158h1M396 153h1M403 148h1M415 171h1M435 161h1M418 176h1M403 141h1M421 126h1M420 156h1M450 158h1M423 176h1M413 154h1M423 166h1M433 176h1M388 123h1M416 157h1M404 151h1M412 143h1M416 151h1M449 156h1M437 178h1M429 145h1M404 153h1M429 173h1M434 178h1M394 140h1M391 167h1M448 149h1M443 180h1M425 169h1M443 164h1M441 175h1M469 162h1M372 158h1M430 165h1M446 137h1M430 158h1M411 174h1M398 122h1M449 134h1M462 168h1M386 167h1M403 159h1M436 167h1M440 156h1M413 177h1M396 144h1M444 179h1M449 157h1M388 148h1M424 169h1M433 153h1M422 178h1M449 153h1M430 142h1M434 131h1M429 162h1M397 178h1M466 170h1M413 159h1M424 126h1M449 140h1M437 165h1M420 152h1M383 159h1M424 159h1M445 167h1M421 150h1M396 168h1M447 175h1M466 157h1M443 167h1M445 157h1M391 151h1M413 162h1M379 155h1M443 148h1M435 156h1M376 155h1M436 172h1M444 176h1M408 135h1M419 133h1M453 148h1M397 174h1M432 142h1M443 143h1M429 132h1M417 147h1M428 155h1M433 173h1M439 178h1M455 160h1M396 165h1M423 167h1M422 161h1M455 165h1M402 136h1M457 167h1M408 170h1M409 137h1M398 145h1M421 163h1M415 165h1M426 167h1M421 180h1M437 169h1M432 179h1M378 154h1M446 146h1M424 140h1M423 170h1M414 178h1M441 148h1M417 159h1M445 141h1M402 179h1M455 162h1M449 173h1M401 147h1M439 163h1M414 176h1M401 163h1M414 137h1M426 148h1M411 155h1M434 167h1M447 164h1M397 173h1M386 158h1M422 142h1M427 174h1M425 165h1M438 137h1M435 158h1M387 142h1M423 178h1M407 156h1M420 160h1M397 173h1M433 141h1M421 169h1M412 158h1M396 166h1M454 139h1M441 167h1M435 139h1M410 161h1M406 165h1M452 167h1M414 172h1M440 136h1M462 178h1M392 157h1M398 161h1M432 174h1M393 180h1M417 148h1M414 160h1M441 163h1M398 179h1M427 165h1M436 179h1M402 171h1M404 152h1M442 151h1M439 158h1M394 160h1M395 151h1M456 163h1M427 173h1M412 155h1M426 174h1M422 170h1M433 166h1M454 178h1M451 180h1M411 144h1M414 164h1M417 168h1M456 144h1M445 138h1M388 158h1M416 146h1M415 157h1M446 142h1M447 169h1M414 144h1M405 140h1M427 155h1M434 161h1M429 145h1M402 165h1M419 143h1M435 179h1M431 166h1M435 166h1M408 161h1M416 161h1M426 138h1M367 164h1M419 169h1M434 148h1M432 162h1M415 144h1M421 172h1M438 161h1M422 178h1M396 172h1M433 152h1M392 163h1M408 179h1M464 179h1M430 153h1M440 146h1M435 151h1M439 148h1M426 153h1M439 180h1M426 166h1M408 180h1M431 146h1M427 166h1M442 172h1M447 135h1M452 150h1M408 137h1M431 140h1M458 148h1M414 170h1M412 173h1M416 152h1M413 145h1M409 179h1M455 159h1M415 156h1M427 180h1M405 156h1M465 142h1M405 174h1M400 152h1M443 138h1M412 173h1M427 147h1M455 151h1M401 168h1M457 176h1M415 131h1M372 165h1M427 173h1M415 179h1M398 159h1M471 148h1M416 166h1M389 138h1M423 179h1M444 153h1M440 140h1M420 164h1M416 176h1M419 168h1M401 143h1M432 179h1M431 166h1M451 160h1M405 158h1M456 175h1M447 166h1M442 160h1M420 163h1M438 163h1M418 161h1M444 159h1M424 162h1M410 180h1M420 145h1M406 135h1M438 148h1M420 165h1M409 154h1M471 160h1M425 169h1M449 164h1M413 166h1M433 171h1M414 167h1M438 153h1M431 153h1M469 158h1M382 144h1M426 154h1M455 145h1M389 150h1M442 135h1M426 140h1M432 177h1M413 138h1M416 164h1M389 167h1M415 173h1M419 154h1M410 163h1M454 157h1M427 162h1M448 164h1M432 171h1M405 159h1M421 152h1M421 149h1M416 144h1M442 159h1M437 168h1M418 154h1M434 166h1M408 176h1M415 149h1M449 175h1M446 162h1M442 146h1M455 147h1M426 163h1M420 158h1M430 168h1M444 133h1M452 175h1M425 175h1M424 143h1M447 150h1M436 179h1M429 170h1M411 157h1M422 155h1M428 160h1M429 170h1M426 155h1M445 166h1M428 151h1M421 131h1M419 161h1M432 152h1M435 176h1M436 163h1M435 169h1M415 141h1M449 170h1M404 135h1M385 172h1M438 162h1M438 173h1M410 180h1M416 176h1M443 146h1M443 144h1M414 163h1M413 163h1M435 164h1M450 146h1M466 143h1M427 160h1M433 180h1M408 146h1M421 165h1M378 166h1M388 155h1M447 121h1M431 167h1M411 131h1M445 157h1M421 138h1M415 148h1M409 172h1M421 130h1M454 140h1M416 149h1M463 146h1M437 159h1M447 156h1M425 161h1M401 159h1M443 159h1M404 178h1M446 145h1M442 162h1M423 157h1M409 169h1M411 119h1M437 147h1M408 164h1M370 158h1M398 176h1M444 136h1M433 179h1M407 165h1M417 154h1M418 148h1M470 145h1M402 150h1M406 160h1M424 146h1M432 164h1M415 152h1M440 167h1M425 147h1M413 161h1M413 148h1M421 175h1M423 158h1M432 163h1M448 178h1M420 162h1M440 149h1M440 157h1M414 153h1M383 169h1M426 179h1M430 180h1M449 158h1M385 160h1M436 175h1M421 170h1M432 126h1M447 147h1M431 153h1M436 150h1M431 160h1M403 166h1M430 143h1M417 171h1M432 159h1M391 169h1M439 179h1M429 153h1M422 133h1M418 153h1M444 159h1M431 153h1M439 156h1M434 145h1M416 167h1M431 180h1M441 170h1M416 146h1M434 160h1M428 166h1M449 145h1M425 158h1M423 148h1M412 180h1M414 172h1M433 162h1M447 131h1M394 169h1M415 143h1M431 173h1M435 177h1M410 177h1M407 160h1M421 147h1M435 164h1M434 165h1M416 115h1M432 149h1M419 169h1M419 154h1M441 178h1M425 161h1M438 167h1M435 167h1M417 167h1M414 178h1M429 155h1M424 146h1M453 140h1M432 162h1M427 142h1M405 144h1M418 163h1M437 155h1M399 157h1M400 178h1M436 165h1M434 152h1M415 159h1M424 144h1M416 161h1M423 167h1M443 180h1M440 166h1M467 161h1M453 164h1M433 163h1M422 154h1M445 133h1M432 152h1M431 166h1M440 168h1M426 162h1M414 157h1M436 152h1M419 155h1M413 141h1M437 179h1M408 155h1M401 161h1M462 166h1M440 146h1M421 144h1M431 150h1M426 159h1M413 170h1M413 150h1M403 152h1M434 147h1M450 162h1M453 162h1M429 171h1M454 177h1M429 166h1M447 156h1M454 152h1M419 163h1M430 157h1M423 165h1M415 171h1M430 151h1M448 168h1M453 161h1M417 139h1M427 172h1M462 158h1M417 150h1M425 168h1M465 173h1M423 145h1M442 157h1M426 141h1M398 155h1M438 162h1M394 162h1M399 159h1M451 180h1M440 171h1M424 164h1M445 163h1M450 159h1M434 151h1M403 147h1M407 157h1M447 168h1M425 151h1M449 132h1M409 168h1M438 156h1M392 170h1M439 163h1M433 144h1M448 145h1M390 153h1M403 129h1M413 180h1M435 152h1M457 154h1M448 141h1M401 161h1M417 170h1M452 178h1M439 153h1M401 178h1M438 165h1M438 140h1M442 176h1M427 152h1M434 168h1M445 166h1M433 156h1M447 155h1M443 170h1M440 150h1M420 147h1M440 177h1M444 158h1M416 180h1M410 140h1M435 159h1M439 160h1M412 147h1M434 179h1M465 159h1M390 135h1M434 168h1M431 139h1M428 162h1M425 166h1M435 180h1M424 153h1M418 161h1M441 152h1M463 151h1M424 169h1M441 176h1M449 171h1M406 124h1M420 171h1M412 158h1M422 143h1M446 148h1M413 129h1M451 167h1M466 158h1M412 162h1M430 149h1M441 147h1M405 168h1M389 171h1M427 159h1M409 158h1M427 169h1M412 179h1M417 164h1M414 159h1M428 156h1M443 167h1M428 157h1M435 163h1M404 168h1M456 151h1M447 177h1M457 178h1M426 150h1M412 172h1M436 136h1M405 171h1M425 135h1M422 179h1M422 174h1M397 136h1M441 152h1M400 133h1M427 179h1M422 178h1M389 163h1M438 144h1M425 163h1M459 163h1M459 176h1M410 179h1M386 175h1M425 175h1M442 161h1M422 158h1M459 174h1M428 160h1M411 154h1M420 145h1M429 144h1M446 151h1M415 144h1M426 142h1M438 157h1M419 144h1M427 161h1M442 161h1M435 163h1M440 141h1M415 169h1M398 143h1M408 152h1M417 164h1M434 148h1M417 180h1M410 165h1M417 163h1M431 177h1M417 131h1M446 176h1M436 146h1M431 148h1M413 131h1M457 174h1M432 159h1M443 138h1M435 158h1M417 176h1M418 147h1M418 163h1M440 146h1M434 157h1M394 180h1M436 160h1M395 151h1M414 177h1M449 135h1M425 160h1M420 171h1M374 137h1M437 168h1M419 180h1M423 180h1M400 146h1M406 168h1M423 152h1M387 153h1M438 179h1M437 162h1M404 160h1M407 160h1M426 144h1M424 141h1M408 156h1M422 163h1M404 159h1M394 179h1M439 170h1M432 153h1M399 157h1M424 179h1M427 180h1M453 170h1M449 144h1M452 149h1M418 155h1M445 166h1M411 164h1M405 169h1M466 132h1M407 161h1M450 174h1M415 167h1M412 160h1M460 155h1M387 155h1M425 145h1M433 159h1M409 177h1M404 160h1M406 180h1M465 155h1M388 153h1M402 176h1M417 144h1M398 154h1M438 140h1M406 160h1M415 146h1M421 149h1M407 149h1M430 151h1M396 170h1M421 177h1M439 178h1M442 164h1M398 176h1M394 147h1M462 163h1M441 156h1M385 162h1M441 165h1M429 155h1M433 153h1M453 150h1M421 153h1M436 166h1M415 138h1M453 180h1M436 174h1M448 148h1M433 175h1M399 167h1M423 146h1M422 148h1M429 165h1M407 149h1M412 162h1M412 154h1M400 180h1M428 142h1M410 180h1M449 150h1M413 163h1M389 180h1M425 145h1M446 142h1M446 144h1M408 129h1M415 151h1M417 178h1M432 150h1M413 155h1M371 171h1M443 168h1M434 130h1M401 166h1M419 178h1M413 180h1M404 136h1M426 164h1M400 177h1M420 172h1M435 151h1M439 164h1M458 165h1M425 153h1M433 162h1M434 162h1M411 150h1M386 155h1M404 151h1M388 180h1M424 164h1M452 174h1M436 165h1M467 174h1M430 153h1M473 164h1M460 143h1M438 164h1M459 163h1M415 136h1M401 134h1M433 145h1M454 167h1M438 149h1M439 153h1M426 130h1M413 179h1M437 155h1M439 141h1M416 138h1M450 175h1M458 157h1M386 163h1M432 164h1M399 157h1M417 168h1M426 178h1M438 152h1M435 160h1M438 169h1M430 165h1M410 179h1M431 164h1M418 154h1M436 171h1M423 138h1M426 161h1M392 164h1M431 178h1M415 151h1M429 157h1M417 159h1M460 141h1M449 157h1M465 155h1M414 153h1M434 163h1M422 178h1M411 153h1M435 170h1M410 163h1M468 155h1M422 169h1M438 179h1M417 170h1M422 164h1M417 167h1M451 153h1M446 173h1M434 164h1M414 157h1M426 152h1M437 164h1M408 142h1M433 153h1M391 140h1M413 180h1M415 180h1M419 166h1M458 146h1M397 158h1M428 180h1M415 170h1M404 176h1M412 180h1M397 178h1M430 175h1M432 166h1M401 156h1M428 161h1M423 171h1M372 176h1M420 166h1M410 161h1M405 169h1M401 178h1M382 169h1M402 140h1M380 162h1M435 165h1M404 176h1M438 147h1M416 152h1M427 146h1M411 180h1M415 164h1M425 172h1M416 173h1M433 159h1M400 135h1M408 180h1M396 135h1M453 164h1M452 168h1M424 157h1M430 165h1M416 163h1M419 164h1M461 167h1M430 136h1M423 137h1M416 176h1M431 143h1M435 164h1M413 178h1M420 165h1M437 144h1M426 162h1M415 159h1M428 158h1M425 167h1M420 151h1M415 165h1M431 178h1M414 155h1M402 168h1M408 179h1M422 168h1M409 154h1M400 130h1M442 141h1M396 166h1M408 158h1M443 161h1M410 179h1M415 169h1M395 154h1M423 179h1M388 179h1M438 162h1M414 168h1M434 165h1M414 159h1M398 147h1M409 178h1M449 174h1M427 149h1M420 166h1M446 151h1M391 145h1M416 168h1M441 160h1M406 160h1M431 164h1M416 168h1M450 169h1M435 150h1M428 162h1M418 170h1M412 143h1M397 164h1M405 143h1M385 160h1M419 171h1M430 164h1M463 160h1M430 161h1M453 147h1M404 176h1M411 145h1M431 134h1M410 154h1M440 148h1M440 166h1M421 155h1M415 145h1M419 145h1M408 143h1M455 137h1M424 159h1M453 179h1M406 147h1M460 147h1M415 156h1M422 156h1M435 158h1M445 178h1M452 158h1M426 159h1M405 159h1M453 144h1M421 145h1M402 128h1M400 150h1M416 148h1M382 158h1M418 173h1M414 129h1M452 170h1M439 179h1M420 158h1M379 161h1M402 178h1M415 170h1M436 166h1M391 148h1M417 152h1M395 170h1M450 173h1M415 161h1M405 179h1M426 180h1M409 134h1M414 156h1M424 153h1M412 165h1M412 178h1M454 148h1M424 149h1M411 170h1M453 147h1M433 155h1M449 176h1M412 180h1M421 178h1M433 176h1M437 157h1M416 159h1M461 178h1M403 154h1M435 170h1M419 152h1M419 174h1M421 171h1M468 142h1M411 154h1M389 153h1M445 172h1M430 156h1M432 130h1M438 159h1M460 163h1M410 143h1M418 178h1M439 176h1M419 140h1M428 161h1M400 125h1M413 147h1M439 142h1M362 157h1M431 162h1M377 163h1M469 152h1M447 152h1M454 166h1M455 152h1M407 180h1M425 158h1M407 158h1M434 169h1M419 155h1M434 174h1M414 172h1M427 164h1M408 143h1M414 158h1M409 156h1M419 164h1M433 163h1M445 157h1M407 159h1M439 158h1M408 148h1M452 157h1M423 150h1M408 160h1M421 141h1M439 180h1M424 175h1M433 164h1M423 152h1M466 167h1M444 155h1M430 174h1M432 161h1M468 159h1M431 131h1M429 148h1M406 163h1M443 143h1M413 157h1M421 172h1M467 180h1M408 152h1M444 117h1M416 160h1M396 168h1M412 137h1M412 177h1M421 158h1M417 180h1M416 159h1M420 162h1M445 145h1M439 170h1M409 163h1M425 150h1M415 168h1M445 153h1M396 180h1M434 167h1M437 160h1M417 157h1M415 179h1M430 161h1M395 166h1M410 145h1M397 170h1M432 161h1M404 149h1M417 146h1M384 174h1M412 160h1M443 168h1M431 170h1M449 178h1M370 179h1M371 153h1M457 156h1M432 131h1M398 160h1M440 164h1M433 137h1M432 159h1M434 160h1M441 158h1M436 161h1M430 143h1M434 159h1M429 180h1M426 158h1M425 152h1M419 155h1M428 180h1M438 140h1M422 179h1M422 151h1M457 167h1M459 170h1M427 147h1M411 155h1M452 170h1M395 158h1M454 137h1M449 166h1M415 143h1M422 166h1M404 159h1M428 138h1M403 171h1M397 161h1M428 175h1M412 161h1M422 150h1M418 132h1M409 158h1M428 143h1M406 152h1M433 128h1M413 132h1M446 159h1M414 163h1M436 179h1M440 177h1M422 144h1M400 171h1M437 156h1M399 133h1M431 167h1M395 148h1M415 143h1M421 144h1M412 158h1M427 154h1M434 153h1M426 159h1M427 168h1M449 150h1M437 151h1M430 160h1M413 164h1M402 168h1M411 179h1M440 123h1M425 175h1M437 164h1M397 174h1M388 146h1M426 161h1M375 179h1M417 180h1M392 176h1M424 163h1M431 146h1M398 158h1M444 131h1M429 154h1M420 141h1M404 154h1M405 154h1M417 166h1M440 168h1M421 165h1M391 165h1M390 163h1M427 178h1M417 156h1M439 152h1M433 146h1M439 161h1M445 170h1M440 179h1M429 156h1M386 171h1M437 156h1M440 171h1M434 142h1M400 166h1M432 168h1M443 133h1M432 156h1M417 145h1M384 161h1M407 165h1M458 161h1M425 169h1M443 163h1M420 168h1M402 156h1M449 169h1M434 142h1M447 169h1M426 150h1M402 155h1M452 162h1M418 163h1M430 174h1M430 153h1M441 164h1M433 144h1M450 140h1M422 179h1M444 157h1M454 170h1M419 160h1M403 140h1M422 172h1M449 171h1M430 172h1M443 179h1M424 157h1M388 161h1M407 150h1M397 154h1M388 149h1M419 148h1M445 152h1M435 161h1M432 148h1M433 151h1M418 148h1M455 139h1M439 148h1M436 156h1M383 165h1M443 174h1M446 171h1M423 157h1M392 153h1M442 155h1M415 158h1M418 143h1M417 167h1M419 159h1M404 156h1M431 146h1M448 177h1M423 180h1M402 144h1M417 180h1M420 155h1M419 170h1M430 135h1M421 161h1M423 174h1M424 158h1M401 174h1M431 162h1M442 174h1M430 178h1M426 147h1M477 161h1M431 146h1M464 132h1M409 145h1M408 165h1M396 171h1M404 168h1M406 163h1M422 157h1M428 148h1M417 159h1M424 155h1M410 128h1M406 174h1M404 152h1M415 139h1M448 167h1M378 164h1M436 179h1M437 151h1M415 146h1M434 174h1M451 154h1M410 175h1M429 166h1M414 136h1M418 143h1M422 141h1M422 177h1M411 169h1M414 167h1M446 141h1M453 163h1M430 108h1M440 160h1M417 158h1M415 175h1M428 166h1M446 144h1M428 158h1M399 142h1M442 153h1M465 149h1M431 180h1M392 148h1M428 151h1M461 160h1M419 180h1M432 144h1M419 177h1M433 172h1M383 146h1M409 153h1M417 180h1M433 130h1M426 138h1M408 128h1M418 146h1M401 159h1M407 143h1M413 164h1M430 162h1M456 168h1M418 156h1M413 156h1M425 149h1M380 175h1M437 160h1M442 174h1M406 146h1M413 160h1M457 158h1M425 143h1M414 152h1M411 134h1M455 146h1M422 179h1M409 160h1M431 139h1M458 169h1M404 175h1M389 180h1M454 167h1M424 172h1"/><path transform="translate(0 0.5)" stroke="#2a2a2a" stroke-width="1.0" fill="none" d="M430 113h1M371 126h1M404 91h1M425 106h1M399 85h1M376 129h1M410 143h1M407 149h1M369 129h1M394 161h1M373 122h1M414 152h1M382 99h1M420 137h1M377 121h1M433 111h1M429 119h1M401 148h1M383 99h1M418 138h1M391 94h1M386 150h1M379 139h1M409 146h1M392 94h1M378 118h1M414 142h1M425 91h1M426 115h1M382 101h1M429 118h1M427 113h1M427 126h1M386 106h1M371 127h1M378 145h1M416 87h1M383 108h1M424 132h1M426 127h1M410 151h1M402 151h1M378 115h1M372 136h1M383 104h1M391 97h1M431 118h1M415 140h1M432 117h1M384 101h1M396 151h1M425 103h1M383 103h1M381 144h1M421 96h1M426 105h1M413 147h1M385 104h1M382 109h1M381 151h1M383 147h1M417 92h1M407 156h1M424 126h1M377 133h1M390 153h1M383 106h1M419 94h1M387 104h1M426 109h1M425 94h1M408 93h1M412 90h1M370 130h1M406 87h1M376 138h1M427 119h1M420 132h1M418 136h1M427 101h1M427 134h1M376 119h1M385 156h1M393 92h1M375 133h1M414 92h1M404 146h1M385 151h1M376 134h1M403 155h1M415 93h1M391 97h1M423 129h1M420 90h1M386 105h1M422 90h1M379 131h1M418 140h1M413 146h1M430 115h1M404 148h1M389 101h1M372 134h1M428 106h1M380 139h1M379 143h1M394 98h1M415 142h1M430 106h1M373 127h1M405 145h1M395 96h1M427 106h1M377 130h1M383 149h1M400 89h1M379 109h1M428 120h1M429 112h1M392 150h1M410 141h1M402 152h1M414 141h1M417 94h1M365 126h1M378 139h1M409 149h1M428 120h1M396 95h1M384 105h1M427 118h1M382 104h1M405 150h1M407 144h1M415 93h1M380 101h1M426 102h1M388 100h1M387 151h1M413 144h1M377 142h1M377 112h1M426 94h1M376 112h1M369 139h1M409 148h1M372 136h1M412 142h1M378 116h1M372 125h1M422 94h1M414 142h1M387 98h1M429 105h1M423 132h1M383 106h1M402 93h1M399 93h1M400 150h1M388 151h1M384 103h1M415 140h1M379 114h1M377 137h1M411 146h1M429 105h1M409 145h1M389 158h1M426 106h1M374 122h1M422 134h1M422 136h1M393 150h1M383 150h1M416 144h1M372 121h1M397 95h1M392 96h1M382 145h1M395 93h1M429 120h1M382 104h1M389 99h1M398 151h1M425 108h1M380 138h1M376 111h1M428 106h1M391 152h1M377 122h1M426 94h1M397 90h1M387 155h1M432 111h1M418 85h1M391 163h1M408 92h1M398 149h1M378 127h1M432 95h1M373 129h1M387 154h1M405 90h1M429 137h1M418 89h1M412 143h1M419 142h1M428 102h1M402 149h1M384 150h1M379 107h1M428 121h1M417 94h1M424 134h1M425 103h1M412 88h1M413 89h1M386 99h1M379 106h1M388 153h1M384 102h1M381 103h1M422 131h1M389 159h1M378 124h1M375 128h1M426 109h1M410 141h1M420 145h1M424 132h1M378 119h1M386 149h1M430 116h1M387 150h1M391 152h1M377 142h1M375 126h1M420 145h1M400 92h1M426 106h1M384 97h1M420 139h1M413 92h1M386 103h1M380 108h1M386 146h1M430 115h1M381 148h1M391 97h1M377 141h1M417 138h1M406 93h1M428 98h1M385 92h1M398 91h1M382 104h1M379 121h1M424 89h1M428 105h1M371 143h1"/><path transform="translate(0 0.5)" stroke="#22e022" stroke-width="1.0" fill="none" d="M423 110h1M419 97h1M384 146h1M401 154h1M418 89h1M382 123h1M431 104h1M386 112h1M424 119h1M404 144h1M429 115h1M391 148h1M376 125h1M418 96h1M406 143h1M422 127h1M405 144h1M403 144h1M404 88h1M382 148h1M413 142h1M372 124h1M404 145h1M423 110h1M409 139h1M415 131h1M403 95h1M381 113h1M382 119h1M423 98h1M390 101h1M384 112h1M401 144h1M413 139h1M421 98h1M422 102h1M420 125h1M415 142h1M377 135h1M424 104h1M408 95h1M417 92h1M392 102h1M426 110h1M419 103h1M425 104h1M415 91h1M393 153h1M395 151h1M381 109h1M415 92h1M389 149h1M410 94h1M404 99h1M396 147h1M383 108h1M388 111h1M397 93h1M398 94h1M416 97h1M377 122h1M412 94h1M424 94h1M383 112h1M414 90h1M408 96h1M392 103h1M390 143h1M422 130h1M422 110h1M378 112h1M421 119h1M402 149h1M379 115h1M413 135h1M387 147h1M373 131h1M403 144h1M414 90h1M397 94h1M426 117h1M420 110h1M402 96h1M411 141h1M409 145h1M387 145h1M419 102h1M420 104h1M425 120h1M422 124h1M411 91h1M394 97h1M388 147h1M383 123h1M424 124h1M422 97h1M388 148h1M427 111h1M386 108h1M420 94h1M426 125h1M421 131h1M419 96h1M401 97h1M382 115h1M390 105h1M402 92h1M389 149h1M398 145h1M380 134h1M405 90h1M393 94h1M427 128h1M387 109h1M417 92h1M422 120h1M409 88h1M428 131h1M415 132h1M412 140h1M390 106h1M425 107h1M412 95h1M382 133h1M408 91h1M425 108h1M415 140h1M420 133h1M382 122h1M390 104h1M386 101h1M422 134h1M381 117h1M407 150h1M377 122h1M387 98h1M384 106h1M399 92h1M382 137h1M411 140h1M393 146h1M401 148h1M382 126h1M379 118h1M383 140h1M422 118h1M399 97h1M413 94h1M418 98h1M423 135h1M422 107h1M406 90h1M426 129h1M395 95h1M393 100h1M384 112h1M408 138h1M415 132h1M422 108h1M412 137h1M425 120h1M376 127h1M419 129h1M427 116h1M418 130h1M413 87h1M376 122h1M424 135h1M391 151h1M381 124h1M387 142h1M425 109h1M417 130h1M426 122h1M384 105h1M400 98h1M394 95h1M394 98h1M426 116h1M395 152h1M392 148h1M422 98h1M416 97h1M401 148h1M385 142h1M428 117h1M428 118h1M416 133h1M415 94h1M407 142h1M375 126h1M426 120h1M425 102h1M395 91h1M385 107h1M385 146h1M407 93h1M379 115h1M396 100h1M380 107h1M422 106h1M383 122h1M391 98h1M411 144h1M418 94h1M395 100h1M419 119h1M377 122h1M384 113h1M405 93h1M424 115h1M427 111h1M380 128h1M407 144h1M380 129h1M423 125h1M395 148h1M422 93h1M401 101h1M408 91h1M404 142h1M420 98h1M402 92h1M393 146h1M428 114h1M412 137h1M406 147h1M380 142h1M425 98h1M382 113h1M378 123h1M414 135h1M380 117h1M382 114h1M415 91h1M428 134h1M428 118h1M382 133h1M386 147h1M405 94h1M421 110h1M406 140h1M402 93h1M421 116h1M376 111h1M383 129h1M414 137h1M403 90h1M378 119h1M427 108h1M402 140h1M401 96h1M385 139h1M388 146h1M390 101h1M392 147h1M378 117h1M409 96h1M379 135h1M422 101h1M393 102h1M404 97h1M423 111h1M377 138h1M394 147h1M407 92h1M408 99h1M407 92h1M423 120h1M405 95h1M400 94h1M407 94h1M378 133h1M418 95h1M379 131h1M406 139h1M383 139h1M400 97h1M386 113h1M382 142h1M424 100h1M421 124h1M407 142h1M391 100h1M423 107h1M413 92h1M419 94h1M417 98h1M417 137h1M382 105h1M398 99h1M423 131h1M388 112h1M385 128h1M411 93h1M419 129h1M406 92h1M410 146h1M380 128h1M423 104h1M420 94h1M389 100h1M426 118h1M404 97h1M387 148h1M404 94h1M421 115h1M386 108h1M427 107h1M415 134h1M410 135h1M394 97h1M378 137h1M381 118h1M423 101h1M399 149h1M422 105h1M412 139h1M387 100h1M424 130h1M392 150h1M381 133h1M404 152h1M405 99h1M407 142h1M387 145h1M406 96h1M411 139h1M393 100h1M386 100h1M396 154h1M427 127h1M387 103h1M407 95h1M404 143h1M383 149h1M426 120h1M384 128h1M384 112h1M383 131h1M405 144h1M427 110h1M423 95h1M424 120h1M381 116h1M422 129h1M421 117h1M386 143h1M423 126h1M422 97h1M385 147h1M380 135h1M395 151h1M404 139h1M381 114h1M379 126h1M429 122h1M381 130h1M390 98h1M389 103h1M402 95h1M401 148h1M427 106h1M421 107h1M384 131h1M381 146h1M427 121h1M378 138h1M382 137h1M413 90h1M409 98h1M385 132h1M390 111h1M426 127h1M421 97h1M379 136h1M423 116h1M414 96h1M421 96h1M383 118h1M387 106h1M424 121h1M389 97h1M379 112h1M382 142h1M383 143h1M405 138h1M426 102h1M414 138h1M424 129h1M384 142h1M422 129h1M382 108h1M398 148h1M422 102h1M417 94h1M424 122h1M423 104h1M384 117h1M377 136h1M409 135h1M428 108h1M420 132h1M425 120h1M416 95h1M380 127h1M389 106h1M385 143h1M401 97h1M392 151h1M388 141h1M381 128h1M415 95h1M416 141h1M377 125h1M422 97h1M410 144h1M423 114h1M422 105h1M394 152h1M413 94h1M421 135h1M410 87h1M425 110h1M427 104h1M418 133h1M424 105h1M405 145h1M376 137h1M379 117h1M429 113h1M384 110h1M396 99h1M394 100h1M386 148h1M400 147h1M382 119h1M425 124h1M398 97h1M411 143h1M419 98h1M408 147h1M383 147h1M428 116h1M396 95h1M429 105h1M378 126h1M405 95h1M390 144h1M400 93h1M385 149h1M407 92h1M381 113h1M392 98h1M405 146h1M422 111h1M426 131h1M392 150h1M422 99h1M379 135h1M405 149h1M385 110h1M400 148h1M400 97h1M392 147h1M418 128h1M401 149h1M390 104h1M414 139h1M429 124h1M390 101h1M404 145h1M409 139h1M388 103h1M421 124h1M421 113h1M422 102h1M392 100h1M381 119h1M380 117h1M381 124h1M381 124h1M426 121h1M409 91h1M427 124h1M427 115h1M405 144h1M398 140h1M418 134h1M427 105h1M416 130h1M420 117h1M420 132h1M396 148h1M388 146h1M423 132h1M423 128h1M402 96h1M380 127h1M381 123h1M401 93h1M425 112h1M384 103h1M405 138h1M426 121h1M379 131h1M424 105h1M381 109h1M399 99h1M401 146h1M397 97h1M407 92h1M379 128h1M381 139h1M391 145h1M397 98h1M423 126h1M410 92h1M394 145h1M378 119h1M378 115h1M387 102h1M425 106h1M415 138h1M424 104h1M388 142h1M421 100h1M380 117h1M418 97h1M377 131h1M384 147h1M388 143h1M392 98h1M387 98h1M399 98h1M380 139h1M405 91h1M383 117h1M391 100h1M377 119h1M383 139h1M377 128h1M393 98h1M426 128h1M423 119h1M387 102h1M374 129h1M421 121h1M385 104h1M383 102h1M426 124h1M424 130h1M381 110h1M381 126h1M409 136h1M389 106h1M425 112h1M397 151h1M392 148h1M406 91h1M428 110h1M415 135h1M381 115h1M394 106h1M424 125h1M400 95h1M420 90h1M423 106h1M426 130h1M399 93h1M392 151h1M425 98h1M393 96h1M416 93h1M385 103h1M389 111h1M411 93h1M397 150h1M410 89h1M427 116h1M424 111h1M423 121h1M382 117h1M389 99h1M417 132h1M424 101h1M420 105h1M417 132h1M389 146h1M375 123h1M404 94h1M419 131h1M384 143h1M410 149h1M398 148h1M381 107h1M381 130h1M419 132h1M421 100h1M418 131h1"/><path d="M398.0 97.0 L398.9 96.6 L399.9 96.1 L400.9 95.7 L401.9 95.3 L402.9 94.9 L404.0 94.6 L405.0 94.2 L406.0 94.0 L407.0 93.8 L408.0 93.6 L409.1 93.5 L410.1 93.4 L411.1 93.4 L412.1 93.4 L413.1 93.4 L414.0 93.5 L414.9 93.6 L415.7 93.8 L416.5 94.1 L417.2 94.3 L417.9 94.7 L418.7 95.1 L419.3 95.5 L420.0 96.0 L420.7 96.6 L421.3 97.2 L422.0 97.9 L422.6 98.7 L423.1 99.4 L423.7 100.3 L424.1 101.1 L424.5 102.0 L424.8 102.9 L425.0 103.8 L425.2 104.8 L425.3 105.8 L425.4 106.8 L425.4 107.8 L425.4 108.9 L425.5 110.0 L425.6 111.2 L425.6 112.4 L425.6 113.7 L425.7 115.0 L425.7 116.3 L425.6 117.6 L425.6 118.8 L425.5 120.0 L425.4 121.1 L425.3 122.2 L425.2 123.2 L425.1 124.2 L424.9 125.2 L424.7 126.2 L424.4 127.1 L424.0 128.0 L423.6 128.8 L423.0 129.6 L422.5 130.4 L421.8 131.1 L421.2 131.8 L420.5 132.5 L419.7 133.3 L419.0 134.0 L418.2 134.8 L417.4 135.5 L416.6 136.2 L415.7 137.0 L414.8 137.8 L413.9 138.5 L412.9 139.2 L412.0 140.0 L411.0 140.8 L410.1 141.5 L409.1 142.3 L408.1 143.1 L407.0 143.9 L406.0 144.6 L405.0 145.3 L404.0 146.0 L403.0 146.7 L402.0 147.4 L401.0 148.1 L399.9 148.7 L398.9 149.3 L397.9 149.8 L397.0 150.2 L396.0 150.5 L395.1 150.6 L394.1 150.6 L393.2 150.5 L392.3 150.3 L391.4 150.1 L390.6 149.8 L389.8 149.4 L389.0 149.0 L388.3 148.6 L387.6 148.0 L386.9 147.5 L386.3 146.8 L385.7 146.2 L385.1 145.5 L384.5 144.7 L384.0 144.0 L383.5 143.2 L383.0 142.4 L382.5 141.6 L382.0 140.8 L381.6 139.9 L381.2 138.9 L380.8 138.0 L380.5 137.0 L380.2 136.0 L379.9 134.9 L379.7 133.8 L379.5 132.6 L379.3 131.5 L379.2 130.3 L379.1 129.1 L379.0 128.0 L379.0 126.9 L379.0 125.7 L379.1 124.5 L379.2 123.4 L379.4 122.2 L379.6 121.1 L379.8 120.0 L380.0 119.0 L380.2 118.0 L380.5 117.1 L380.8 116.2 L381.1 115.3 L381.4 114.5 L381.7 113.6 L382.1 112.8 L382.5 112.0 L382.9 111.2 L383.4 110.4 L383.8 109.6 L384.3 108.9 L384.9 108.1 L385.4 107.4 L385.9 106.7 L386.5 106.0 L387.1 105.3 L387.6 104.7 L388.2 104.0 L388.8 103.4 L389.5 102.8 L390.1 102.2 L390.8 101.6 L391.5 101.0 L392.2 100.4 L393.0 99.9 L393.8 99.4 L394.6 98.9 L395.4 98.4 L396.2 97.9 L397.1 97.4Z" fill="#12f012" filter="url(#bl0)"/><path transform="translate(0 0.5)" stroke="#049a04" stroke-width="1.0" stroke-opacity="0.35" fill="none" d="M424 106h1M415 119h1M399 125h1M393 134h1M405 123h1M399 116h1M405 136h1M420 105h1M405 140h1M390 102h1M411 112h1M393 115h1M410 121h1M411 118h1M388 114h1M395 129h1M386 111h1M417 111h1M396 144h1M400 131h1M402 113h1M387 129h1M415 109h1M415 129h1M408 101h1M396 99h1M396 141h1M404 142h1M392 101h1M415 130h1M382 128h1M385 115h1M399 116h1M420 123h1M415 97h1M393 135h1M390 110h1M417 113h1M421 127h1M397 119h1M395 127h1M406 133h1M417 96h1M420 126h1M384 134h1M399 138h1M419 121h1M398 104h1M385 114h1M406 117h1M383 140h1M391 126h1M390 144h1M403 112h1M409 118h1M391 137h1M417 106h1M407 132h1M409 93h1M395 144h1M389 134h1M387 135h1M394 141h1M412 125h1M393 126h1M417 112h1M404 142h1M385 113h1M418 106h1M408 118h1M406 120h1M420 122h1M410 113h1M417 110h1M411 114h1M395 134h1M381 133h1M409 130h1M413 116h1M408 105h1M416 112h1M394 145h1M395 127h1M388 105h1M409 132h1M419 96h1M379 132h1M394 102h1M387 137h1M417 104h1M400 133h1M386 117h1M406 100h1M405 102h1M403 109h1M413 135h1M418 105h1M410 131h1M414 114h1M405 143h1M408 128h1M424 104h1M395 115h1M425 119h1M386 110h1M406 119h1M390 115h1M409 108h1M423 104h1M399 142h1M420 102h1M398 149h1M387 138h1M407 110h1M394 114h1M385 129h1M415 115h1M390 140h1M408 97h1M406 120h1M393 130h1M396 139h1M397 114h1M400 111h1M419 129h1M396 134h1M413 117h1M390 147h1M419 127h1M417 97h1M411 102h1M410 117h1M408 93h1M418 103h1M416 117h1M405 143h1M402 130h1M400 122h1M384 142h1M395 115h1M384 137h1M406 107h1M399 136h1M409 134h1M416 107h1M413 119h1M390 139h1M399 131h1M421 130h1M408 133h1M394 140h1M414 103h1M403 123h1M417 123h1M393 134h1M406 141h1M406 98h1M414 121h1M417 122h1M397 98h1M384 118h1M413 116h1M405 123h1M415 110h1M402 132h1M411 134h1M413 118h1M406 103h1M404 109h1M397 100h1M406 114h1M394 127h1M417 110h1M423 109h1M397 137h1M387 104h1M384 110h1M393 115h1M383 131h1M393 139h1M395 113h1M407 103h1M417 123h1M405 99h1M405 95h1M392 145h1M423 116h1M419 109h1M389 136h1M420 107h1M396 105h1M390 110h1M407 102h1M410 100h1M384 124h1M421 114h1M386 107h1M396 127h1M391 113h1M397 104h1M387 133h1M411 121h1M390 128h1M402 100h1M422 102h1M398 141h1M414 115h1M386 119h1M383 143h1M416 127h1M389 122h1M410 130h1M404 124h1M384 116h1M414 120h1M387 111h1M397 146h1M412 95h1M390 104h1M390 132h1M405 105h1M419 122h1M408 111h1M406 125h1M405 114h1M388 147h1M403 145h1M409 118h1M422 124h1M408 96h1M396 117h1M398 110h1M417 104h1M402 129h1M380 121h1M395 117h1M407 127h1M416 100h1M396 117h1M387 140h1M404 136h1M410 131h1M424 118h1M421 114h1M400 111h1M409 117h1M399 110h1M391 102h1M419 119h1M397 111h1M403 129h1M385 141h1M400 126h1M415 125h1M405 114h1M399 101h1M405 121h1M381 132h1M408 114h1M414 137h1M407 105h1M382 137h1M408 133h1M393 108h1M424 106h1M404 132h1M406 126h1M401 117h1M381 131h1M398 119h1M385 120h1M383 119h1M415 127h1M421 129h1M411 102h1M414 126h1M398 121h1M424 111h1M422 130h1M399 115h1M387 145h1M415 115h1M412 125h1M387 142h1M401 116h1M390 132h1M384 125h1M411 123h1M393 113h1M407 113h1M397 107h1M389 130h1M403 111h1M412 126h1M396 124h1M397 111h1M385 114h1M392 133h1M391 124h1M396 101h1M401 126h1M422 122h1M390 137h1M397 105h1M394 111h1M410 114h1M390 111h1M423 119h1M413 133h1M415 124h1M424 101h1M408 112h1M408 100h1M384 120h1M422 106h1M395 124h1M393 121h1M380 128h1M415 106h1M398 98h1M420 125h1M395 114h1M383 128h1M420 100h1M422 121h1M415 115h1M399 125h1M409 122h1M387 107h1M415 121h1M395 138h1M391 110h1M400 99h1M382 125h1M418 110h1M394 140h1M409 118h1M384 127h1M388 131h1M394 148h1M414 127h1M398 145h1M397 113h1M421 107h1M382 134h1M414 99h1M380 127h1M399 111h1M400 131h1M387 135h1M420 129h1M394 113h1M390 116h1M389 141h1M389 108h1M391 142h1M418 105h1M405 100h1M391 130h1M399 143h1M387 132h1M414 93h1M402 105h1M387 135h1M406 95h1M394 144h1M405 96h1M387 123h1M390 114h1M386 146h1M408 129h1M404 128h1M421 116h1M396 128h1M389 112h1M413 131h1M398 148h1M393 103h1M414 102h1M391 130h1M404 136h1M418 112h1M388 135h1M390 102h1M401 100h1M421 116h1M383 120h1M405 95h1M415 131h1M415 108h1M398 96h1M390 138h1M424 117h1M388 118h1M399 132h1M407 141h1M415 121h1M390 124h1M422 122h1M397 114h1M422 129h1M422 123h1M422 124h1M386 128h1M416 109h1M383 140h1M385 140h1M402 117h1M408 139h1M383 134h1M388 126h1M402 98h1M385 111h1M420 127h1M394 99h1M407 97h1M400 117h1M402 106h1M392 119h1M391 145h1M388 148h1M399 125h1M396 104h1M418 103h1M396 131h1M406 107h1M392 122h1M415 103h1M419 131h1M391 129h1M385 120h1M386 142h1M420 121h1M394 119h1M403 96h1M424 103h1M396 136h1M406 141h1M395 107h1M396 121h1M421 98h1M394 119h1M405 120h1M399 144h1M398 99h1M421 129h1M418 121h1M382 128h1M386 130h1M383 118h1M396 110h1M391 148h1M392 104h1M387 107h1M382 124h1M403 141h1M399 145h1M386 145h1M412 126h1M408 137h1M388 109h1M404 123h1M407 133h1M394 138h1M410 95h1M392 145h1M421 126h1M411 96h1M421 128h1M406 118h1M395 110h1M406 138h1M402 108h1M383 115h1M424 124h1M412 102h1M408 115h1M397 132h1M382 133h1M417 99h1M386 115h1M394 107h1M401 127h1M398 121h1M422 115h1M388 135h1M391 144h1M390 107h1M396 100h1M380 135h1M382 125h1M406 128h1M385 140h1M399 107h1M412 117h1M397 124h1M404 133h1M414 133h1M403 95h1M395 147h1M390 133h1M394 119h1M415 97h1M393 135h1M422 126h1M410 131h1M419 114h1M389 124h1M406 134h1M409 96h1M387 120h1M421 120h1M395 149h1M406 133h1M388 126h1M388 103h1M394 113h1M397 125h1M393 102h1M410 121h1M410 134h1M392 108h1M380 121h1M389 127h1M424 114h1M424 107h1M383 114h1M409 95h1M389 117h1M379 127h1M384 142h1M408 130h1M404 133h1M385 142h1M406 95h1M425 115h1M395 144h1M419 130h1M421 99h1M389 103h1M396 100h1M402 105h1M388 103h1M388 140h1M423 124h1M395 135h1M401 131h1M400 119h1M408 109h1M389 147h1M424 127h1M381 136h1M407 99h1M389 114h1M411 112h1M401 115h1M423 115h1M402 133h1M417 124h1M388 139h1M405 128h1M411 127h1M391 145h1M395 99h1M396 122h1M403 132h1M384 129h1M419 112h1M415 102h1M404 95h1M397 112h1M419 98h1M412 138h1M394 140h1M416 98h1M421 102h1M390 129h1M388 137h1M391 117h1M379 130h1M401 118h1M391 144h1M398 144h1M383 128h1M402 141h1M393 122h1M388 127h1M394 135h1M406 112h1M405 110h1M393 145h1M416 117h1M384 129h1M423 124h1M413 125h1M385 115h1M398 137h1M419 103h1M401 98h1M397 98h1M403 122h1M390 148h1M400 126h1M418 128h1M385 132h1M418 134h1M417 106h1M408 114h1M420 127h1M398 135h1M382 137h1M421 120h1M415 127h1M404 140h1M405 126h1M421 128h1M394 135h1M398 138h1M411 125h1M397 143h1M420 114h1M393 123h1M386 131h1M405 96h1M419 100h1M413 117h1M387 119h1M391 120h1M404 117h1M417 102h1M390 147h1M397 98h1M421 108h1M383 137h1M412 121h1M392 119h1M403 125h1M415 97h1M411 135h1M400 128h1M380 134h1M394 125h1M411 101h1M387 115h1M393 141h1M387 117h1M389 119h1M418 99h1M421 97h1M398 109h1M412 123h1M390 105h1M401 109h1M396 143h1M410 138h1M407 110h1M385 144h1M398 106h1M407 138h1M401 140h1M392 136h1M384 111h1M389 118h1M407 98h1M385 143h1M425 112h1M381 128h1M400 117h1M406 108h1M381 126h1M416 123h1M388 118h1M394 149h1M384 130h1M400 104h1M410 96h1M398 107h1M383 133h1M421 114h1M424 118h1M399 145h1M399 130h1M392 127h1M421 106h1M398 136h1M392 143h1M393 104h1M410 106h1M379 128h1M424 108h1M410 99h1M383 113h1M398 122h1M397 126h1M421 115h1M390 125h1M409 101h1M420 103h1M391 108h1M386 123h1M400 142h1M405 107h1M419 114h1M407 113h1M388 132h1M408 130h1M400 145h1M410 105h1M396 131h1M395 133h1M402 108h1M401 125h1M394 123h1M411 94h1M408 112h1M392 126h1M396 111h1M420 132h1M412 111h1M380 122h1M387 131h1M393 138h1M417 111h1M407 121h1M397 115h1M421 120h1M409 116h1M410 125h1M405 121h1M407 125h1M404 131h1M404 112h1M406 118h1M411 108h1M395 104h1M393 138h1M417 131h1M423 113h1M382 129h1M399 115h1M413 110h1M390 134h1M408 96h1M403 113h1M398 107h1M410 117h1M392 122h1M410 117h1M415 121h1M392 149h1M420 107h1M417 106h1M387 108h1M394 116h1M422 120h1M417 104h1M399 110h1M391 102h1M401 99h1M406 109h1M395 116h1M391 106h1M410 119h1M395 141h1M403 144h1M415 136h1M402 123h1M399 123h1M417 102h1M395 137h1M381 136h1M397 144h1M385 146h1M408 114h1M417 107h1M413 128h1M413 105h1M386 141h1M420 117h1M410 123h1M422 102h1M393 127h1M395 148h1M381 123h1M395 138h1M413 136h1M406 107h1M386 139h1M395 136h1M396 103h1M399 100h1M405 136h1M379 122h1M402 121h1M423 123h1M386 126h1M395 120h1M414 97h1M408 96h1M411 111h1M415 110h1M423 120h1M399 134h1M420 104h1M414 98h1M418 107h1M390 129h1M391 121h1M424 102h1M423 108h1M417 111h1M407 107h1M394 123h1M393 147h1M391 112h1M398 113h1M382 125h1M388 140h1M406 138h1M389 127h1M384 129h1M412 102h1M395 111h1M381 121h1M406 135h1M405 118h1M408 110h1M397 120h1M397 121h1M393 127h1M394 104h1M400 96h1M413 126h1M391 122h1M399 104h1M381 136h1M407 131h1M411 126h1M425 111h1M403 95h1M381 137h1M419 117h1M403 122h1M385 122h1M417 101h1M402 98h1M396 149h1M389 145h1M411 94h1M406 134h1M387 137h1M408 107h1M389 120h1M390 103h1M382 138h1M407 123h1M395 109h1M400 146h1M387 127h1M397 101h1M394 112h1M383 116h1M418 99h1M404 140h1M402 121h1M384 137h1M396 135h1M380 126h1M397 108h1M402 112h1M410 102h1M381 133h1M416 116h1M404 96h1M392 110h1M421 115h1M388 146h1M403 112h1M413 126h1M382 132h1M418 104h1M401 135h1M392 107h1M399 134h1M394 146h1M381 129h1M384 143h1M389 126h1M388 135h1M393 108h1M403 100h1M401 104h1M388 123h1M399 131h1M415 104h1M416 131h1M405 119h1M403 120h1M408 111h1M403 121h1M419 100h1M412 111h1M394 140h1M418 125h1M383 113h1M397 99h1M381 115h1M420 113h1M398 119h1M417 121h1M407 120h1M382 126h1M417 101h1M391 133h1M390 144h1M401 124h1M393 113h1M423 125h1M397 127h1M387 105h1M424 111h1M402 137h1M410 137h1M411 117h1M386 129h1M415 105h1M399 105h1M396 108h1M412 125h1M418 116h1M422 120h1M417 130h1M413 96h1M392 145h1M396 117h1M394 114h1M419 115h1M408 117h1M421 99h1M400 132h1M393 145h1M403 113h1M394 139h1M383 118h1M409 98h1M385 129h1M380 118h1M405 127h1M399 140h1M404 110h1M395 146h1M415 109h1M407 100h1M380 132h1M410 106h1M405 142h1M407 117h1M417 97h1M395 103h1M410 120h1M407 116h1M389 133h1M421 114h1M400 105h1M420 100h1M412 137h1M401 119h1M386 131h1M414 126h1M401 118h1M391 119h1M394 105h1M402 144h1M396 135h1M391 128h1M415 129h1M399 110h1M411 126h1M408 117h1M395 140h1M398 140h1M407 140h1M424 116h1M411 113h1M423 110h1M396 118h1M410 100h1M412 119h1M396 106h1M415 102h1M392 118h1M382 130h1M396 132h1M396 108h1M397 130h1M384 129h1M409 122h1M388 139h1M409 102h1M409 99h1M399 117h1M385 119h1M418 111h1M412 118h1M384 117h1M388 110h1M393 118h1M408 109h1M407 93h1M401 121h1M413 113h1M402 101h1M404 120h1M422 113h1M392 106h1M421 121h1M423 115h1M420 114h1M389 137h1M397 101h1M395 115h1M381 120h1M409 112h1M391 120h1M412 133h1M387 137h1M421 107h1M414 97h1M406 115h1M409 113h1M400 112h1M412 98h1M382 136h1M409 110h1M421 107h1M391 145h1M388 122h1M388 138h1M398 122h1M393 144h1M394 137h1M402 145h1M409 120h1M396 121h1M384 119h1M393 141h1M422 109h1M389 146h1M395 124h1M398 103h1M405 122h1M409 121h1M394 117h1M421 99h1M417 116h1M416 113h1M402 123h1M396 142h1M410 113h1M418 129h1M409 120h1M420 103h1M407 127h1M391 110h1M413 96h1M409 115h1M409 135h1M416 111h1M405 130h1M409 94h1M403 101h1M381 135h1M420 130h1M384 137h1M397 122h1M413 107h1M421 121h1M421 100h1M410 110h1M410 101h1M410 100h1M395 142h1M402 144h1M407 95h1M399 109h1M404 125h1M400 116h1M386 106h1M392 131h1M407 126h1M390 114h1M386 144h1"/></g><path d="M513 10V182" stroke="#858585" stroke-width="2" fill="none"/><path d="M295 10H514" stroke="#858585" stroke-width="2" fill="none"/><path d="M355.6 10V182M295 131.9H513" stroke="#626262" stroke-width="1.8" fill="none"/><path d="M295 9V182" stroke="#6a6a6a" stroke-width="1.3" fill="none"/><path d="M294.3 182H513" stroke="#1a1a1a" stroke-width="1.7" fill="none"/><path d="M295.0 182v2.5M311.4 182v1.5M321.0 182v1.5M327.8 182v1.5M333.1 182v1.5M337.4 182v1.5M341.1 182v1.5M344.2 182v1.5M347.0 182v1.5M349.5 182v2.5M365.9 182v1.5M375.5 182v1.5M382.3 182v1.5M387.6 182v1.5M391.9 182v1.5M395.6 182v1.5M398.7 182v1.5M401.5 182v1.5M404.0 182v2.5M420.4 182v1.5M430.0 182v1.5M436.8 182v1.5M442.1 182v1.5M446.4 182v1.5M450.1 182v1.5M453.2 182v1.5M456.0 182v1.5M458.5 182v2.5M474.9 182v1.5M484.5 182v1.5M491.3 182v1.5M496.6 182v1.5M500.9 182v1.5M504.6 182v1.5M507.7 182v1.5M510.5 182v1.5M513 182v2.5" stroke="#2a2a2a" stroke-width="1.1" fill="none"/><path d="M295.4 182.0h-2.6M295.4 169.1h-2.0M295.4 161.5h-2.0M295.4 156.1h-2.0M295.4 151.9h-2.0M295.4 148.5h-2.0M295.4 145.7h-2.0M295.4 143.2h-2.0M295.4 141.0h-2.0M295.4 139.0h-2.6M295.4 126.1h-2.0M295.4 118.5h-2.0M295.4 113.1h-2.0M295.4 108.9h-2.0M295.4 105.5h-2.0M295.4 102.7h-2.0M295.4 100.2h-2.0M295.4 98.0h-2.0M295.4 96.0h-2.6M295.4 83.1h-2.0M295.4 75.5h-2.0M295.4 70.1h-2.0M295.4 65.9h-2.0M295.4 62.5h-2.0M295.4 59.7h-2.0M295.4 57.2h-2.0M295.4 55.0h-2.0M295.4 53.0h-2.6M295.4 40.1h-2.0M295.4 32.5h-2.0M295.4 27.1h-2.0M295.4 22.9h-2.0M295.4 19.5h-2.0M295.4 16.7h-2.0M295.4 14.2h-2.0M295.4 12.0h-2.0M295.4 10h-2.6" stroke="#2a2a2a" stroke-width="1.1" fill="none"/><text x="296.0" y="192" font-size="6" fill="#2a2a2a" text-anchor="end">10</text><text x="296.2" y="189" font-size="4.5" fill="#2a2a2a">0</text><text x="350.5" y="192" font-size="6" fill="#2a2a2a" text-anchor="end">10</text><text x="350.7" y="189" font-size="4.5" fill="#2a2a2a">1</text><text x="405.0" y="192" font-size="6" fill="#2a2a2a" text-anchor="end">10</text><text x="405.2" y="189" font-size="4.5" fill="#2a2a2a">2</text><text x="459.5" y="192" font-size="6" fill="#2a2a2a" text-anchor="end">10</text><text x="459.7" y="189" font-size="4.5" fill="#2a2a2a">3</text><text x="514.0" y="192" font-size="6" fill="#2a2a2a" text-anchor="end">10</text><text x="514.2" y="189" font-size="4.5" fill="#2a2a2a">4</text><g transform="translate(289.6 182.0) rotate(-90)"><text x="1.6" y="0" font-size="5.8" fill="#222" text-anchor="end">10</text><text x="2.0" y="-2.8" font-size="5" fill="#222">0</text></g><g transform="translate(289.6 139.0) rotate(-90)"><text x="1.6" y="0" font-size="5.8" fill="#222" text-anchor="end">10</text><text x="2.0" y="-2.8" font-size="5" fill="#222">1</text></g><g transform="translate(289.6 96.0) rotate(-90)"><text x="1.6" y="0" font-size="5.8" fill="#222" text-anchor="end">10</text><text x="2.0" y="-2.8" font-size="5" fill="#222">2</text></g><g transform="translate(289.6 53.0) rotate(-90)"><text x="1.6" y="0" font-size="5.8" fill="#222" text-anchor="end">10</text><text x="2.0" y="-2.8" font-size="5" fill="#222">3</text></g><g transform="translate(289.6 10.0) rotate(-90)"><text x="-0.3" y="0" font-size="5.8" fill="#222" text-anchor="end">10</text></g><g filter="url(#soft)"><path transform="translate(0 0.5)" stroke="#555" stroke-width="1.0" fill="none" d="M342 304h1M327 332h1M312 331h1M334 329h1M318 332h1M323 349h1M334 316h1M333 304h1M348 315h1M354 343h1M334 303h1M330 305h1M313 329h1M344 310h1M319 317h1M314 309h1M300 349h1M349 325h1M314 307h1M318 333h1M334 330h1M338 340h1M355 318h1M317 325h1M306 305h1M320 331h1M312 299h1M313 326h1M309 342h1M334 338h1M344 294h1M338 323h1M346 332h1M301 350h1M343 332h1M310 346h1M321 302h1M338 344h1M320 304h1M320 291h1M315 320h1M336 326h1M353 355h1M340 310h1M351 317h1M351 341h1M333 320h1M322 322h1M315 304h1M326 332h1M317 315h1M323 309h1M297 318h1M329 344h1M345 364h1M342 326h1M326 333h1M306 346h1M348 309h1M337 325h1M307 324h1M340 358h1M324 337h1M336 326h1M311 298h1M328 305h1M331 318h1M324 310h1M298 353h1M334 319h1M330 336h1M308 288h1M347 343h1M323 303h1M328 321h1M348 318h1M303 339h1M329 315h1M341 334h1M302 319h1M339 348h1M312 354h1M354 309h1M322 324h1M317 330h1M310 315h1M338 359h1M325 313h1M332 319h1M333 329h1M323 337h1M327 307h1M323 299h1M338 325h1M334 339h1M310 303h1M318 316h1M309 306h1M330 304h1M352 320h1M327 301h1M298 337h1M330 322h1M347 337h1M309 334h1M323 315h1M325 310h1M323 324h1M316 316h1M300 297h1M333 351h1M312 336h1M331 368h1M328 324h1M332 332h1M320 333h1M328 278h1M320 315h1M327 347h1M321 327h1M327 339h1M351 327h1M344 330h1M321 314h1M299 293h1M353 290h1M319 343h1M326 311h1M311 330h1M345 337h1M348 334h1M344 330h1M326 306h1M301 360h1M305 341h1M324 304h1M325 299h1M339 328h1M305 313h1M305 281h1M351 356h1M324 334h1M320 322h1M332 342h1M299 320h1M326 336h1M334 310h1M354 340h1M337 299h1M298 358h1M346 329h1M311 336h1M324 338h1M344 322h1M342 321h1M315 313h1M300 318h1M347 325h1M329 330h1M332 314h1M336 310h1M328 338h1M328 354h1M348 312h1M341 328h1M314 340h1M333 363h1M323 310h1M325 294h1M338 313h1M327 288h1M311 298h1M352 285h1M323 332h1M334 319h1M343 333h1M328 329h1M304 296h1M326 333h1M326 310h1M322 298h1M333 298h1M319 306h1M317 290h1M341 307h1M343 317h1M312 311h1M312 336h1M337 313h1M339 313h1M338 336h1M325 333h1M329 319h1M319 307h1M308 294h1M341 326h1M320 340h1M335 342h1M343 363h1M321 322h1M344 325h1M348 324h1M327 329h1M309 298h1M301 307h1M308 322h1M309 311h1M319 336h1M338 299h1M332 351h1M321 296h1M345 319h1M325 286h1M323 332h1M335 324h1"/><path transform="translate(0 0.5)" stroke="#555" stroke-width="1.0" fill="none" d="M345 335h1M353 309h1M348 324h1M345 353h1M351 344h1M352 308h1M354 366h1M349 295h1M347 317h1M348 285h1M345 340h1M347 331h1M348 324h1M350 324h1M352 329h1M355 344h1M351 349h1M345 337h1M354 364h1M358 295h1M350 326h1M349 338h1M345 329h1M348 371h1M345 333h1M354 306h1M342 331h1M347 355h1M352 369h1M345 337h1M346 352h1M356 340h1M341 331h1M347 291h1M358 350h1M353 310h1M343 350h1M346 346h1M343 336h1M352 368h1M346 338h1M347 363h1M344 318h1M353 331h1M342 353h1M351 304h1M344 351h1M354 329h1M349 352h1M353 305h1M349 349h1M350 342h1M348 336h1M351 312h1M342 331h1M343 366h1M352 365h1M354 318h1"/><path transform="translate(0 0.5)" stroke="#777" stroke-width="1.0" fill="none" d="M398 385h1M408 385h1M395 413h1M386 401h1M375 394h1M399 404h1M398 398h1M373 398h1M394 388h1M375 389h1M404 407h1M357 382h1M392 382h1M383 400h1M387 412h1M357 382h1M374 404h1M400 405h1M389 411h1M398 377h1M356 415h1M365 395h1M394 397h1M394 380h1M403 394h1M362 409h1M360 406h1M372 412h1M397 388h1M384 402h1M387 388h1M404 382h1M368 405h1M356 387h1M403 390h1M380 415h1M387 392h1M390 395h1M407 406h1M363 402h1M395 400h1M364 389h1M374 379h1M411 404h1M372 410h1M400 404h1M359 404h1M397 394h1M356 393h1M369 378h1M368 383h1M367 377h1M371 385h1M370 383h1M394 402h1M366 392h1M377 381h1M363 377h1M359 412h1M372 390h1M386 410h1M406 415h1M374 385h1M406 389h1M366 415h1M399 385h1M391 404h1M408 381h1M389 396h1M397 376h1M373 378h1M404 392h1M375 377h1M410 387h1M400 381h1M362 379h1M376 394h1M378 380h1M410 377h1M357 405h1M384 408h1M357 382h1M408 413h1M360 386h1M397 399h1M407 392h1M397 382h1M394 413h1M391 388h1M381 376h1"/><path transform="translate(0 0.5)" stroke="#999" stroke-width="1.0" fill="none" d="M497 296h1M504 250h1M484 369h1M380 356h1M412 318h1M422 254h1M484 316h1M443 347h1M444 342h1M444 256h1M487 360h1M419 338h1M489 336h1M464 270h1M362 359h1M481 340h1M487 334h1M400 300h1M457 365h1M367 361h1M438 281h1M390 272h1M466 336h1M441 282h1M426 310h1M389 254h1M458 284h1M432 353h1M420 283h1M426 250h1"/><path transform="translate(0 0.5)" stroke="#e0843c" stroke-width="1.0" fill="none" d="M317 368h1M316 362h1M317 354h1M314 362h1M304 349h1M310 360h1M317 357h1M312 349h1M323 349h1M332 357h1M317 341h1M308 365h1M303 359h1M335 339h1M314 341h1M306 335h1M316 344h1M320 356h1M322 338h1M300 345h1M321 352h1M318 352h1M314 352h1M321 348h1M313 369h1M341 348h1M328 361h1M329 343h1M317 359h1M333 371h1M320 359h1M303 334h1M302 362h1M314 360h1M318 349h1M319 363h1M327 363h1M318 350h1M315 360h1M322 356h1M303 361h1M325 356h1M321 338h1M320 357h1M325 343h1M334 353h1M307 328h1M317 350h1M339 358h1M304 347h1M317 357h1M324 349h1M332 346h1M306 342h1M325 344h1M304 355h1M315 366h1M313 351h1M312 345h1M330 354h1M324 341h1M299 348h1M324 349h1M331 358h1M312 357h1M315 358h1M331 348h1M310 368h1M335 355h1M308 349h1M315 356h1M311 349h1M319 360h1M319 348h1M301 355h1M318 371h1M319 365h1M311 362h1M308 352h1M321 349h1M319 352h1M297 362h1M324 364h1M339 358h1M319 364h1M322 345h1M300 365h1M327 335h1M322 345h1M320 349h1M312 350h1M329 355h1M327 352h1M308 372h1M333 348h1M326 367h1M342 349h1M305 363h1M319 357h1M316 362h1M326 355h1M325 341h1M313 347h1M318 355h1M297 363h1M332 351h1M318 352h1M315 362h1M316 347h1M315 357h1M322 355h1M313 362h1M316 339h1M301 352h1M323 370h1M328 339h1M318 353h1M310 352h1M318 348h1M334 348h1M314 346h1M319 356h1M330 360h1M324 349h1M317 341h1M307 364h1M329 363h1M324 347h1M296 344h1M339 370h1M332 361h1M328 354h1M327 362h1M311 372h1M331 364h1M332 366h1M336 363h1M315 354h1M312 348h1M321 333h1M298 349h1M309 358h1M321 349h1M331 355h1M305 356h1M316 357h1M310 361h1M317 369h1M329 361h1M309 358h1M316 358h1M325 351h1M313 351h1M320 356h1M314 362h1M338 366h1M310 350h1M323 360h1M314 359h1M302 366h1M319 366h1M316 345h1M321 346h1M318 356h1M309 361h1M312 342h1M301 359h1M324 360h1M328 361h1M315 370h1M311 342h1M344 346h1M315 361h1M330 351h1M309 360h1M316 363h1M306 339h1M314 371h1M320 342h1M322 351h1M306 364h1M342 352h1M310 360h1M323 347h1M330 368h1M325 343h1M312 354h1M311 358h1M314 342h1M328 358h1M337 362h1M332 342h1M343 368h1M311 348h1M319 348h1M320 351h1M326 362h1M315 353h1M324 360h1M339 353h1M302 350h1M296 349h1M323 352h1M304 357h1M321 367h1M323 356h1M310 366h1M305 363h1M320 369h1M310 358h1M323 352h1M322 336h1M331 354h1M325 360h1M326 362h1M310 348h1M346 347h1M324 351h1M310 363h1M315 361h1M341 367h1M326 342h1M321 340h1M315 355h1M317 349h1M342 355h1M303 356h1M323 363h1M335 350h1M325 359h1M327 360h1M305 369h1M307 359h1M325 340h1M319 359h1M322 353h1M314 342h1M314 365h1M311 350h1M303 356h1M311 350h1M327 359h1M319 360h1M328 365h1M333 368h1M305 364h1M302 361h1M335 357h1M310 353h1M318 349h1M304 349h1M321 361h1M313 351h1M336 365h1M323 347h1M303 348h1M322 347h1M321 351h1M301 372h1M317 366h1M331 342h1M324 370h1M304 353h1M324 339h1M311 353h1M302 348h1M332 366h1M329 367h1M315 342h1M311 363h1M329 347h1M322 344h1M330 354h1M318 357h1M306 351h1M314 346h1M329 355h1M318 368h1M312 352h1M312 367h1M334 350h1M327 358h1M323 357h1M313 347h1M324 360h1M332 357h1M337 358h1M329 364h1M312 369h1M324 359h1M311 359h1M308 353h1M315 346h1M323 361h1M322 365h1M325 357h1M305 346h1M323 357h1M329 342h1M330 348h1M323 337h1M310 371h1M340 353h1M325 344h1M341 360h1M327 347h1M335 348h1M300 357h1M309 366h1M324 365h1M329 358h1M309 349h1M298 351h1M337 350h1M308 357h1M332 351h1M344 346h1M314 361h1M306 349h1M317 342h1M333 367h1M302 365h1M323 340h1M305 353h1M302 347h1M304 366h1M315 353h1M302 360h1M320 343h1M304 359h1M299 370h1M325 367h1M309 370h1M319 353h1M328 361h1M320 358h1M316 352h1M312 356h1M304 371h1M326 366h1M318 355h1M333 350h1M324 354h1M322 350h1M297 351h1M314 353h1M313 343h1M317 353h1M328 360h1M314 349h1M302 348h1M313 349h1M312 369h1M346 371h1M333 342h1M339 363h1M322 341h1M331 352h1M328 350h1M324 352h1M306 339h1M321 361h1M318 355h1M329 354h1M325 351h1M334 370h1M312 359h1M301 369h1M318 367h1M325 368h1M341 353h1M312 359h1M320 355h1M326 371h1M332 361h1M311 360h1M306 363h1M307 342h1M322 366h1M299 354h1M337 360h1M331 351h1M331 359h1M313 371h1M324 361h1M340 343h1M322 352h1M331 359h1M325 361h1M341 354h1M316 352h1M325 356h1M314 355h1M302 361h1M312 357h1M309 351h1M323 345h1M326 364h1M307 348h1M307 365h1M332 348h1M306 360h1M329 356h1M315 347h1M307 339h1M322 361h1M315 350h1M318 365h1M302 369h1M306 354h1M335 346h1M320 362h1M309 361h1M325 362h1M320 349h1M315 364h1M308 344h1M316 363h1M323 361h1M329 368h1M314 349h1M319 370h1M326 340h1M329 365h1M325 364h1M313 358h1M322 372h1M319 362h1M334 337h1M308 364h1M326 364h1M322 358h1M317 357h1M322 351h1M312 363h1M303 359h1M340 348h1M334 359h1M317 358h1M338 344h1M331 354h1M309 351h1M326 353h1M319 360h1M313 336h1M315 369h1M322 356h1M326 358h1M323 342h1M317 354h1M304 350h1M311 365h1M326 361h1M317 353h1M316 348h1M314 360h1M319 352h1M306 347h1M313 369h1M301 359h1M340 369h1M323 359h1M311 359h1M320 357h1M328 355h1M344 352h1M330 371h1M305 350h1M324 356h1M333 364h1M322 372h1M303 350h1M346 360h1M324 357h1M307 346h1M304 359h1M297 343h1M312 345h1M310 350h1M308 371h1M338 342h1M341 368h1M314 326h1M300 352h1M324 358h1M335 355h1M304 348h1M313 352h1M317 351h1M330 349h1M322 346h1M316 370h1M305 354h1M328 371h1M322 352h1M305 354h1M298 351h1M344 351h1M323 356h1M309 355h1M309 354h1M317 337h1M324 354h1M312 356h1M337 362h1M303 359h1M330 329h1M332 349h1M318 355h1M321 349h1M327 368h1M341 362h1M332 343h1M312 358h1M314 368h1M310 355h1M303 340h1M311 360h1M307 351h1M306 339h1M325 349h1M322 353h1M322 354h1M325 362h1M326 359h1M320 344h1M326 355h1M300 362h1M319 349h1M316 351h1M330 353h1M318 350h1M305 343h1M334 359h1M314 358h1M327 361h1M327 353h1M327 349h1M329 359h1M309 358h1M303 353h1M316 367h1M332 341h1M322 353h1M315 352h1M307 369h1M299 345h1M336 352h1M325 356h1M308 341h1M334 343h1M322 344h1M315 339h1M323 341h1M319 348h1M304 347h1M338 354h1M331 349h1M320 340h1M296 360h1M327 361h1M313 345h1M325 368h1M324 346h1M302 358h1M324 344h1M315 349h1M308 359h1M326 356h1M316 365h1M333 359h1M324 350h1M304 370h1M321 348h1M307 347h1M323 360h1M318 353h1M333 350h1M316 356h1M304 343h1M313 363h1M309 352h1M308 360h1M333 339h1M301 361h1M324 357h1M310 359h1M325 366h1M320 352h1M314 357h1M299 370h1M304 360h1M310 351h1M341 344h1M338 353h1M300 364h1M319 357h1M300 362h1M314 363h1M337 352h1M330 336h1M322 343h1M297 367h1M308 346h1M305 363h1M345 361h1M317 350h1M333 342h1M323 367h1M317 354h1M311 367h1M336 353h1M317 345h1M324 354h1M319 356h1M309 355h1M327 366h1M308 358h1M320 350h1M306 347h1M331 367h1M329 355h1M320 366h1M298 360h1M304 364h1M322 363h1M301 348h1M306 348h1M312 347h1M334 353h1M330 348h1M326 352h1M328 372h1M330 351h1M321 361h1M314 344h1M317 344h1M324 367h1M332 359h1M326 351h1M331 346h1M314 350h1M311 348h1M317 346h1M302 351h1M311 354h1M324 354h1M312 352h1M305 348h1M303 351h1M307 362h1M338 340h1M336 370h1M340 368h1M314 362h1M307 359h1M303 341h1M319 354h1M309 347h1M329 369h1M307 346h1M320 363h1M314 369h1M317 352h1M319 346h1M312 346h1M318 349h1M319 353h1M319 356h1M335 344h1M315 370h1M329 360h1M335 348h1M331 363h1M325 367h1M325 359h1M334 342h1M335 355h1M312 352h1M318 341h1M337 356h1M324 346h1M305 349h1M321 360h1M328 337h1M325 361h1M320 345h1M317 368h1M316 350h1M305 342h1M310 334h1M310 361h1M311 331h1M315 359h1M340 350h1M321 355h1M326 354h1M320 350h1M321 343h1M318 357h1M299 361h1M332 351h1M327 368h1M326 348h1M326 363h1M332 367h1M314 343h1M328 360h1M350 349h1M338 350h1M301 361h1M314 344h1M327 359h1M315 351h1M324 354h1M326 354h1M336 362h1M325 358h1M315 361h1M317 346h1M310 362h1M332 346h1M329 364h1M304 333h1M305 353h1M323 350h1M328 344h1M328 350h1M338 354h1M327 362h1M318 365h1M319 361h1M330 368h1M335 334h1M337 340h1M328 358h1M346 345h1M314 355h1M325 361h1M311 371h1M317 362h1M342 361h1M306 359h1M319 348h1M318 351h1M322 343h1M328 355h1M310 357h1M313 345h1M312 362h1M307 348h1M318 371h1M312 356h1M313 348h1M307 363h1M303 369h1M305 357h1M305 355h1M308 346h1M302 346h1M306 342h1M340 353h1M326 353h1M334 358h1M327 355h1M316 365h1M345 361h1M319 339h1M321 357h1M299 357h1M323 347h1M326 367h1M299 356h1M322 350h1M325 354h1M323 362h1M304 367h1M314 360h1M335 356h1M327 361h1M304 346h1M323 354h1M297 351h1M326 351h1M347 362h1M313 355h1M319 337h1M318 365h1M309 356h1M308 350h1M325 350h1M312 358h1M318 336h1M313 344h1M312 361h1M307 350h1M314 349h1M331 346h1M335 369h1M343 349h1M300 357h1M304 362h1M329 351h1M326 348h1M327 361h1M320 364h1M301 350h1M322 362h1M320 346h1M323 340h1M299 367h1M329 345h1M320 368h1M335 339h1M322 350h1M323 370h1M310 351h1M304 362h1M323 355h1M308 366h1M324 356h1M317 355h1M324 353h1M330 360h1M307 355h1M322 367h1M313 350h1M318 348h1M304 354h1M312 365h1M314 367h1M313 361h1M334 352h1M309 361h1M299 355h1M308 362h1M324 358h1M335 356h1M319 352h1M331 356h1M329 343h1M318 361h1M318 361h1M312 344h1M316 364h1M331 362h1M314 341h1M324 366h1M316 353h1M313 351h1M318 347h1M321 367h1M322 349h1M303 369h1M320 367h1M305 348h1M319 360h1M328 351h1M327 342h1M320 358h1M338 336h1M330 356h1M311 345h1M320 340h1M338 352h1M326 349h1M317 367h1M329 367h1M311 358h1M311 352h1M314 356h1M314 355h1M308 368h1M314 353h1M314 351h1M323 368h1M317 363h1M315 362h1M319 355h1M322 353h1M311 358h1M312 346h1M317 353h1M322 346h1M323 359h1M299 346h1M310 340h1M313 351h1M299 347h1M317 350h1M328 342h1M310 355h1M331 372h1M312 360h1M314 355h1M319 344h1M317 364h1M324 360h1M322 357h1M303 356h1M326 346h1M320 345h1M335 357h1M325 361h1M312 372h1M332 337h1M315 360h1M313 355h1M318 348h1M317 353h1M313 362h1M319 352h1M310 354h1M309 352h1M339 354h1M321 367h1M303 339h1M309 359h1M332 351h1M325 345h1M318 366h1M303 361h1M311 351h1M333 354h1M311 347h1M319 356h1M307 354h1M313 351h1M321 347h1M326 355h1M302 352h1M326 355h1M330 349h1M312 370h1M325 351h1M309 368h1M325 357h1M320 363h1M317 336h1M329 339h1M321 351h1M316 349h1M329 365h1M318 363h1M346 346h1M330 364h1M334 350h1M319 353h1M297 354h1M326 355h1M318 361h1M326 362h1M335 350h1M318 356h1M316 358h1M327 356h1M313 341h1M312 344h1M321 348h1M321 351h1M329 362h1M333 347h1M310 344h1M343 356h1M345 355h1M331 345h1M301 364h1M299 359h1M321 350h1M301 352h1M327 344h1M323 365h1M327 356h1M320 348h1M316 364h1M305 337h1M297 359h1M338 361h1M329 355h1M297 359h1M322 365h1M314 365h1M326 349h1M324 364h1M340 351h1M304 350h1M312 360h1M335 351h1M313 362h1M330 361h1M332 362h1M316 347h1M316 358h1M329 364h1M305 365h1M322 366h1M304 343h1M315 355h1M331 357h1M331 343h1M341 351h1M325 344h1M322 351h1M308 370h1M309 356h1M337 341h1M312 350h1M302 351h1M312 352h1M306 360h1M321 351h1M314 355h1M314 345h1M306 355h1M329 343h1M311 343h1M302 345h1"/><path transform="translate(0 0.5)" stroke="#7a4a2a" stroke-width="1.0" fill="none" d="M321 365h1M318 351h1M310 359h1M323 366h1M311 351h1M335 363h1M316 362h1M318 344h1M317 345h1M301 350h1M303 351h1M327 368h1M322 346h1M323 367h1M302 347h1M320 343h1M311 351h1M326 347h1M315 353h1M313 357h1M314 344h1M322 352h1M325 365h1M301 349h1M306 354h1M307 347h1M322 371h1M313 346h1M318 366h1M322 367h1M344 354h1M316 342h1M317 363h1M345 356h1M325 342h1M314 358h1M326 347h1M316 358h1M314 354h1M305 363h1M337 359h1M323 347h1M315 364h1M304 364h1M335 357h1M306 361h1M319 354h1M322 362h1M325 354h1M316 368h1M311 354h1M329 346h1M334 351h1M322 366h1M323 346h1M312 356h1M322 354h1M309 358h1M317 357h1M315 359h1M314 341h1M323 354h1M324 353h1M334 353h1M296 343h1M307 361h1M313 361h1M319 353h1M327 361h1M297 364h1M318 362h1M296 355h1M331 338h1M318 338h1M312 355h1M308 347h1M311 360h1M316 345h1M316 356h1M308 366h1M313 355h1M329 340h1M328 347h1M312 363h1M307 354h1M309 337h1M333 359h1M332 347h1M307 366h1M316 363h1M327 367h1M316 356h1M316 354h1M300 344h1M319 345h1M327 360h1M314 353h1M306 355h1M322 359h1M325 337h1M310 352h1M301 364h1M319 367h1M305 363h1M322 353h1M314 354h1M318 352h1M304 354h1M312 353h1M300 348h1M328 348h1M305 355h1M308 349h1M303 355h1M316 358h1M330 355h1M320 356h1M315 364h1M319 342h1M334 353h1M309 351h1M313 371h1M314 361h1M323 362h1M312 357h1M315 353h1M319 360h1M325 339h1M329 366h1M309 341h1M310 350h1M311 364h1M321 347h1M316 359h1M322 359h1M324 346h1M303 365h1M322 339h1M312 356h1M321 348h1M316 353h1M313 358h1M322 351h1"/><path transform="translate(0 0.5)" stroke="#44e044" stroke-width="1.0" fill="none" d="M400 334h1M400 339h1M407 331h1M402 339h1M402 326h1M423 314h1M411 325h1M410 336h1M411 334h1M410 316h1M401 343h1M381 347h1M398 330h1M409 334h1M394 316h1M404 332h1M399 343h1M409 334h1M429 322h1M407 338h1M411 329h1M401 344h1M403 336h1M404 333h1M414 328h1M413 336h1M416 346h1M415 335h1M406 342h1M420 319h1M406 329h1M402 328h1M402 337h1M417 335h1M415 338h1M403 340h1M399 330h1M387 359h1M408 338h1M407 335h1M400 354h1M410 346h1M426 332h1M407 343h1M430 337h1M393 349h1M410 332h1M401 342h1M394 336h1M413 333h1M416 334h1M393 345h1M394 343h1M400 317h1M415 348h1M411 324h1M411 334h1M424 331h1M416 324h1M405 347h1M417 333h1M407 332h1M414 339h1M419 339h1M415 330h1M395 357h1M415 334h1M412 343h1M418 326h1M422 317h1M403 329h1M406 334h1M418 338h1M410 344h1M415 322h1M414 331h1M401 330h1M396 340h1M412 320h1M401 322h1M411 317h1M388 342h1M409 324h1M410 340h1M403 337h1M407 326h1M425 325h1M405 337h1M399 326h1M403 349h1M410 330h1M402 340h1M409 331h1M413 323h1M416 329h1M414 328h1M419 306h1M408 343h1M403 344h1M406 318h1M410 333h1M390 340h1M417 334h1M415 311h1M402 353h1M404 327h1M404 345h1M424 329h1M426 339h1M412 334h1M417 328h1M403 345h1M417 340h1M407 339h1M403 347h1M437 335h1M411 346h1M405 340h1M410 348h1M417 332h1M407 340h1M416 332h1M399 328h1M403 342h1M398 346h1M406 352h1M394 365h1M395 332h1M411 327h1M411 326h1M417 329h1M400 340h1M401 352h1M398 322h1M409 340h1M415 333h1M410 337h1M418 339h1M394 334h1M405 325h1M398 341h1M426 324h1M411 341h1M402 332h1M401 342h1M400 341h1M402 324h1M427 331h1M415 339h1M412 341h1M395 334h1M405 336h1M420 318h1M406 344h1M400 324h1M411 339h1M412 331h1M410 346h1M392 344h1M405 341h1M400 338h1M394 328h1M391 345h1M414 336h1M401 352h1M418 320h1M414 324h1M413 327h1M412 332h1M406 335h1M417 320h1M412 334h1M424 346h1M408 338h1M408 347h1M398 324h1M397 350h1M388 346h1M415 346h1M403 349h1M413 344h1M401 341h1M423 325h1M389 333h1M410 333h1M408 321h1M395 356h1M415 325h1M395 323h1M398 314h1M409 320h1M403 344h1M405 342h1M409 315h1M405 329h1M410 347h1M419 325h1M407 341h1M421 327h1M425 329h1M417 336h1M435 338h1M406 328h1M403 336h1M406 338h1M405 331h1M412 335h1M405 331h1M435 331h1M407 341h1M405 336h1M419 331h1M397 330h1M419 330h1M421 330h1M401 341h1M390 328h1M408 336h1M409 331h1M403 338h1M407 346h1M394 347h1M422 352h1M418 332h1M416 336h1M409 340h1M433 333h1M402 338h1M408 323h1M414 334h1M409 339h1M412 316h1M421 341h1M423 346h1M412 337h1M422 331h1M410 322h1M407 321h1M409 330h1M427 326h1M408 322h1M400 337h1M412 343h1M415 325h1M409 337h1M409 322h1M420 336h1M403 348h1M416 324h1M410 321h1M410 336h1M413 328h1M408 336h1M423 329h1M402 346h1M408 332h1M401 335h1M411 343h1M431 330h1M413 320h1M414 340h1M414 348h1M411 323h1M396 336h1M401 338h1M408 348h1M403 325h1M412 336h1M396 341h1M410 345h1M403 327h1M420 344h1M417 330h1M410 336h1M411 334h1M417 350h1M399 327h1M426 330h1M421 339h1M408 323h1M403 337h1M393 346h1M400 339h1M408 337h1M431 340h1M408 330h1M401 332h1M421 344h1M412 331h1M406 325h1M423 334h1M415 336h1M402 340h1M397 344h1M403 343h1M418 329h1M420 322h1M415 349h1M417 315h1M409 330h1M405 330h1M411 334h1M409 327h1M415 349h1M416 340h1M415 342h1M387 351h1M409 339h1M419 321h1M422 336h1M402 336h1M404 327h1M407 323h1M406 338h1M417 332h1M405 334h1M394 339h1M420 347h1M393 348h1M412 343h1M395 340h1M411 320h1M401 354h1M409 332h1M411 326h1M408 325h1M398 343h1M394 344h1M424 334h1M407 339h1M409 341h1M409 332h1M394 324h1M410 338h1M410 343h1M403 333h1M393 356h1M398 334h1M420 341h1M405 343h1M421 353h1M421 334h1M399 337h1M410 324h1M410 323h1M422 336h1M407 323h1M402 342h1M399 341h1M411 323h1M410 334h1M423 317h1M426 333h1M416 332h1M421 343h1M414 341h1M407 330h1M406 336h1M400 327h1M412 328h1M402 321h1M406 328h1M399 346h1M399 346h1M404 344h1M393 347h1M398 341h1M406 342h1M403 351h1M406 340h1M414 350h1M394 344h1M415 342h1M402 347h1M414 339h1M409 355h1M405 340h1M412 328h1M401 342h1M410 328h1M411 311h1M408 319h1M399 345h1M412 319h1M425 326h1M411 332h1M422 322h1M432 334h1M394 345h1M419 336h1M417 335h1M411 341h1M401 331h1M409 326h1M426 312h1M401 329h1M411 319h1M403 340h1M417 333h1M419 331h1M410 354h1M396 340h1M416 326h1M407 323h1M418 331h1M424 323h1M410 337h1M425 330h1M406 328h1M395 329h1M420 350h1M408 323h1M401 336h1M399 329h1M419 317h1M398 326h1M415 329h1M415 325h1M402 329h1M404 330h1M409 343h1M401 341h1M423 335h1M425 334h1M410 342h1M428 331h1M405 328h1M393 338h1M403 340h1M415 329h1M383 338h1M408 324h1M411 328h1M416 322h1M409 356h1M425 334h1M414 321h1M399 338h1M413 329h1M410 333h1M387 333h1M408 325h1M404 331h1M386 333h1M420 340h1M410 336h1M415 330h1M423 342h1M418 351h1M395 337h1M423 331h1M418 323h1M402 339h1M406 320h1M403 323h1M420 344h1M411 325h1M406 332h1M432 318h1M407 341h1M414 334h1M396 348h1M418 338h1M403 341h1M393 360h1M403 333h1M421 338h1M406 342h1M406 330h1M403 335h1M410 334h1M401 360h1M405 324h1M403 346h1M404 330h1M409 335h1M412 342h1M402 317h1M393 333h1M409 341h1M421 312h1M418 323h1M414 331h1M429 348h1M414 324h1M403 335h1M396 339h1M413 341h1M399 337h1M410 329h1M398 343h1M407 333h1M409 336h1M422 331h1M418 337h1M402 329h1M402 341h1M422 320h1M406 330h1M402 322h1M401 327h1M422 345h1M408 341h1M418 323h1M418 321h1M396 323h1M417 326h1M408 334h1M402 338h1M405 326h1M425 325h1M405 320h1M393 336h1M420 328h1M411 325h1M419 339h1M418 329h1M402 338h1M422 342h1M419 334h1M413 345h1M402 340h1M408 324h1M419 311h1M393 345h1M412 341h1M402 353h1M403 333h1M405 351h1M407 334h1M407 350h1M401 335h1M400 343h1M412 317h1M422 350h1M405 329h1M407 339h1M406 331h1M404 339h1M408 334h1M402 348h1M414 323h1M413 342h1M412 344h1M409 326h1M416 337h1M419 328h1M392 331h1M408 344h1M399 341h1M395 355h1M404 337h1M399 347h1M415 338h1M395 356h1M408 329h1M405 321h1M397 344h1M415 331h1M406 337h1M406 327h1M407 340h1M398 369h1M387 332h1M414 318h1M411 331h1M409 343h1M412 341h1M414 340h1M420 339h1M419 342h1M406 338h1M415 325h1M403 319h1M408 345h1M414 343h1M401 342h1M414 340h1M395 345h1M412 333h1M424 310h1M424 342h1M416 346h1M392 335h1M396 351h1M394 350h1M402 343h1M407 347h1M412 329h1M403 348h1M401 339h1M416 354h1M411 327h1M401 330h1M413 335h1M407 324h1M415 321h1M408 332h1M405 338h1M411 335h1M416 328h1M407 336h1M426 328h1M415 328h1M409 343h1M413 335h1M408 341h1M403 325h1M411 326h1M411 340h1M415 328h1M382 349h1M412 340h1M412 339h1M395 352h1M404 335h1M404 348h1M403 339h1M404 335h1M424 325h1M399 338h1M403 348h1M415 327h1M419 330h1M408 320h1M393 345h1M405 329h1M402 326h1M425 333h1M402 337h1M415 334h1M378 353h1M398 339h1M417 347h1M412 352h1M414 331h1M405 344h1M397 328h1M416 335h1M412 340h1M394 359h1M408 339h1M405 332h1M402 329h1M424 309h1M402 331h1M420 332h1M417 342h1M399 327h1M421 316h1M402 336h1M412 324h1M407 343h1M415 338h1M408 338h1M411 324h1M409 335h1M413 318h1M403 327h1M406 338h1M411 337h1M416 321h1M416 329h1M403 347h1M424 332h1M388 353h1M409 327h1M413 329h1M411 336h1M406 328h1M407 334h1M405 339h1M391 338h1M405 342h1M399 332h1M409 339h1M387 342h1M412 317h1M424 332h1M419 314h1M404 327h1M422 329h1M398 331h1M412 332h1M415 338h1M397 339h1M405 335h1M408 335h1M407 349h1M409 328h1M405 327h1M402 340h1M400 345h1M422 332h1M410 324h1M406 336h1M407 323h1M414 335h1M397 339h1M414 338h1M410 340h1M411 330h1M393 331h1M400 346h1M406 347h1M391 336h1M408 330h1M392 341h1M404 319h1M401 327h1M421 327h1M403 313h1M405 341h1M408 320h1M417 324h1M416 330h1M410 327h1M398 329h1M397 321h1M430 326h1M395 335h1M410 323h1M401 329h1M408 354h1M419 333h1M418 314h1M412 318h1M426 316h1M417 323h1M425 325h1M405 329h1M410 338h1M409 333h1M402 325h1M408 335h1M414 341h1M410 333h1M405 332h1M412 356h1M394 340h1M400 328h1M425 318h1M415 321h1M410 335h1M405 330h1M425 335h1M393 348h1M425 324h1M387 345h1M411 330h1M396 339h1M421 317h1M418 335h1M424 330h1M386 341h1M402 332h1M424 331h1M392 341h1M422 323h1M410 331h1M410 336h1M420 312h1M405 343h1M412 334h1M405 334h1M401 341h1M429 324h1M396 353h1M416 340h1M430 342h1M393 344h1M406 331h1M402 331h1M407 338h1M403 342h1M417 306h1M416 339h1M412 331h1M381 353h1M400 343h1M388 332h1M400 336h1M406 337h1M424 326h1M406 338h1M405 328h1M409 325h1M439 307h1M413 346h1M405 335h1M420 311h1M408 322h1M404 339h1M399 319h1M398 332h1M411 324h1M402 349h1M403 339h1M398 353h1M424 330h1M414 316h1M424 323h1M398 333h1M415 354h1M415 338h1M406 335h1M420 325h1M425 329h1M386 349h1M406 329h1M401 331h1M402 344h1M409 341h1M409 332h1M415 339h1M395 333h1M394 362h1M409 346h1M406 353h1M409 315h1M420 318h1M413 344h1M403 339h1M400 323h1M420 323h1M406 334h1M393 338h1M415 328h1M387 345h1M403 355h1M399 326h1M410 341h1M413 344h1M407 322h1M427 321h1M405 314h1M421 336h1M420 328h1M421 338h1M421 318h1M415 339h1M423 334h1M422 326h1M415 335h1M421 334h1M398 326h1M420 341h1M394 346h1M405 332h1M412 339h1M412 342h1M393 345h1M393 341h1M394 332h1M414 339h1M405 348h1M398 337h1M415 328h1M414 325h1M411 335h1M396 348h1M397 340h1M403 337h1M395 336h1M411 333h1M413 326h1M411 335h1M411 322h1M406 329h1M402 333h1M399 336h1M430 341h1M409 334h1M411 327h1M399 321h1M407 345h1M428 303h1M420 330h1M418 334h1M400 334h1M397 351h1M423 339h1M413 317h1M402 322h1M412 329h1M406 329h1M399 345h1M414 323h1M407 332h1M419 332h1M413 311h1M422 323h1M404 333h1M412 326h1M399 336h1M392 333h1M400 348h1M408 333h1M425 330h1M413 326h1M392 336h1M411 322h1M410 330h1M405 326h1M419 308h1M429 344h1M416 332h1M416 327h1M405 323h1M392 327h1M394 348h1M399 330h1M403 330h1M401 358h1M391 331h1M421 340h1M414 349h1M401 340h1M407 335h1M407 343h1M411 339h1M411 327h1M406 325h1M412 333h1M414 328h1M405 317h1M402 335h1M417 333h1M418 331h1M413 329h1M423 322h1M413 328h1M409 337h1M419 331h1M406 317h1M412 342h1M392 342h1M404 335h1M420 335h1M400 337h1M390 321h1M417 336h1M392 335h1M420 324h1M405 334h1M418 328h1M410 321h1M411 341h1M411 339h1M418 320h1M417 330h1M404 340h1M414 344h1M413 339h1M409 345h1M417 319h1M408 320h1M423 324h1M415 327h1M406 324h1M422 330h1M434 312h1M413 329h1M408 337h1M407 343h1M406 346h1M401 333h1M404 329h1M399 343h1M385 333h1M410 346h1M397 332h1M410 329h1M414 329h1M419 331h1M398 345h1M403 331h1M413 330h1M415 359h1M417 341h1M395 338h1M407 338h1M429 312h1M411 331h1M395 345h1M417 352h1M408 330h1M411 329h1M407 343h1M417 337h1M412 327h1M418 342h1M398 350h1M392 342h1M397 330h1M414 333h1M411 342h1M411 316h1M427 321h1M405 342h1M405 336h1M404 344h1M406 330h1M394 324h1M424 341h1M413 334h1M404 337h1M416 326h1M406 332h1M407 345h1M390 347h1M404 341h1M427 338h1M403 334h1M413 323h1M402 346h1M398 334h1M395 346h1M396 324h1M405 362h1M403 340h1M417 330h1M420 322h1M429 328h1M413 354h1M410 327h1M406 336h1M409 339h1M405 318h1M397 335h1M391 355h1M418 324h1M426 330h1M397 345h1M406 331h1M412 329h1M427 333h1M402 325h1M404 333h1M416 335h1M407 322h1M393 315h1M410 325h1M422 331h1M421 334h1M434 328h1M426 338h1M389 345h1M404 327h1M424 341h1M412 335h1M413 341h1M401 333h1M406 342h1M415 337h1M409 338h1M410 338h1M414 349h1M417 345h1M414 339h1M408 327h1M396 329h1M394 342h1M420 343h1M401 331h1M417 340h1M412 357h1M391 340h1M396 351h1M415 355h1M405 338h1M389 349h1M395 339h1M410 340h1M396 335h1M398 341h1M414 315h1M417 333h1M399 332h1M409 333h1M426 343h1M412 350h1M395 352h1M411 318h1M412 341h1M407 340h1M429 325h1M412 329h1M422 355h1M410 329h1M414 343h1M400 347h1M432 314h1M409 353h1M394 328h1M415 341h1M424 319h1M414 314h1M427 350h1M411 331h1M427 310h1M418 313h1M412 346h1M408 332h1M406 339h1M409 343h1M408 330h1M436 337h1M408 346h1M390 353h1M390 344h1M388 345h1M400 334h1M419 345h1M394 352h1M387 353h1M409 331h1M422 346h1M396 338h1M403 334h1M402 334h1M408 323h1M409 320h1M393 359h1M407 350h1M418 332h1M418 337h1M400 338h1M404 335h1M411 343h1M416 356h1M409 349h1M396 342h1M402 352h1M393 325h1M407 343h1M420 336h1M399 338h1M387 348h1M419 342h1M394 337h1M405 331h1M403 333h1M401 347h1M397 346h1M417 333h1M399 348h1M414 337h1M399 314h1M398 337h1"/><path transform="translate(0 0.5)" stroke="#7ee07e" stroke-width="1.0" fill="none" d="M386 351h1M396 359h1M402 345h1M389 357h1M384 349h1M381 357h1M381 348h1M388 349h1M396 355h1M384 354h1M387 348h1M390 347h1M389 342h1M386 344h1M390 356h1M384 355h1M388 353h1M398 347h1M406 346h1M394 359h1M396 357h1M402 355h1M398 338h1M397 353h1M385 345h1M392 355h1M379 346h1M390 344h1M386 352h1M400 344h1M390 353h1M392 351h1M389 349h1M395 349h1M398 354h1M388 352h1M401 353h1M409 348h1M388 356h1M385 351h1M396 350h1M397 355h1M392 351h1M381 351h1M385 349h1M391 350h1M397 350h1M402 357h1M394 354h1M394 347h1M391 348h1M399 351h1M387 340h1M386 345h1M398 349h1M377 356h1M398 337h1M398 350h1M384 350h1M385 345h1M389 341h1M396 348h1M401 345h1M388 350h1M403 358h1M394 355h1M392 344h1M387 351h1M400 356h1M396 342h1M388 349h1M390 344h1M396 353h1M383 353h1M399 347h1M391 353h1M389 348h1M400 350h1M388 349h1M387 349h1M404 348h1M402 356h1M379 346h1M395 350h1M401 350h1M382 354h1M392 348h1M393 353h1M395 351h1M381 350h1M390 358h1M387 352h1M401 352h1M389 353h1M394 348h1M393 353h1M394 346h1M387 342h1M399 351h1M384 343h1M395 354h1M394 348h1M397 363h1M382 350h1M392 348h1M390 350h1M399 339h1M401 359h1M393 332h1M398 347h1M403 342h1M381 351h1M386 345h1M396 341h1M396 346h1M395 349h1M395 355h1M398 344h1M390 356h1M386 349h1M401 357h1M393 351h1M389 350h1M397 358h1M406 346h1M393 348h1M388 355h1M394 347h1M386 350h1M386 341h1M394 357h1M392 355h1M394 348h1M393 362h1M400 357h1M395 338h1M387 352h1M402 356h1M385 350h1M399 359h1M404 359h1M395 337h1M389 344h1M373 355h1M391 358h1M395 348h1M393 341h1M388 344h1M402 360h1M398 350h1"/><path transform="translate(0 0.5)" stroke="#777" stroke-width="1.0" fill="none" d="M376 343h1M363 374h1M362 353h1M387 323h1M369 335h1M392 340h1M381 356h1M379 350h1M386 353h1M374 337h1M382 346h1M398 365h1M386 354h1M363 330h1M377 352h1M349 364h1M372 372h1M390 323h1M394 343h1M378 350h1M372 340h1M393 341h1M376 329h1M375 343h1M378 353h1M382 346h1M369 364h1M377 343h1M376 358h1M392 350h1M382 339h1M372 354h1M372 352h1M380 344h1M376 323h1M387 374h1M356 361h1M370 353h1M392 362h1M365 326h1M381 354h1M355 357h1M373 355h1M385 357h1M393 331h1M388 353h1M358 353h1M371 366h1M370 346h1M366 353h1M372 354h1M380 360h1M365 350h1M370 351h1M363 350h1M361 351h1M385 354h1M375 333h1M388 345h1M377 347h1"/><rect x="296.5" y="380" width="39.5" height="36.5" fill="#111"/><path transform="translate(0 0.5)" stroke="#111" stroke-width="1.0" fill="none" d="M337 395h1M335 381h1M346 379h1M339 408h1M339 384h1M340 406h1M337 390h1M340 411h1M337 414h1M338 414h1M338 405h1M339 412h1M335 380h1M342 379h1M335 409h1M339 408h1M337 383h1M335 375h1M337 392h1M347 392h1M347 413h1M358 391h1M342 376h1M339 381h1M336 382h1M335 381h1M335 389h1M338 407h1M346 377h1M341 392h1M345 405h1M337 381h1M348 394h1M345 396h1M336 397h1M338 376h1M343 392h1M346 393h1M338 383h1M346 409h1M343 394h1M339 396h1M352 398h1M335 402h1M335 387h1M344 410h1M345 386h1M347 386h1M337 381h1M338 408h1M335 394h1M335 384h1M342 381h1M337 410h1M339 380h1M343 377h1M346 409h1M341 381h1M336 384h1M338 385h1M337 381h1M342 383h1M356 411h1M344 415h1M338 406h1M339 402h1M346 392h1M338 383h1M341 411h1M340 413h1M339 410h1M336 411h1M337 385h1M335 409h1M335 396h1M338 375h1M335 391h1M336 412h1M342 381h1M339 388h1M346 379h1M336 403h1M344 391h1M336 410h1M336 376h1M336 411h1M339 401h1M336 407h1M340 381h1M342 415h1M345 375h1M340 394h1M336 400h1M337 400h1M343 385h1M342 398h1M344 410h1M336 412h1M339 380h1M338 398h1M337 411h1M337 387h1M342 414h1M346 392h1M341 400h1M345 383h1M344 376h1M357 403h1M338 389h1M337 393h1M337 380h1M337 391h1M338 383h1M337 385h1M344 412h1M338 398h1M337 380h1M335 391h1M348 389h1M345 385h1M335 386h1M339 412h1M338 395h1M342 402h1M343 388h1M338 404h1M354 395h1M344 387h1M348 395h1M345 403h1M336 379h1M338 412h1M343 407h1M335 381h1M336 377h1M337 382h1M336 380h1M340 406h1M340 412h1M339 390h1M346 401h1M353 413h1M337 399h1M342 403h1M347 377h1M335 410h1M348 411h1M339 404h1M342 397h1M342 382h1M343 398h1M337 412h1M337 397h1M345 387h1M350 383h1M348 405h1M339 377h1M336 406h1M337 387h1M342 400h1M337 406h1M339 401h1M335 375h1M342 379h1M342 398h1M343 401h1M335 386h1M337 394h1M337 380h1M342 387h1M335 399h1M338 388h1M341 391h1M341 381h1M339 383h1M351 382h1M341 399h1M335 381h1M344 387h1M341 376h1M336 408h1M336 410h1M350 383h1M335 399h1M342 394h1M335 378h1M341 382h1M342 388h1M335 394h1M343 376h1M344 390h1M338 385h1M336 413h1M342 398h1M348 406h1M335 394h1M346 383h1M343 376h1M336 382h1M335 405h1M335 408h1M341 390h1M337 381h1M337 383h1M336 385h1M343 385h1M339 401h1M339 407h1M342 398h1M335 397h1M345 382h1M337 387h1M342 399h1M339 386h1M337 384h1M338 414h1M340 375h1M345 378h1M335 401h1M341 412h1M340 380h1M342 388h1M342 381h1M341 375h1M341 387h1M341 375h1M335 385h1M341 411h1M354 386h1M341 378h1M337 383h1M343 376h1M335 413h1M344 380h1M336 401h1M335 380h1M338 375h1M342 384h1M338 414h1M337 383h1M343 387h1M343 383h1M348 402h1M338 384h1M341 415h1M338 391h1M345 396h1M340 391h1M344 388h1M346 408h1M349 391h1M335 390h1M337 385h1M340 380h1M341 405h1M338 386h1M335 375h1M345 412h1M338 376h1M335 391h1M343 381h1M342 395h1M339 414h1M335 383h1M340 378h1M337 403h1M344 397h1M341 414h1M336 406h1M342 377h1M342 409h1M336 406h1M338 407h1M345 401h1M341 377h1M337 403h1M336 412h1M337 386h1M339 388h1M336 415h1M339 378h1M339 396h1M336 408h1M346 375h1M335 381h1M350 395h1M340 388h1M338 385h1M347 375h1M337 394h1M338 411h1M341 383h1M346 403h1M339 378h1M339 377h1M342 389h1M343 408h1M348 413h1M341 381h1M341 415h1M337 375h1M338 381h1M340 392h1M341 381h1M335 380h1M349 407h1M339 380h1M339 409h1M346 381h1M337 383h1M340 384h1M337 407h1M340 411h1M342 377h1M344 380h1M337 392h1M340 396h1M344 401h1M343 409h1M344 381h1M335 390h1M341 376h1M342 408h1M338 403h1M350 380h1M335 388h1M340 390h1M351 410h1M338 407h1M350 401h1M345 378h1M342 382h1M336 400h1M346 403h1M342 385h1M341 380h1M342 394h1M337 406h1M346 410h1M347 381h1M345 387h1M337 388h1M339 413h1M351 379h1M339 415h1M339 392h1M342 397h1M336 404h1M339 415h1M346 401h1M345 408h1M339 378h1M346 386h1M337 400h1M337 393h1M343 412h1M341 394h1M336 414h1M337 391h1M335 383h1M349 403h1M337 395h1M342 408h1M339 402h1M344 389h1M337 399h1M341 413h1M339 381h1M344 402h1M336 395h1M347 414h1M341 415h1M339 403h1M339 400h1M336 396h1M347 378h1M345 381h1M341 412h1M338 409h1M343 395h1M336 377h1M351 381h1M343 378h1M336 379h1M351 395h1M339 406h1M344 404h1M341 414h1M340 388h1M355 382h1M337 386h1M340 381h1M346 388h1M339 384h1M336 407h1M344 376h1M335 395h1M342 399h1M343 379h1M337 400h1M344 407h1M336 404h1M341 399h1M336 391h1M342 402h1M342 395h1M335 407h1M339 399h1M337 410h1M343 401h1M343 392h1M347 394h1M341 381h1M335 412h1M336 395h1M350 382h1M336 376h1M345 383h1M345 399h1M344 390h1M339 400h1M347 393h1M338 402h1M341 377h1M338 405h1M343 375h1M342 399h1M339 391h1M340 377h1M348 388h1M340 414h1M340 387h1M351 415h1M345 381h1M335 391h1M343 387h1M340 399h1M335 379h1M346 382h1M341 392h1M342 382h1M336 376h1M342 388h1M337 412h1M340 404h1M336 402h1M344 395h1M335 377h1M338 384h1M339 389h1M341 406h1M335 408h1M339 400h1M338 379h1M335 397h1M337 375h1M346 404h1M335 397h1M339 409h1M336 392h1M342 393h1M342 402h1M341 404h1M341 379h1M335 405h1M336 392h1M338 383h1M339 387h1M337 413h1M353 395h1M336 379h1M338 386h1M341 394h1M339 411h1M336 407h1M342 393h1M343 409h1M346 406h1M340 381h1M335 380h1M341 395h1M337 413h1M351 386h1M338 381h1M340 408h1M341 399h1M339 387h1M338 380h1M344 415h1M337 393h1M338 378h1M340 415h1M336 377h1M338 409h1M342 400h1M339 375h1M336 404h1M336 375h1M336 375h1M346 383h1M338 375h1M337 389h1M339 394h1M339 393h1M347 403h1M335 375h1M342 384h1M337 396h1M340 383h1M340 413h1M341 377h1M341 379h1M336 397h1M335 405h1M347 388h1M336 404h1M340 383h1M338 402h1M335 411h1M348 383h1M349 392h1M351 409h1M348 378h1M336 398h1M358 399h1M335 375h1M340 384h1M335 375h1M341 397h1M349 406h1M341 377h1M339 413h1M335 392h1M340 397h1M338 390h1M335 407h1M340 388h1M337 399h1M351 397h1M335 392h1M336 386h1M341 383h1M337 382h1M337 415h1M342 415h1M338 392h1M338 388h1M337 384h1M342 411h1M345 385h1M339 414h1M337 393h1M336 392h1M343 378h1M353 408h1M337 392h1M335 412h1M350 397h1M337 400h1M336 377h1M342 404h1M340 379h1M338 412h1M348 415h1M335 378h1M340 413h1M338 405h1M341 394h1M345 398h1M344 410h1M341 377h1M335 390h1M336 392h1M341 389h1M344 386h1M337 392h1M349 415h1M336 403h1M337 390h1M335 381h1M335 408h1M343 415h1M343 392h1M335 375h1M339 386h1M341 402h1M339 408h1M336 411h1M341 376h1M338 378h1M337 377h1M353 380h1M351 409h1M335 385h1M343 392h1M348 415h1M339 389h1M341 405h1M345 399h1M335 379h1M336 390h1M335 383h1M335 379h1M347 394h1M343 408h1M336 378h1M337 410h1M337 388h1M342 384h1M343 401h1M341 381h1M337 376h1M344 396h1M338 396h1M341 415h1M338 402h1M345 409h1M338 409h1M337 377h1M341 403h1M335 415h1M344 376h1M339 413h1M336 389h1M343 401h1M335 410h1M340 396h1M337 412h1M337 400h1M339 382h1M348 389h1M338 396h1M341 383h1M335 382h1M336 393h1M335 377h1M335 394h1M339 406h1M337 382h1M335 383h1M344 390h1M336 410h1M342 415h1M336 384h1M340 383h1M338 412h1M340 384h1M337 410h1M335 391h1M337 376h1M341 380h1M336 386h1M341 399h1M346 376h1M339 386h1M340 375h1M336 398h1M344 401h1M347 379h1M335 379h1M347 404h1M336 413h1M335 375h1M346 385h1M336 402h1M341 410h1M339 396h1M337 414h1M344 379h1M342 384h1M344 386h1M339 409h1M342 402h1M355 381h1M338 392h1M348 405h1M339 379h1M350 415h1M349 408h1M342 380h1M337 381h1M349 401h1M339 394h1M343 396h1M340 403h1M343 391h1M340 415h1M345 392h1M336 395h1M336 377h1M335 387h1M344 383h1M335 410h1M345 380h1M337 379h1M339 381h1M341 380h1M338 397h1M342 395h1M336 402h1M341 402h1M341 375h1M337 381h1M341 405h1M340 379h1M350 377h1M341 408h1M337 391h1M347 403h1M339 377h1M337 386h1M336 386h1M336 404h1M336 399h1M344 391h1M341 410h1M337 392h1M342 391h1M340 414h1M339 402h1M347 399h1M337 379h1M342 398h1M355 382h1M337 405h1M336 384h1M338 411h1M341 379h1M361 404h1M342 412h1M340 385h1M337 408h1M344 387h1M336 405h1M338 389h1M348 415h1M341 398h1M336 397h1M342 392h1M347 378h1M337 395h1M340 376h1M337 408h1M336 412h1M342 389h1M350 412h1M342 376h1M339 409h1M341 405h1M338 388h1M335 398h1M345 392h1M337 412h1M341 399h1M348 378h1M344 388h1M338 380h1M342 383h1M339 402h1M338 415h1M345 402h1M335 376h1M357 391h1M337 402h1M340 415h1M341 410h1M346 397h1M336 394h1M347 414h1M343 389h1M335 393h1M340 375h1M338 383h1M338 392h1M336 377h1M336 414h1M346 384h1M347 398h1M335 407h1M336 379h1M335 413h1M345 408h1M342 386h1M337 386h1M337 399h1M339 399h1M343 385h1M337 376h1M348 410h1M342 385h1M335 385h1M336 377h1M335 405h1M347 411h1M344 383h1M342 381h1M339 394h1M350 408h1M337 398h1M343 376h1M343 413h1M340 383h1M338 414h1M338 407h1M337 380h1M344 383h1M336 381h1M342 375h1M345 398h1M336 402h1M349 396h1M335 395h1M339 390h1M339 380h1M338 395h1M338 391h1M339 400h1M336 385h1M348 383h1M338 413h1M346 389h1M340 406h1M337 396h1M339 386h1M335 394h1M339 385h1M340 376h1M336 379h1M338 386h1M348 380h1M338 406h1M335 403h1M342 412h1M335 383h1M345 383h1M335 397h1M348 390h1M346 390h1M339 379h1M351 377h1M341 409h1M342 411h1M345 380h1M337 380h1M338 378h1M345 386h1M342 396h1M338 412h1M344 377h1M346 387h1M337 407h1M337 411h1M339 397h1M340 397h1M336 386h1M343 377h1M339 396h1M342 411h1M337 400h1M346 410h1M336 399h1M336 388h1M345 392h1M343 394h1M341 379h1M336 405h1M338 391h1M342 394h1M341 391h1M338 378h1M338 378h1M341 410h1M339 393h1M336 410h1M351 382h1M339 396h1M336 402h1M338 411h1M341 395h1M344 393h1M338 379h1M338 396h1M339 376h1M335 389h1M347 406h1M337 380h1M342 408h1M335 413h1M346 377h1M336 376h1M343 397h1M339 380h1M353 407h1M336 388h1M344 379h1M339 401h1M339 382h1M345 399h1M340 395h1M345 398h1M338 378h1M340 406h1M340 381h1M339 407h1M341 388h1M338 400h1M337 412h1M337 396h1M337 403h1M337 376h1M340 378h1M342 386h1M341 383h1M343 401h1M336 389h1M337 414h1M336 395h1M338 385h1M341 411h1M336 387h1M349 400h1M353 411h1M343 405h1M342 383h1M345 402h1M338 407h1M336 383h1M338 397h1M352 391h1M338 379h1M341 399h1M338 398h1M338 406h1M336 400h1M335 406h1M344 404h1M348 402h1M339 405h1M340 394h1M353 399h1M341 390h1M336 407h1M342 399h1M340 389h1M338 413h1M336 409h1M338 394h1M335 383h1M337 411h1M335 378h1M337 413h1M348 414h1M335 399h1M347 380h1M341 384h1M336 403h1M338 384h1M338 408h1M335 385h1M344 385h1M339 404h1M338 412h1M339 409h1M338 385h1M337 412h1M340 398h1M342 413h1M337 415h1M342 383h1M345 387h1M342 389h1M340 402h1M341 410h1M340 412h1M337 388h1M340 396h1M344 389h1M337 396h1M346 383h1M338 379h1M337 406h1M338 397h1M337 390h1M337 380h1M343 379h1M335 408h1M349 385h1M337 411h1M340 396h1M343 392h1M339 405h1M345 411h1M336 402h1M335 403h1M338 404h1M335 406h1M337 404h1M342 397h1M337 406h1M337 379h1M342 394h1M339 414h1M337 396h1M347 390h1M338 404h1M336 402h1M341 381h1M337 412h1M344 399h1M336 395h1M336 383h1M345 390h1M343 404h1M340 390h1M340 383h1M336 385h1M342 395h1M339 391h1M342 415h1M336 376h1M342 406h1M344 399h1M347 396h1M337 394h1M342 406h1M340 388h1M337 386h1M353 398h1M337 413h1M342 383h1M339 396h1M340 408h1M336 396h1M339 399h1M342 395h1M337 414h1M336 396h1M339 402h1M336 406h1M339 377h1M348 375h1M343 384h1M341 411h1M335 404h1M338 390h1M343 413h1M337 395h1M339 377h1M339 407h1M343 389h1M343 380h1M344 414h1M336 394h1M337 382h1M339 389h1M351 380h1M340 392h1M337 391h1M342 389h1M339 414h1M335 403h1M354 386h1M340 380h1M336 384h1M336 379h1M337 386h1M351 389h1M338 406h1M338 396h1M340 381h1M337 403h1M336 379h1M338 387h1M350 391h1M337 405h1M354 410h1M341 403h1M336 411h1M337 412h1M342 415h1M337 415h1M345 391h1M335 379h1M337 410h1M338 401h1M313 380h1M306 380h1M332 374h1M321 376h1M328 379h1M299 377h1M308 380h1M303 377h1M306 380h1M309 376h1M307 377h1M326 374h1M316 380h1M299 377h1M300 378h1M316 380h1M308 379h1M336 380h1M308 377h1M338 378h1M298 377h1M320 378h1M323 374h1M302 379h1M299 380h1M313 380h1M311 378h1M323 376h1M331 378h1M302 379h1M323 380h1M333 377h1M331 377h1M310 376h1M337 379h1M333 378h1M323 380h1M298 379h1M308 377h1M306 379h1M321 378h1M323 380h1M330 379h1M322 380h1M305 377h1M334 378h1M316 376h1M334 380h1M306 375h1M319 377h1M305 380h1M318 376h1M310 380h1M297 380h1M302 380h1M321 375h1M322 379h1M310 377h1M310 380h1M321 376h1M333 374h1M332 377h1M325 376h1M306 377h1M324 377h1M299 376h1M339 377h1M299 376h1M321 378h1M338 378h1M338 379h1M309 379h1M324 380h1M302 379h1M298 380h1M299 380h1M305 376h1M330 378h1M329 380h1M319 376h1M309 376h1M304 380h1M323 380h1M300 378h1M320 377h1M336 377h1M317 378h1M332 379h1M309 376h1M324 380h1M327 380h1M309 378h1M319 376h1M300 377h1M305 378h1M306 377h1M318 380h1M337 379h1M300 380h1M327 380h1M327 377h1M324 379h1M306 378h1M299 378h1M324 379h1M308 379h1M320 379h1M314 380h1M335 380h1M316 380h1M322 377h1M315 378h1M308 379h1M305 378h1M307 380h1M336 379h1M321 377h1M327 380h1M309 379h1M323 379h1M308 380h1M297 380h1M334 380h1M324 379h1M321 377h1M304 380h1M307 379h1M331 379h1M320 378h1M301 376h1M336 376h1M319 379h1M314 380h1M313 378h1M339 380h1M339 380h1M333 378h1M319 377h1M336 380h1M298 379h1M312 377h1M332 380h1M311 379h1M304 378h1M327 378h1M338 379h1M302 377h1M331 380h1M315 377h1M338 375h1M325 377h1M328 380h1M302 379h1M307 379h1M322 379h1M308 376h1M338 376h1M314 376h1M330 379h1M309 379h1M298 379h1M297 379h1M305 380h1M330 379h1M330 380h1M304 380h1M331 380h1M302 380h1M333 376h1M301 376h1M340 374h1M327 375h1M334 377h1M325 379h1M312 374h1M299 379h1M340 380h1M321 380h1M297 379h1M308 376h1M339 379h1M314 377h1M311 379h1M308 379h1M330 379h1M319 380h1M298 380h1M331 378h1M313 378h1M306 377h1M306 380h1M340 380h1M323 379h1M304 378h1M333 376h1M336 379h1M327 377h1M306 378h1M335 378h1M338 379h1M330 379h1M331 378h1M313 380h1M314 380h1M332 377h1M315 378h1M306 377h1M330 378h1M314 380h1M321 379h1M298 378h1M329 379h1M327 378h1M297 376h1M310 377h1M327 377h1M329 379h1M339 380h1M321 375h1M338 380h1M335 378h1M332 375h1M336 380h1M317 377h1M312 378h1M308 379h1M313 380h1M315 380h1M306 376h1M317 379h1M308 376h1M315 379h1M299 379h1M331 380h1M321 379h1M311 379h1M318 379h1M327 376h1M307 379h1M337 375h1M301 379h1M311 376h1M317 378h1M326 379h1M303 379h1M302 378h1M339 378h1M316 375h1M325 376h1M310 375h1M312 380h1M320 379h1M332 377h1M320 379h1M322 379h1M300 380h1M301 377h1M330 377h1M340 380h1M339 379h1M323 375h1M297 378h1M305 380h1M305 377h1M340 377h1M318 379h1M318 380h1M317 374h1M299 378h1M315 379h1M313 375h1M302 380h1M313 379h1M332 380h1M306 380h1M317 378h1M329 379h1M329 375h1M298 377h1M331 374h1M322 376h1M299 376h1M310 380h1M297 379h1M313 376h1M325 379h1M319 377h1M311 380h1M298 380h1M301 379h1M333 380h1M309 376h1M314 380h1M309 374h1M317 378h1M300 376h1M336 377h1M303 380h1M328 379h1M303 380h1M304 380h1M314 376h1M316 380h1M305 379h1M299 379h1M329 380h1M328 377h1M334 376h1M306 379h1M330 379h1M303 380h1M311 379h1M313 377h1M332 377h1M322 380h1M299 380h1M300 378h1M336 378h1M311 380h1M338 377h1M334 378h1M332 379h1M332 380h1M325 378h1M321 377h1M313 379h1M310 379h1M325 378h1M323 376h1M305 378h1M324 375h1M340 378h1M332 375h1M328 379h1M311 376h1M329 376h1M301 378h1M304 375h1M298 380h1M331 379h1M301 379h1M314 380h1M334 380h1M340 379h1M319 379h1M329 380h1M312 380h1M297 378h1M317 377h1M314 376h1M318 378h1M327 379h1M312 380h1M297 380h1M311 376h1M308 378h1M306 378h1M340 376h1M300 378h1M307 378h1M320 376h1M315 377h1M313 380h1M301 379h1M326 378h1M332 380h1M301 374h1M324 380h1M311 376h1M317 380h1M326 380h1M333 378h1M311 377h1M312 377h1M323 379h1M309 380h1M333 377h1M333 379h1M305 377h1M330 377h1M321 377h1M306 379h1M323 376h1M332 377h1M303 380h1M313 377h1M317 376h1M325 380h1M324 377h1M300 380h1M313 376h1M307 379h1M303 379h1M333 376h1M316 378h1M312 375h1M298 377h1M340 377h1M316 380h1M312 379h1M335 380h1M304 375h1M333 380h1M312 374h1M336 377h1M315 380h1M328 374h1M336 380h1M317 375h1M314 379h1M326 377h1M337 378h1M334 378h1M339 380h1M305 379h1M332 379h1M322 378h1M328 376h1M314 379h1M325 379h1M320 379h1M327 379h1M302 377h1M335 378h1M336 375h1M321 379h1M331 377h1M315 378h1M304 379h1M315 378h1M328 380h1M308 379h1M311 378h1M299 379h1M339 376h1M312 378h1M297 380h1M320 379h1M301 377h1M331 377h1M304 374h1M332 378h1M316 378h1M321 378h1M305 375h1M322 376h1M333 374h1M324 376h1M307 379h1M305 380h1M314 378h1M336 379h1M298 380h1M297 379h1M315 380h1M339 379h1M318 379h1M302 377h1M299 375h1M310 377h1M325 380h1M321 379h1M301 380h1M331 377h1M329 380h1M337 378h1M303 375h1M307 377h1M314 379h1M317 377h1M332 377h1M298 379h1M323 376h1M312 378h1M303 378h1M333 379h1M309 374h1M316 379h1M303 378h1M320 378h1M326 379h1M297 378h1M324 377h1M301 377h1M306 380h1M331 380h1M338 375h1M300 377h1M301 379h1M337 374h1M309 378h1M310 379h1M334 380h1M297 378h1M339 380h1M323 377h1M324 376h1M297 380h1M326 378h1M335 377h1M313 380h1M310 379h1M332 379h1M325 379h1M332 379h1M315 377h1M320 374h1M304 379h1M307 377h1M339 375h1M338 380h1M337 374h1M331 377h1M319 377h1M336 380h1M309 377h1M314 380h1M335 375h1M338 380h1M309 377h1M330 379h1M327 377h1M326 376h1M313 378h1M298 379h1M322 379h1M332 380h1M314 380h1M315 380h1M336 380h1M330 380h1M303 377h1M319 375h1M329 378h1M334 377h1M305 379h1M333 380h1M327 380h1M333 378h1M332 379h1M340 377h1M340 378h1M323 379h1M309 380h1M297 380h1M335 377h1M336 378h1M301 380h1M333 379h1M310 380h1M300 380h1M321 376h1M320 377h1M340 378h1M333 380h1M326 378h1M324 378h1M315 375h1M312 380h1M321 379h1M333 377h1M298 379h1M336 377h1M301 375h1M328 379h1M314 374h1M304 378h1M312 376h1M328 377h1M339 379h1M323 378h1M327 379h1M301 377h1M328 374h1M305 378h1M298 379h1M311 380h1M320 379h1M302 380h1M336 379h1M331 380h1M338 375h1M321 379h1M312 379h1M336 375h1M329 379h1M309 377h1M316 379h1M312 379h1M338 380h1M300 380h1M323 378h1M313 377h1M320 378h1M303 379h1M335 378h1M302 380h1M339 378h1M304 379h1M330 378h1M298 375h1M300 378h1M328 375h1M328 376h1M333 375h1M311 378h1M302 377h1M302 376h1M304 379h1M311 380h1M314 380h1M303 378h1M306 379h1M340 379h1M325 380h1M308 377h1M311 380h1M307 379h1M299 379h1M327 380h1M321 379h1M319 377h1M325 377h1M324 379h1M297 379h1M322 380h1M304 380h1M313 378h1M320 374h1M305 378h1M301 377h1M325 375h1M315 378h1M326 377h1M313 376h1M329 375h1M310 377h1M299 378h1M323 376h1M339 380h1M318 377h1M307 380h1M309 379h1M306 375h1M322 380h1M300 379h1M333 377h1M309 375h1M300 378h1M305 375h1M309 380h1M298 380h1M302 380h1M324 374h1M312 380h1M335 376h1M300 379h1"/><path transform="translate(0 0.5)" stroke="#6a6a6a" stroke-width="1.0" fill="none" d="M325 396h1M328 412h1M333 414h1M313 393h1M325 411h1M310 409h1M301 393h1M299 384h1M324 413h1M323 384h1M333 410h1M328 388h1M311 394h1M309 406h1M322 382h1M333 391h1M335 392h1M323 409h1M308 391h1M310 412h1M314 386h1M304 407h1M326 415h1M308 402h1M322 384h1M301 391h1M334 402h1M326 385h1M307 387h1M313 413h1M324 387h1M325 400h1M306 403h1M315 405h1M304 381h1M314 406h1M305 386h1M324 404h1M314 402h1M328 401h1M324 390h1M333 396h1M302 384h1M320 381h1M333 386h1M328 401h1M315 412h1M303 391h1M331 388h1M303 410h1M330 396h1M306 386h1M333 415h1M301 411h1M302 394h1M305 413h1M322 401h1M335 399h1M313 408h1M321 385h1M307 390h1M307 388h1M312 384h1M309 408h1M333 401h1M318 415h1M318 408h1M316 403h1M326 403h1M305 410h1M328 389h1M300 407h1M310 408h1M304 388h1M312 409h1M307 393h1M298 412h1M331 395h1M298 382h1M329 395h1M306 388h1M323 391h1M325 411h1M329 387h1M325 395h1M322 395h1M299 383h1M328 383h1M326 413h1M304 414h1M318 389h1M310 407h1M303 393h1M304 400h1M308 409h1M322 408h1M327 390h1M328 403h1M320 389h1M315 385h1M316 386h1M306 385h1M321 407h1M331 389h1M302 393h1M321 396h1M332 404h1M305 390h1M312 400h1M313 388h1M314 394h1M331 387h1M318 389h1M312 407h1M335 397h1M320 384h1M328 388h1M315 389h1M311 408h1M335 383h1M307 385h1M314 403h1M307 384h1M309 405h1M311 415h1M330 415h1M319 412h1M309 410h1M324 412h1M304 404h1M318 411h1M315 413h1M299 382h1M307 411h1M319 404h1M327 403h1M320 393h1M306 407h1M315 391h1M327 386h1M297 385h1M307 388h1M329 386h1M303 413h1M325 409h1M312 382h1M326 406h1M317 387h1M303 407h1M306 389h1M306 389h1M318 383h1M324 383h1M333 382h1M303 413h1M300 398h1M317 383h1M297 414h1M317 391h1M323 413h1M313 397h1M325 395h1M309 391h1M318 387h1M312 381h1M314 384h1M325 391h1M323 406h1M316 399h1M326 403h1M331 397h1M320 403h1M322 401h1M323 394h1M323 398h1M308 410h1M310 405h1M329 389h1M317 402h1M297 395h1M310 381h1M306 394h1M303 403h1M320 381h1M322 403h1M305 404h1M326 382h1M313 409h1M308 384h1M299 382h1M305 398h1M328 391h1M298 392h1M327 402h1M297 387h1M333 395h1M335 405h1M317 384h1M317 392h1M329 407h1M320 390h1M297 388h1M324 395h1M298 395h1M314 405h1M313 397h1M332 390h1M333 411h1M331 411h1M299 408h1M327 403h1M308 404h1M327 403h1M324 403h1M320 397h1M307 389h1M313 398h1M332 386h1M331 412h1M312 402h1"/></g><path d="M513 244.5V417" stroke="#858585" stroke-width="2" fill="none"/><path d="M295.5 244.5H514" stroke="#555" stroke-width="1.6" fill="none"/><path d="M354.4 244.5V417M295.5 373.4H513" stroke="#454545" stroke-width="1.6" fill="none"/><path d="M295.5 243.5V417" stroke="#6a6a6a" stroke-width="1.3" fill="none"/><path d="M294.8 417H513" stroke="#1a1a1a" stroke-width="1.7" fill="none"/><path d="M295.5 417v2.5M311.9 417v1.5M321.4 417v1.5M328.2 417v1.5M333.5 417v1.5M337.8 417v1.5M341.5 417v1.5M344.6 417v1.5M347.4 417v1.5M349.9 417v2.5M366.2 417v1.5M375.8 417v1.5M382.6 417v1.5M387.9 417v1.5M392.2 417v1.5M395.8 417v1.5M399.0 417v1.5M401.8 417v1.5M404.2 417v2.5M420.6 417v1.5M430.2 417v1.5M437.0 417v1.5M442.3 417v1.5M446.6 417v1.5M450.2 417v1.5M453.4 417v1.5M456.1 417v1.5M458.6 417v2.5M475.0 417v1.5M484.6 417v1.5M491.4 417v1.5M496.6 417v1.5M500.9 417v1.5M504.6 417v1.5M507.7 417v1.5M510.5 417v1.5M513 417v2.5" stroke="#2a2a2a" stroke-width="1.1" fill="none"/><path d="M295.9 417.0h-2.6M295.9 404.0h-2.0M295.9 396.4h-2.0M295.9 391.0h-2.0M295.9 386.9h-2.0M295.9 383.4h-2.0M295.9 380.6h-2.0M295.9 378.1h-2.0M295.9 375.8h-2.0M295.9 373.9h-2.6M295.9 360.9h-2.0M295.9 353.3h-2.0M295.9 347.9h-2.0M295.9 343.7h-2.0M295.9 340.3h-2.0M295.9 337.4h-2.0M295.9 334.9h-2.0M295.9 332.7h-2.0M295.9 330.8h-2.6M295.9 317.8h-2.0M295.9 310.2h-2.0M295.9 304.8h-2.0M295.9 300.6h-2.0M295.9 297.2h-2.0M295.9 294.3h-2.0M295.9 291.8h-2.0M295.9 289.6h-2.0M295.9 287.6h-2.6M295.9 274.6h-2.0M295.9 267.0h-2.0M295.9 261.7h-2.0M295.9 257.5h-2.0M295.9 254.1h-2.0M295.9 251.2h-2.0M295.9 248.7h-2.0M295.9 246.5h-2.0M295.9 244.5h-2.6" stroke="#2a2a2a" stroke-width="1.1" fill="none"/><text x="296.5" y="427" font-size="6" fill="#2a2a2a" text-anchor="end">10</text><text x="296.7" y="424" font-size="4.5" fill="#2a2a2a">0</text><text x="350.9" y="427" font-size="6" fill="#2a2a2a" text-anchor="end">10</text><text x="351.1" y="424" font-size="4.5" fill="#2a2a2a">1</text><text x="405.2" y="427" font-size="6" fill="#2a2a2a" text-anchor="end">10</text><text x="405.4" y="424" font-size="4.5" fill="#2a2a2a">2</text><text x="459.6" y="427" font-size="6" fill="#2a2a2a" text-anchor="end">10</text><text x="459.8" y="424" font-size="4.5" fill="#2a2a2a">3</text><text x="514.0" y="427" font-size="6" fill="#2a2a2a" text-anchor="end">10</text><text x="514.2" y="424" font-size="4.5" fill="#2a2a2a">4</text><g transform="translate(290.1 417.0) rotate(-90)"><text x="1.6" y="0" font-size="5.8" fill="#222" text-anchor="end">10</text><text x="2.0" y="-2.8" font-size="5" fill="#222">0</text></g><g transform="translate(290.1 373.9) rotate(-90)"><text x="1.6" y="0" font-size="5.8" fill="#222" text-anchor="end">10</text><text x="2.0" y="-2.8" font-size="5" fill="#222">1</text></g><g transform="translate(290.1 330.8) rotate(-90)"><text x="1.6" y="0" font-size="5.8" fill="#222" text-anchor="end">10</text><text x="2.0" y="-2.8" font-size="5" fill="#222">2</text></g><g transform="translate(290.1 287.6) rotate(-90)"><text x="1.6" y="0" font-size="5.8" fill="#222" text-anchor="end">10</text><text x="2.0" y="-2.8" font-size="5" fill="#222">3</text></g><g transform="translate(290.1 244.5) rotate(-90)"><text x="-0.3" y="0" font-size="5.8" fill="#222" text-anchor="end">10</text></g><path d="M84.0 390.8 L84.0 390.5 L84.8 390.5 L85.6 390.5 L86.4 390.5 L87.2 390.1 L88.0 390.0 L88.8 389.5 L89.6 389.7 L90.4 389.9 L91.2 389.8 L92.0 389.8 L92.8 389.9 L93.6 389.7 L94.4 389.2 L95.2 389.8 L96.0 389.1 L96.8 388.9 L97.6 388.8 L98.4 388.5 L99.2 387.4 L100.0 387.4 L100.8 386.5 L101.6 385.6 L102.4 385.1 L103.2 384.2 L104.0 383.6 L104.8 382.1 L105.6 381.4 L106.4 380.8 L107.2 380.1 L108.0 378.6 L108.8 378.0 L109.6 377.6 L110.4 377.1 L111.2 374.2 L112.0 374.3 L112.8 373.2 L113.6 372.1 L114.4 370.6 L115.2 370.1 L116.0 368.3 L116.8 366.4 L117.6 365.3 L118.4 362.8 L119.2 360.1 L120.0 357.9 L120.8 354.3 L121.6 349.9 L122.4 346.5 L123.2 344.5 L124.0 342.4 L124.8 341.8 L125.6 338.5 L126.4 335.7 L127.2 336.0 L128.0 334.2 L128.8 332.2 L129.6 331.4 L130.4 332.5 L131.2 328.6 L132.0 328.4 L132.8 328.5 L133.6 330.8 L134.4 327.4 L135.2 329.5 L136.0 328.4 L136.8 328.6 L137.6 329.7 L138.4 327.9 L139.2 324.9 L140.0 327.3 L140.8 333.6 L141.6 335.4 L142.4 336.2 L143.2 340.2 L144.0 342.9 L144.8 344.3 L145.6 346.0 L146.4 346.7 L147.2 351.0 L148.0 351.6 L148.8 354.1 L149.6 356.6 L150.4 361.3 L151.2 362.9 L152.0 366.1 L152.8 368.4 L153.6 370.3 L154.4 372.4 L155.2 374.5 L156.0 376.7 L156.8 379.2 L157.6 381.6 L158.4 383.0 L159.2 383.3 L160.0 385.4 L160.8 386.3 L161.6 386.8 L162.4 388.0 L163.2 388.6 L164.0 389.0 L164.8 389.6 L165.6 388.8 L166.4 389.5 L167.2 389.9 L168.0 389.8 L168.8 390.4 L169.6 390.2 L170.4 390.4 L171.2 390.2 L172.0 389.6 L172.8 390.3 L173.6 390.2 L174.4 390.3 L174.4 390.8Z" fill="#6e6e6e" stroke="#3a3a3a" stroke-width="0.9"/><path d="M19.5 390.2 L20 383 L21 384 L22 390.2 L40 390.2 L40.0 390.5 L40.8 389.8 L41.6 390.2 L42.4 390.2 L43.2 390.1 L44.0 390.2 L44.8 390.3 L45.6 390.1 L46.4 390.0 L47.2 389.7 L48.0 389.8 L48.8 390.0 L49.6 389.5 L50.4 389.9 L51.2 389.9 L52.0 389.8 L52.8 389.9 L53.6 389.8 L54.4 389.8 L55.2 389.7 L56.0 389.6 L56.8 389.4 L57.6 389.8 L58.4 389.0 L59.2 389.3 L60.0 389.0 L60.8 389.1 L61.6 389.8 L62.4 388.2 L63.2 389.1 L64.0 388.8 L64.8 388.8 L65.6 387.7 L66.4 388.2 L67.2 387.8 L68.0 387.1 L68.8 387.2 L69.6 385.9 L70.4 386.5 L71.2 386.4 L72.0 385.1 L72.8 385.6 L73.6 385.2 L74.4 384.3 L75.2 383.7 L76.0 382.8 L76.8 382.7 L77.6 382.5 L78.4 382.8 L79.2 381.6 L80.0 381.6 L80.8 380.5 L81.6 379.8 L82.4 379.5 L83.2 379.1 L84.0 377.5 L84.8 376.5 L85.6 374.9 L86.4 373.4 L87.2 373.0 L88.0 371.8 L88.8 368.9 L89.6 368.5 L90.4 367.7 L91.2 365.4 L92.0 363.3 L92.8 362.3 L93.6 358.2 L94.4 358.8 L95.2 356.9 L96.0 354.8 L96.8 352.0 L97.6 349.7 L98.4 347.6 L99.2 343.9 L100.0 340.9 L100.8 336.2 L101.6 336.1 L102.4 331.0 L103.2 329.3 L104.0 324.7 L104.8 324.3 L105.6 321.9 L106.4 322.5 L107.2 323.8 L108.0 324.0 L108.8 323.9 L109.6 328.8 L110.4 329.2 L111.2 335.5 L112.0 334.8 L112.8 339.6 L113.6 341.6 L114.4 344.1 L115.2 346.5 L116.0 351.7 L116.8 354.3 L117.6 361.2 L118.4 364.1 L119.2 366.2 L120.0 370.6 L120.8 375.7 L121.6 378.2 L122.4 381.1 L123.2 383.7 L124.0 385.7 L124.8 386.6 L125.6 388.2 L126.4 388.8 L127.2 389.4 L128.0 389.6 L128.8 389.8 L129.6 389.4 L130.4 390.4 L131.2 390.2 L132.0 390.4 L132.8 390.5 L133.6 389.9 L134.4 390.2 L135.2 390.1 L136.0 390.2 L136.8 390.2 L137.6 389.9 L138.4 389.8 L139.2 390.2 L140.0 390.4 L140.8 389.6 L141.6 390.1 L142.4 390.5 L143.2 390.5 L144.0 389.6 L144.8 390.4 L145.6 390.1 L146.4 390.0 L147.2 390.3 L148.0 389.9 L148.8 390.5 L149.6 390.5 L150.4 389.5 L151.2 390.3 L152.0 390.5 L152.8 390.3 L153.6 389.6 L154.4 389.9 L155.2 389.8 L156.0 390.1 L156.8 390.5 L157.6 390.2 L158.4 390.5 L159.2 390.4 L160.0 390.4 L160.8 390.5 L161.6 390.1 L162.4 389.8 L163.2 390.4 L164.0 390.3 L164.8 389.7 L165.6 390.0 L166.4 389.9 L167.2 390.3 L168.0 390.1 L168.8 389.8 L169.6 389.8 L170.4 389.9 L171.2 390.5 L172.0 389.8 L172.8 389.9 L173.6 390.3 L174.4 389.9 L175.2 390.2 L176.0 390.1 L176.8 390.5 L177.6 390.2 L178.4 390.0 L179.2 389.4 L180.0 390.3 L180.8 390.0 L181.6 390.5 L182.4 390.4 L183.2 390.2 L184.0 390.4 L184.8 390.4 L185.6 389.7 L186.4 390.1 L187.2 390.2 L188.0 390.1 L188.8 390.0 L189.6 390.2 L190.4 390.2 L191.2 390.2 L192.0 390.2 L192.8 390.1 L193.6 390.3 L194.4 390.2 L195.2 389.8 L196.0 390.1 L196.8 390.5 L197.6 389.9 L198.4 390.4 L199.2 390.3 L200.0 390.3 L200.8 390.0 L201.6 390.2 L202.4 390.0 L203.2 390.5 L204.0 390.0 L204.8 390.2 L205.6 390.2 L206.4 389.5 L207.2 389.4 L208.0 390.4 L208.8 390.0 L209.6 390.4 L210.4 389.9 L211.2 390.4 L212.0 390.1 L212.8 390.4 L213.6 389.9 L214.4 390.4 L215.2 390.2 L216.0 390.3 L216.8 389.9 L217.6 390.2 L218.4 390.2 L219.2 390.5 L220.0 390.2 L220.8 390.3 L221.6 390.0 L222.4 390.0 L223.2 390.1 L224.0 390.1 L224.8 390.0 L225.6 390.0 L226.4 390.1 L227.2 390.5 L228.0 390.2 L228.8 389.8 L229.6 390.3 L230.4 390.1 L231.2 390.5 L232.0 390.0 L232.8 390.3 L233.6 389.9 L234.4 390.5 L235.2 389.8 L236.0 390.0 L236.8 390.3 L237.6 390.5 L238.4 390.5 L239.2 390.2 L240.0 389.7 L240.8 390.4" fill="none" stroke="#000" stroke-width="1.5" stroke-linejoin="round"/><path d="M241 286.5V391" stroke="#8e8e8e" stroke-width="2" fill="none"/><path d="M18.7 286.5H242" stroke="#555" stroke-width="1.4" fill="none"/><path d="M18.7 285.5V391" stroke="#888" stroke-width="1" fill="none"/><path d="M18.2 391H241" stroke="#222" stroke-width="1.4" fill="none"/><path d="M18.7 391v2.5M35.4 391v1.5M45.2 391v1.5M52.2 391v1.5M57.5 391v1.5M61.9 391v1.5M65.7 391v1.5M68.9 391v1.5M71.7 391v1.5M74.3 391v2.5M91.0 391v1.5M100.8 391v1.5M107.7 391v1.5M113.1 391v1.5M117.5 391v1.5M121.2 391v1.5M124.5 391v1.5M127.3 391v1.5M129.8 391v2.5M146.6 391v1.5M156.4 391v1.5M163.3 391v1.5M168.7 391v1.5M173.1 391v1.5M176.8 391v1.5M180.0 391v1.5M182.9 391v1.5M185.4 391v2.5M202.2 391v1.5M211.9 391v1.5M218.9 391v1.5M224.3 391v1.5M228.7 391v1.5M232.4 391v1.5M235.6 391v1.5M238.5 391v1.5M241 391v2.5" stroke="#2a2a2a" stroke-width="1.1" fill="none"/><path d="M19.599999999999998 391.0h-3M19.599999999999998 385.8h-2.4M19.599999999999998 380.6h-2.4M19.599999999999998 375.3h-2.4M19.599999999999998 370.1h-3M19.599999999999998 364.9h-2.4M19.599999999999998 359.6h-2.4M19.599999999999998 354.4h-2.4M19.599999999999998 349.2h-3M19.599999999999998 344.0h-2.4M19.599999999999998 338.8h-2.4M19.599999999999998 333.5h-2.4M19.599999999999998 328.3h-3M19.599999999999998 323.1h-2.4M19.599999999999998 317.9h-2.4M19.599999999999998 312.6h-2.4M19.599999999999998 307.4h-3M19.599999999999998 302.2h-2.4M19.599999999999998 296.9h-2.4M19.599999999999998 291.7h-2.4M19.599999999999998 286.5h-3" stroke="#333" stroke-width="1.6" fill="none"/><text transform="translate(14.1 391.0) rotate(-90)" font-size="5.5" fill="#333" text-anchor="middle">0</text><text transform="translate(14.1 370.1) rotate(-90)" font-size="5.5" fill="#333" text-anchor="middle">40</text><text transform="translate(14.1 349.2) rotate(-90)" font-size="5.5" fill="#333" text-anchor="middle">80</text><text transform="translate(14.1 328.3) rotate(-90)" font-size="5.5" fill="#333" text-anchor="middle">120</text><text transform="translate(14.1 307.4) rotate(-90)" font-size="5.5" fill="#333" text-anchor="middle">160</text><text transform="translate(14.1 286.5) rotate(-90)" font-size="5.5" fill="#333" text-anchor="middle">200</text><text transform="translate(9 341) rotate(-90)" font-size="5.5" fill="#333" text-anchor="middle">Counts</text><text x="19.7" y="401" font-size="6" fill="#2a2a2a" text-anchor="end">10</text><text x="19.9" y="398" font-size="4.5" fill="#2a2a2a">0</text><text x="75.3" y="401" font-size="6" fill="#2a2a2a" text-anchor="end">10</text><text x="75.5" y="398" font-size="4.5" fill="#2a2a2a">1</text><text x="130.8" y="401" font-size="6" fill="#2a2a2a" text-anchor="end">10</text><text x="131.0" y="398" font-size="4.5" fill="#2a2a2a">2</text><text x="186.4" y="401" font-size="6" fill="#2a2a2a" text-anchor="end">10</text><text x="186.6" y="398" font-size="4.5" fill="#2a2a2a">3</text><text x="242.0" y="401" font-size="6" fill="#2a2a2a" text-anchor="end">10</text><text x="242.2" y="398" font-size="4.5" fill="#2a2a2a">4</text><text x="-0.6" y="25.6" font-size="36" font-weight="bold">A</text><text x="-1.6" y="264" font-size="36" font-weight="bold">B</text><text x="226.8" y="34.1" font-size="17" font-weight="bold" textLength="37.5" lengthAdjust="spacingAndGlyphs">0.5%</text><text x="468.7" y="34.1" font-size="17" font-weight="bold" textLength="33" lengthAdjust="spacingAndGlyphs">85%</text><text x="241.3" y="172.5" font-size="19.5" textLength="18.6" lengthAdjust="spacingAndGlyphs">(i)</text><text x="476.7" y="172.5" font-size="19.5">(ii)</text><text x="210.6" y="382.2" font-size="19.5" textLength="18.3" lengthAdjust="spacingAndGlyphs">(i)</text><text x="481.3" y="406.9" font-size="19.5">(ii)</text><text x="58.3" y="214" font-size="18" font-weight="bold" textLength="38.6" lengthAdjust="spacingAndGlyphs">CD5</text><text x="103.3" y="422" font-size="18" font-weight="bold" textLength="50.6" lengthAdjust="spacingAndGlyphs">CD1d</text><text x="301.8" y="449.2" font-size="18" font-weight="bold" textLength="58.6" lengthAdjust="spacingAndGlyphs">CD103</text><text transform="translate(31.6 120.8) rotate(-90)" font-size="18" font-weight="bold" textLength="51.7" lengthAdjust="spacingAndGlyphs">CD1d</text><text transform="translate(274.6 355.2) rotate(-90)" font-size="18" font-weight="bold" textLength="50.1" lengthAdjust="spacingAndGlyphs">CD1d</text><path d="M105 210.8H507" stroke="#000" stroke-width="3"/><path d="M505.5 207L513.5 210.8L505.5 214.6Z" fill="#000"/><path d="M373.7 444.1H510" stroke="#000" stroke-width="2.8"/><path d="M508.5 440.3L516.3 444.1L508.5 447.9Z" fill="#000"/></svg>
</body></html>
